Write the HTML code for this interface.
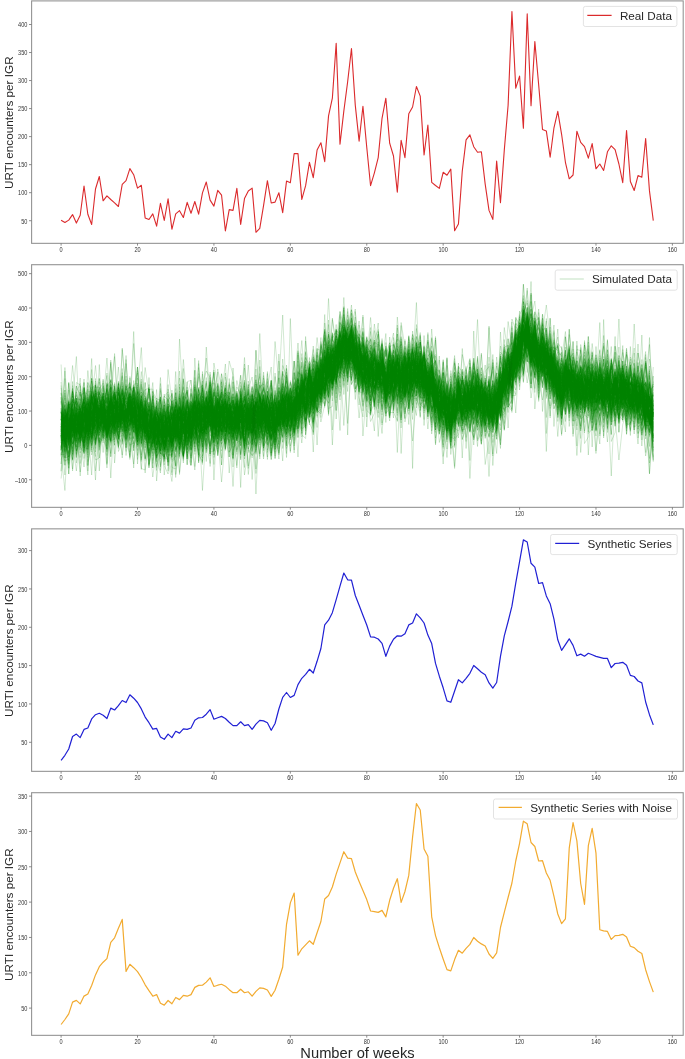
<!DOCTYPE html><html><head><meta charset="utf-8"><style>html,body{margin:0;padding:0;background:#fff;width:685px;height:1059px;overflow:hidden;}svg{display:block;will-change:transform;font-family:"Liberation Sans",sans-serif;}</style></head><body>
<svg width="685" height="1059" viewBox="0 0 685 1059">
<rect width="685" height="1059" fill="#fff"/>
<g transform="translate(61.1 0) scale(3.8206 0.5)" fill="none" stroke="#008000" stroke-opacity="0.2" stroke-width="0.9" stroke-linejoin="round">
<path vector-effect="non-scaling-stroke" d="M0 846l1 27 1-65 1 24 1 41 1 21 1 11 1-29 1-37 1 42 1-33 1-16 1 6 1 24 1 5 1-28 1 20 1-27 1-24 1 13 1 52 1-55 1 49 1-1 1-32 1 26 1 9 1 0 1-4 1-8 1-38 1 68 1 25 1-68 1 20 1-19 1-29 1 18 1 19 1-29 1 91 1-29 1-83 1 23 1-35 1 53 1 9 1 6 1-19 1 17 1-19 1 45 1-28 1-7 1-7 1-20 1 38 1-25 1-58 1 44 1-19 1 16 1-25 1-19 1 3 1-24 1 63 1-59 1 60 1-45 1 54 1-97 1 27 1-5 1-56 1 30 1-32 1 14 1-11 1 84 1-38 1-28 1 69 1-12 1-22 1-19 1 26 1-22 1-3 1 61 1-10 1-21 1 63 1-83 1 12 1 2 1 21 1-22 1 45 1-38 1 69 1-24 1 49 1-31 1-27 1 31 1-35 1-10 1 16 1-61 1 96 1-3 1-42 1 16 1 29 1-86 1 46 1-37 1-12 1-29 1-40 1-23 1 0 1 97 1-64 1 59 1-25 1 32 1-57 1 54 1 71 1-42 1 53 1-81 1 11 1-4 1-15 1 50 1-94 1 98 1-8 1-38 1 47 1 3 1 31 1-86 1 64 1-15 1-21 1 2 1 20 1 0 1 4 1 67 1-45 1 49"/>
<path vector-effect="non-scaling-stroke" d="M0 885l1-8 1 44 1-138 1 63 1-74 1 114 1-78 1 33 1-33 1 57 1-11 1-4 1-12 1-5 1-6 1 2 1 21 1 1 1-32 1 45 1-32 1 12 1 24 1-17 1 18 1 8 1-23 1 13 1-24 1-7 1-3 1 56 1-71 1-2 1 6 1 30 1-22 1 6 1 11 1-15 1 3 1-34 1 17 1-1 1 78 1-7 1-80 1 28 1 2 1-41 1 28 1 5 1 6 1-44 1 82 1-54 1 35 1 4 1-57 1 25 1 15 1-57 1 9 1-9 1 9 1-71 1 2 1 34 1 56 1-54 1-53 1 39 1-78 1 35 1 59 1-128 1 63 1 33 1-24 1-16 1 111 1-68 1 61 1-33 1 55 1-87 1 89 1-55 1-28 1 21 1 11 1-18 1-42 1-5 1 60 1 6 1-68 1 75 1 29 1 1 1 11 1 75 1-99 1 49 1-18 1 51 1-54 1-75 1 85 1-43 1 20 1 7 1-19 1 0 1 34 1-75 1-10 1-1 1-35 1 6 1-146 1 126 1 13 1 22 1 32 1-41 1-19 1 53 1 33 1-31 1-19 1-36 1 62 1 28 1-15 1-9 1-7 1 7 1 38 1-54 1 35 1 28 1-4 1 8 1-58 1 28 1-9 1-29 1 35 1-16 1 55 1-50 1 1 1 51 1-40"/>
<path vector-effect="non-scaling-stroke" d="M0 860l1-29 1 10 1-7 1 27 1 9 1-34 1-8 1-25 1-72 1 79 1 23 1 4 1-39 1 40 1 27 1-41 1 7 1-6 1 15 1-11 1 22 1-15 1-48 1 30 1 22 1 36 1 54 1-49 1 54 1 3 1-56 1-46 1-2 1 7 1 5 1-111 1 68 1 42 1-83 1 106 1-2 1-67 1 96 1-90 1-17 1 26 1 52 1-130 1 108 1-15 1 76 1-81 1 25 1 19 1-97 1 76 1-2 1-4 1 10 1-41 1 5 1-44 1 24 1 17 1-76 1 91 1-84 1 37 1-39 1-47 1 11 1 9 1-11 1 51 1-50 1 15 1 22 1 18 1-48 1 110 1 7 1-67 1-14 1 9 1-1 1 12 1-47 1 33 1-9 1 83 1-103 1 33 1-7 1 5 1 41 1-73 1 33 1 58 1-31 1-4 1 94 1-42 1 3 1-39 1-13 1 42 1-67 1-36 1 73 1-20 1 26 1 0 1 33 1-21 1-69 1 37 1-73 1-22 1 86 1-57 1-89 1 55 1 31 1 40 1-44 1-35 1 70 1 94 1-141 1 103 1-27 1-22 1-25 1-18 1 64 1-9 1 15 1 48 1 23 1-78 1 29 1-11 1 47 1-61 1-5 1-4 1 28 1 70 1-169 1 131 1-61 1 8 1-41 1 115 1-68"/>
<path vector-effect="non-scaling-stroke" d="M0 957l1-71 1-76 1-7 1 5 1 79 1-24 1 24 1-116 1 36 1 14 1 29 1 3 1 0 1 27 1-69 1 20 1-55 1-10 1 56 1 62 1-50 1-69 1 164 1-48 1 7 1-15 1 9 1-25 1-25 1 50 1-18 1-5 1-55 1 25 1-2 1-15 1 7 1-2 1 29 1-31 1-11 1 29 1 42 1 5 1-40 1-7 1 12 1-68 1 90 1 49 1-73 1 9 1-64 1 48 1 7 1 8 1-96 1 47 1 37 1 15 1-46 1-4 1 1 1 10 1 30 1-40 1-30 1-39 1-42 1 7 1 23 1 25 1-13 1-17 1 1 1-32 1 59 1-57 1 3 1 83 1-99 1 86 1-20 1-33 1 95 1-38 1-5 1-8 1 24 1-12 1-16 1-38 1-3 1 81 1-22 1-24 1 45 1 30 1-41 1 55 1-54 1 34 1-32 1-17 1 37 1 10 1-26 1 79 1-41 1-43 1 72 1-70 1-48 1 85 1-96 1 14 1-29 1 85 1-68 1-17 1-55 1-25 1 36 1 46 1 0 1 44 1-41 1 40 1 42 1-20 1 34 1 15 1-35 1 10 1-28 1 16 1-49 1-14 1-8 1 33 1-11 1 36 1-24 1 50 1 15 1-5 1-42 1-9 1 45 1-19 1-19 1 17 1 24 1-37 1 63"/>
<path vector-effect="non-scaling-stroke" d="M0 899l1-103 1 84 1-96 1 49 1 31 1-39 1-25 1-13 1 50 1-8 1 7 1 28 1-21 1-58 1 42 1-1 1-40 1 58 1-74 1 42 1 41 1-3 1 15 1-84 1 84 1 1 1-8 1 8 1-18 1-44 1 14 1 69 1 6 1-18 1-34 1 5 1-54 1 40 1-44 1 51 1-9 1 72 1-25 1-52 1-13 1 73 1-4 1-35 1-41 1 99 1-117 1 60 1-35 1-29 1 48 1-14 1-48 1 48 1-11 1-25 1 22 1 2 1 2 1-28 1 4 1 35 1-48 1 34 1-35 1-18 1-85 1 22 1 31 1-99 1 82 1 7 1-43 1 40 1 24 1 39 1-18 1-17 1-20 1 74 1-17 1 63 1-104 1 16 1-8 1-42 1 24 1 52 1-76 1 36 1-18 1 40 1-21 1 103 1-19 1-47 1 75 1-8 1 17 1-56 1 21 1 27 1-45 1-51 1 70 1 31 1-54 1-11 1 37 1-109 1 58 1-33 1-25 1-33 1 74 1-49 1-28 1-8 1-52 1 97 1-14 1-28 1 10 1 32 1-8 1 52 1 71 1-112 1 59 1 31 1-18 1-8 1 5 1 10 1-35 1 29 1 3 1-21 1-27 1 58 1 5 1-31 1 31 1-56 1 45 1 16 1-18 1-2 1-5 1 49 1-1"/>
<path vector-effect="non-scaling-stroke" d="M0 863l1-26 1 54 1-35 1 4 1-32 1 37 1-10 1-49 1 18 1 42 1-74 1 79 1-48 1 16 1-3 1-40 1 50 1 5 1 42 1-26 1-21 1-11 1-2 1 56 1-25 1-87 1 59 1 36 1 11 1-33 1 46 1-102 1 23 1-6 1 23 1 47 1 18 1-21 1-53 1 40 1-43 1 32 1-17 1-20 1 93 1-74 1-1 1-24 1 13 1 9 1-26 1-5 1 30 1 10 1-23 1 29 1 50 1-53 1-115 1 103 1-11 1-1 1 13 1-26 1 23 1-49 1-22 1-7 1-26 1 5 1 2 1-44 1 25 1 4 1-14 1 0 1-2 1-53 1 35 1 129 1-87 1 20 1 8 1 34 1-4 1 34 1-25 1-73 1 27 1 35 1-48 1 11 1-7 1 2 1-5 1 16 1 77 1-49 1 43 1 14 1-37 1 14 1 29 1-57 1 35 1-31 1-1 1-2 1 17 1-31 1 78 1-32 1 13 1 9 1-36 1-33 1 16 1-79 1-27 1-29 1-1 1-2 1 4 1 62 1 18 1-105 1 148 1-76 1 68 1-37 1 20 1 91 1-67 1-61 1 24 1 66 1-11 1-35 1 76 1-22 1 18 1-56 1 13 1-70 1 34 1-31 1 67 1 0 1 32 1-73 1 38 1 4 1 41 1 11 1-48"/>
<path vector-effect="non-scaling-stroke" d="M0 881l1-95 1 129 1-90 1 13 1 24 1 15 1 29 1-105 1 89 1-56 1-36 1 129 1-145 1 62 1-47 1 36 1 14 1-25 1 8 1 43 1 20 1-12 1-44 1-15 1 27 1 13 1 19 1 39 1 43 1-80 1-66 1 37 1-42 1-10 1 29 1-11 1 46 1-15 1-57 1 61 1-38 1-26 1 28 1-22 1-2 1-1 1 65 1 23 1-72 1 85 1-71 1-55 1 57 1-43 1 46 1 66 1-78 1 24 1 28 1-40 1 63 1-41 1-42 1-106 1 72 1 39 1 3 1-75 1-31 1 96 1-28 1-44 1 39 1-82 1-75 1 87 1-15 1 59 1-11 1 8 1 24 1-31 1 8 1 2 1 43 1-99 1 43 1-1 1-19 1 58 1-9 1-26 1-65 1 45 1 133 1-101 1 54 1-40 1 33 1-15 1 102 1-86 1 12 1 6 1 18 1-19 1-39 1 35 1-18 1 14 1 56 1-63 1-16 1 39 1-70 1 26 1-52 1 6 1-59 1 13 1-53 1 50 1 30 1-65 1 74 1 12 1-58 1 46 1-15 1-34 1 131 1-40 1-107 1 91 1 29 1-11 1-3 1-6 1 33 1-28 1 59 1-18 1 29 1-53 1-6 1 40 1-35 1-14 1 44 1-5 1-53 1 13 1 93 1-32 1 22"/>
<path vector-effect="non-scaling-stroke" d="M0 837l1-3 1 59 1-94 1 78 1-1 1-77 1 47 1-23 1 90 1-97 1 25 1 27 1-29 1 51 1-61 1-44 1 42 1-39 1 42 1 37 1 7 1 16 1-36 1 16 1-13 1 7 1 28 1-41 1 3 1-36 1 72 1-29 1-48 1 19 1-8 1 7 1 27 1-64 1 61 1-27 1 70 1-139 1 114 1-42 1 17 1-46 1 43 1-21 1 30 1 16 1-170 1 96 1 24 1 58 1-13 1-20 1-2 1-112 1 21 1 69 1 14 1-44 1 9 1 15 1-49 1 6 1 3 1-31 1 55 1-101 1 48 1 3 1 7 1-65 1 28 1-40 1 34 1-13 1 53 1 13 1-43 1 51 1-20 1-21 1 30 1-19 1 75 1-103 1 77 1-44 1-22 1 99 1-73 1-30 1 70 1 20 1-80 1 62 1 19 1-27 1 74 1-61 1 4 1 23 1-17 1 34 1-36 1-3 1 17 1-30 1 57 1-23 1 14 1-34 1 4 1 48 1-96 1-33 1-41 1 34 1-42 1-33 1 66 1-42 1 26 1-16 1 57 1-24 1 53 1-75 1 56 1-38 1 72 1-35 1 5 1 37 1 73 1-161 1 49 1 76 1-6 1-56 1 37 1 24 1-16 1-47 1-14 1 20 1-50 1 40 1 67 1-55 1 71 1-7 1-6"/>
<path vector-effect="non-scaling-stroke" d="M0 838l1 49 1-11 1 10 1 56 1-79 1-6 1-24 1-10 1-21 1 41 1 19 1-40 1-9 1 17 1 5 1 5 1-32 1-8 1 18 1 33 1-59 1 72 1-15 1-11 1-22 1 1 1 99 1-58 1 36 1-82 1 20 1-47 1 76 1-14 1-40 1 49 1 0 1 47 1-43 1-30 1 15 1-14 1 26 1-10 1-46 1 49 1-6 1 0 1-65 1 74 1-17 1-72 1 44 1 73 1-121 1 119 1-82 1 48 1 23 1-8 1-22 1-68 1 34 1-66 1 95 1-113 1 70 1-28 1-21 1-5 1-19 1-2 1-4 1 64 1-40 1-74 1 64 1 1 1-17 1 19 1 0 1-80 1 64 1 74 1-67 1 65 1-40 1 28 1 13 1-13 1-18 1-5 1 23 1-33 1 23 1-18 1 29 1 30 1-4 1 4 1 39 1-35 1-81 1 64 1-30 1 27 1 21 1-36 1 77 1-90 1 35 1 31 1 49 1-16 1-122 1-27 1 41 1-25 1-33 1 56 1-59 1-55 1 69 1 24 1-20 1 30 1-35 1 19 1 54 1-51 1-4 1 85 1-39 1-82 1 111 1-34 1-17 1 72 1-26 1 70 1-82 1-23 1 49 1-13 1 18 1-73 1 40 1 24 1-55 1-49 1 117 1-76 1 119 1-51 1-8"/>
<path vector-effect="non-scaling-stroke" d="M0 872l1-21 1 97 1-131 1 24 1-4 1 14 1-5 1-51 1 147 1-65 1 4 1-26 1 26 1-91 1 65 1-64 1 52 1-26 1 9 1 42 1-45 1-9 1 38 1 13 1 47 1-70 1 61 1-34 1-15 1 11 1-8 1-23 1 23 1-19 1 20 1-17 1 2 1-6 1-27 1 9 1 32 1-26 1 76 1-42 1-2 1 47 1-133 1 23 1 62 1-17 1-15 1-8 1 9 1 50 1 45 1-47 1-72 1 1 1 37 1-40 1-19 1 63 1-84 1 34 1-25 1 27 1-70 1 59 1-66 1 75 1-58 1-17 1-52 1 14 1 25 1 0 1 23 1 24 1-35 1 4 1 38 1 19 1 33 1-30 1 24 1-115 1 109 1-75 1 34 1-29 1 33 1-42 1 24 1-8 1 20 1-56 1 23 1 65 1-5 1 36 1 10 1-5 1 39 1-53 1-11 1 19 1-38 1 17 1 3 1 27 1 0 1 10 1-12 1 5 1-34 1 24 1-76 1-26 1 36 1-81 1-2 1 26 1-16 1 56 1 12 1-30 1-5 1 40 1-48 1 79 1-43 1 77 1-69 1 24 1 13 1-28 1-69 1 27 1 22 1 9 1 38 1 11 1-16 1 69 1-106 1 0 1 50 1 0 1 2 1 3 1-5 1 68 1-21 1 4 1 27"/>
<path vector-effect="non-scaling-stroke" d="M0 847l1 56 1-95 1 9 1 42 1 14 1-97 1 74 1 17 1-2 1-7 1-52 1-13 1 15 1 32 1-33 1 77 1-74 1 29 1-6 1 45 1-23 1-12 1 28 1 41 1-17 1-29 1-45 1 40 1 29 1-39 1 47 1-27 1-24 1-44 1 27 1-26 1 15 1 80 1-29 1-89 1 22 1 18 1 43 1-31 1 86 1-93 1-46 1 69 1 83 1-84 1-5 1-7 1-22 1 39 1 2 1-21 1-52 1 38 1-24 1 18 1 46 1-41 1-13 1-34 1 17 1 8 1-56 1 25 1-120 1 60 1 30 1-45 1-8 1 43 1-32 1 9 1 27 1-20 1-9 1 12 1 26 1 21 1 16 1-25 1 10 1-42 1 107 1-72 1 30 1-14 1-55 1 66 1-87 1 84 1-23 1 70 1-47 1-24 1 28 1-2 1 21 1 26 1-19 1 7 1 10 1-38 1-19 1 12 1 38 1-29 1 14 1 37 1-16 1-36 1-6 1-3 1-24 1-27 1 5 1-78 1 2 1-2 1 15 1-1 1 61 1-57 1 57 1 3 1-12 1 77 1-34 1-39 1 51 1 24 1-79 1 51 1 16 1-6 1-95 1 66 1-22 1 78 1-35 1-23 1 25 1-34 1 66 1-15 1-57 1 92 1-7 1-85 1 102 1-32 1 71"/>
<path vector-effect="non-scaling-stroke" d="M0 893l1-59 1 18 1-25 1 21 1 12 1 2 1-1 1-2 1-62 1 10 1-8 1 55 1-38 1-23 1 46 1-1 1 45 1-68 1-7 1 31 1-41 1 70 1-26 1-9 1 19 1-28 1 12 1 28 1-8 1 75 1-86 1-58 1 64 1-6 1-104 1 124 1-26 1 12 1-15 1 8 1-77 1 38 1 22 1-14 1 21 1-2 1-16 1-18 1 38 1 29 1-68 1-19 1-15 1 63 1 4 1-40 1 51 1-23 1 14 1 8 1 41 1-41 1-76 1 54 1 8 1-35 1-50 1 23 1-31 1-20 1 55 1-24 1-67 1 15 1 73 1-66 1-49 1 118 1-32 1-37 1 75 1-34 1 8 1-23 1 20 1-12 1 24 1-6 1 39 1 3 1-86 1 35 1-20 1 43 1-8 1 63 1-93 1 55 1 45 1-2 1-33 1-2 1 33 1 24 1-35 1 6 1-38 1 100 1-43 1-37 1 0 1-48 1 41 1-48 1 7 1 108 1-54 1-83 1-11 1-19 1-53 1 22 1-59 1 87 1 24 1 32 1-12 1 22 1-56 1 90 1-24 1-9 1-19 1 90 1-97 1 78 1 6 1-56 1 48 1-5 1-12 1-17 1-22 1 64 1-2 1-92 1 70 1-31 1 32 1 26 1-47 1 44 1 4 1 11 1-1"/>
<path vector-effect="non-scaling-stroke" d="M0 913l1-36 1-44 1 15 1 11 1-39 1 11 1-2 1-67 1 78 1 47 1-11 1-66 1 38 1-21 1 0 1-7 1 58 1-60 1-42 1 52 1 11 1 8 1 16 1 45 1-54 1-1 1 23 1-17 1 4 1-33 1 17 1 25 1 11 1-26 1-24 1-19 1 13 1 11 1-27 1 44 1-34 1-9 1-5 1 41 1-31 1-4 1 30 1-3 1 5 1-6 1-31 1 110 1-162 1 30 1 13 1 18 1 30 1-104 1 95 1-1 1 0 1-54 1 16 1 58 1-82 1 54 1-80 1 23 1 4 1-56 1 50 1-45 1 28 1-68 1 15 1-33 1 52 1 64 1-39 1 19 1 38 1-26 1-31 1-13 1 50 1-10 1-13 1-47 1 125 1-141 1 32 1 36 1-49 1 68 1-64 1 43 1 55 1-16 1-43 1 72 1-13 1-16 1-9 1-14 1 59 1-65 1 0 1 23 1-5 1 11 1 6 1 5 1-23 1 50 1-32 1 41 1-78 1-46 1 0 1-55 1 34 1 5 1 2 1 6 1 43 1-23 1-55 1 46 1 50 1 23 1-25 1-35 1-43 1 66 1-17 1 23 1-23 1 44 1 20 1-78 1 44 1 13 1-35 1 40 1-39 1-10 1 20 1 29 1 13 1-17 1 0 1 3 1 23 1 34 1-1"/>
<path vector-effect="non-scaling-stroke" d="M0 832l1 16 1 29 1-28 1-11 1-16 1 65 1-37 1-22 1-36 1 45 1-30 1 68 1-30 1-70 1 85 1-38 1 1 1-8 1 33 1-34 1 10 1-13 1 13 1-59 1 116 1-22 1 6 1-39 1 29 1 17 1-19 1 11 1-21 1 58 1-35 1-39 1 46 1-56 1 2 1 27 1 33 1-54 1 23 1-1 1 16 1-37 1 39 1-33 1 16 1 64 1-12 1-37 1-37 1 23 1 31 1-98 1 42 1-9 1 1 1 15 1 22 1-55 1 6 1-17 1-24 1 43 1-16 1-17 1-61 1 54 1-21 1-4 1-42 1 46 1-27 1-76 1 75 1-2 1 39 1-5 1-17 1 43 1-32 1 5 1-49 1 24 1-20 1 55 1-20 1 54 1-29 1-25 1 78 1-95 1 11 1 22 1-5 1 76 1-42 1 40 1 23 1 21 1-70 1 52 1-88 1 35 1 27 1 4 1-33 1 31 1 11 1-64 1 56 1-10 1-24 1-66 1 19 1-13 1 4 1-82 1-28 1 70 1 16 1-44 1 20 1 4 1 24 1 8 1 35 1-42 1 33 1 0 1-6 1-3 1 43 1-32 1 19 1 10 1 15 1-26 1 12 1-15 1 34 1-65 1 7 1 101 1-68 1-16 1 52 1-87 1 81 1-1 1-28 1 65 1-23"/>
<path vector-effect="non-scaling-stroke" d="M0 873l1 57 1-53 1-44 1 69 1-42 1-32 1 40 1-33 1 26 1-75 1 15 1 66 1-95 1-59 1 144 1-31 1-6 1 0 1-13 1-25 1 13 1 58 1-34 1 117 1-108 1 9 1 31 1 57 1-88 1-8 1-12 1 46 1 15 1-15 1-14 1-15 1-14 1 17 1-45 1 83 1-48 1 10 1-57 1 53 1 83 1-69 1 28 1-80 1 29 1 9 1 23 1 3 1-24 1-8 1 2 1 35 1-9 1-35 1 0 1 26 1 5 1-45 1-31 1-1 1 6 1 9 1 2 1-50 1 45 1-12 1-65 1-50 1 52 1-65 1 27 1 10 1 24 1 37 1 29 1-36 1-7 1 49 1-29 1-37 1 82 1-29 1 17 1-13 1 40 1-64 1 14 1 24 1-15 1 6 1-37 1 61 1-37 1 58 1-36 1 13 1 23 1-15 1 35 1-52 1 9 1 4 1 37 1-31 1-10 1 39 1-13 1-22 1 21 1-36 1 7 1-25 1 12 1-20 1-30 1-67 1 55 1-33 1-40 1 60 1-6 1 18 1 39 1-41 1-15 1 100 1 14 1-20 1-36 1 63 1-51 1 33 1-40 1-8 1 26 1 17 1 12 1-18 1-12 1 4 1-20 1-18 1 90 1-77 1-19 1 15 1 63 1 22 1-38 1 34 1-18"/>
<path vector-effect="non-scaling-stroke" d="M0 843l1 1 1-79 1 83 1-26 1 29 1-7 1-4 1-50 1 64 1-44 1 28 1 6 1-28 1 7 1-26 1 63 1 2 1-38 1 45 1-56 1 104 1-64 1-33 1 1 1 19 1 33 1-25 1-14 1-8 1 13 1 70 1-87 1 41 1 14 1-62 1-9 1 33 1-15 1 7 1-42 1 49 1-25 1 18 1 55 1-23 1-62 1 68 1 14 1-38 1-53 1 2 1 81 1-24 1-9 1 34 1-27 1-2 1-8 1-51 1 2 1 41 1-40 1 26 1-60 1 41 1-45 1-12 1 23 1 17 1-52 1 20 1 16 1-82 1-3 1-20 1-40 1 86 1 33 1-24 1 40 1-2 1 66 1-20 1-71 1 38 1 0 1-46 1 60 1 0 1-30 1-16 1 10 1 48 1-59 1 20 1 38 1-23 1 17 1 22 1-36 1 48 1-23 1 45 1-40 1-10 1 49 1 23 1-39 1-24 1 9 1 55 1-55 1 10 1-22 1 7 1-13 1-34 1-32 1 15 1-49 1-15 1-16 1 68 1-43 1 31 1-12 1 5 1 20 1 0 1 71 1-4 1-48 1 17 1-29 1 21 1 15 1 27 1-6 1-47 1 1 1 19 1 31 1-12 1-16 1 5 1-80 1 106 1-49 1 52 1 13 1 4 1-46 1 33 1 21 1 6"/>
<path vector-effect="non-scaling-stroke" d="M0 840l1-23 1 44 1-22 1-43 1 76 1-30 1-13 1 0 1 12 1-39 1 29 1-15 1 24 1 3 1 6 1-63 1 35 1-22 1 23 1 13 1-3 1 34 1-27 1 21 1-49 1 37 1 11 1-14 1 15 1-10 1-25 1 42 1-21 1-14 1 10 1-50 1 55 1-25 1-1 1 89 1-87 1 41 1-5 1-39 1-7 1 22 1-34 1-7 1 43 1-5 1-29 1 49 1-28 1-13 1 50 1-7 1 0 1-9 1-20 1-19 1-38 1 43 1-38 1-25 1 27 1-11 1 29 1-27 1-43 1-19 1 64 1-33 1-82 1 17 1 2 1 47 1-8 1-1 1 44 1-19 1 26 1 22 1-20 1-68 1 13 1 79 1-25 1 32 1-25 1-34 1-3 1 11 1 19 1 8 1 8 1 14 1-35 1 24 1 8 1 48 1 27 1-32 1-22 1 19 1-50 1 42 1 1 1-31 1-45 1 63 1-7 1 8 1-36 1-15 1 19 1-24 1 6 1 10 1-90 1-9 1-22 1 96 1-72 1 11 1 51 1-46 1-33 1 51 1 15 1 114 1-55 1-44 1 56 1-54 1 153 1-130 1 8 1 31 1-23 1-38 1 18 1 38 1-42 1 65 1-32 1 7 1 6 1-51 1 20 1 0 1-1 1 26 1-29 1 51 1-11"/>
<path vector-effect="non-scaling-stroke" d="M0 834l1-5 1-26 1 68 1-51 1 26 1-31 1-9 1 21 1-13 1-4 1 14 1 53 1-101 1 67 1 6 1-71 1 73 1 11 1-37 1 33 1-6 1-8 1 4 1 21 1 2 1 63 1-76 1 0 1 1 1 0 1-20 1-31 1 22 1-24 1 41 1 42 1-30 1-38 1 26 1-8 1 12 1-10 1 9 1-27 1 31 1-21 1-30 1 10 1 20 1-24 1-29 1 20 1 25 1-54 1 32 1 55 1-44 1 14 1-30 1 49 1-35 1 0 1-4 1-14 1-48 1-47 1 71 1-16 1-19 1 51 1-50 1-36 1 3 1-2 1-21 1 6 1 1 1 32 1 13 1-1 1-4 1 32 1-35 1 23 1 21 1-48 1 45 1 43 1-59 1 5 1-21 1 10 1-42 1 26 1 42 1-37 1 35 1 71 1-55 1 5 1 25 1 6 1 6 1-2 1-33 1 34 1-103 1 63 1 5 1 15 1-22 1 54 1-43 1 20 1-64 1 11 1-1 1 7 1-20 1-30 1-58 1 19 1 32 1 22 1-26 1 0 1 26 1 19 1-15 1 81 1-41 1-31 1 5 1-11 1 36 1-20 1 14 1 51 1-39 1 10 1-28 1 15 1 13 1-31 1 22 1 17 1-19 1 2 1-16 1 31 1 34 1-41 1-38 1 57 1-5"/>
<path vector-effect="non-scaling-stroke" d="M0 874l1-57 1 67 1-11 1-71 1 16 1 33 1 21 1-52 1 0 1 50 1-48 1-42 1 71 1-40 1 64 1-36 1-4 1-42 1 13 1 22 1 15 1-4 1 25 1-12 1-1 1 25 1-12 1 68 1-116 1 45 1-3 1-17 1-11 1 6 1 18 1-75 1 49 1 24 1 46 1-68 1 47 1-45 1 3 1 31 1-1 1 36 1-21 1-38 1 8 1-21 1-22 1-36 1 43 1-40 1-40 1 164 1-59 1-13 1 28 1-54 1-15 1-13 1 42 1-17 1-55 1 61 1-33 1 7 1-29 1-9 1-46 1 33 1-2 1-66 1 99 1-69 1-14 1 60 1 4 1-8 1-16 1 5 1 31 1-8 1 60 1-25 1-30 1 14 1 6 1-30 1-7 1-3 1 20 1 9 1 40 1-56 1 81 1-23 1-37 1 43 1-13 1 18 1 20 1-23 1-97 1 33 1-25 1 111 1 26 1-31 1 0 1-9 1-41 1 40 1-44 1 40 1-62 1-25 1 16 1-59 1-59 1 57 1 56 1-45 1 82 1-72 1 45 1 29 1-95 1 88 1 20 1-40 1 10 1 35 1-47 1 17 1 12 1 6 1 19 1-16 1-43 1 69 1-31 1-10 1 10 1 66 1-113 1 47 1 13 1 59 1-98 1 37 1 7 1 0 1 18"/>
<path vector-effect="non-scaling-stroke" d="M0 840l1 7 1-20 1 29 1-23 1 44 1 9 1-65 1 55 1-15 1-11 1 7 1-32 1-98 1 92 1 17 1-6 1-103 1 89 1 1 1-36 1 108 1-68 1 71 1-40 1 62 1-41 1 46 1-83 1 31 1-57 1 48 1 10 1-29 1 14 1-13 1-23 1 27 1-31 1 80 1-94 1 36 1 24 1-81 1 48 1 45 1-29 1-26 1 69 1-13 1-16 1-22 1-18 1 0 1 23 1 38 1-46 1 12 1 2 1 33 1-25 1-3 1-19 1-16 1-66 1 32 1 7 1-5 1-58 1 22 1 45 1-19 1-46 1 9 1-75 1 8 1 15 1-32 1 115 1-11 1-16 1-26 1 64 1-90 1 10 1 83 1-32 1-8 1 53 1-1 1-81 1 23 1-5 1 47 1-32 1 17 1 35 1-16 1 13 1 1 1 6 1-34 1 79 1-69 1-26 1 17 1 24 1-12 1-18 1 66 1 9 1-15 1 11 1-21 1 21 1-36 1-40 1 1 1-43 1-20 1-11 1-6 1-46 1 44 1 56 1 2 1-73 1 46 1 8 1-35 1 65 1 45 1-9 1-19 1 43 1-45 1 75 1-39 1-10 1-3 1 16 1-2 1-68 1 39 1 40 1-48 1 32 1-46 1 60 1 23 1-24 1-20 1-38 1 30 1-35 1 80"/>
<path vector-effect="non-scaling-stroke" d="M0 884l1-45 1 28 1-2 1-100 1 5 1 55 1 73 1-124 1 36 1-36 1 24 1 13 1-35 1 71 1 48 1-75 1 8 1-23 1 12 1 26 1-16 1 13 1 46 1-44 1 75 1-26 1-8 1 20 1-123 1 86 1-42 1 26 1-45 1 60 1-56 1 21 1-5 1 21 1-27 1 15 1 40 1 90 1-87 1-64 1-3 1-20 1 68 1-27 1 1 1-23 1 12 1-23 1 38 1 6 1 56 1-84 1 39 1-85 1 34 1 38 1-38 1-13 1 13 1 21 1-57 1-9 1 34 1-36 1-18 1-5 1-63 1-2 1 6 1-26 1 38 1 12 1 1 1 29 1 44 1-12 1-63 1 93 1 26 1-95 1 19 1-48 1 75 1-69 1-8 1 90 1 8 1-51 1-42 1 66 1-54 1 67 1 1 1 38 1-3 1-25 1 12 1-1 1 42 1-37 1-47 1 49 1 48 1-22 1 65 1-128 1 24 1-8 1 22 1 21 1-29 1-34 1-56 1 11 1 18 1-29 1 19 1-48 1 22 1 7 1 31 1-10 1-7 1 5 1 12 1 6 1 72 1-57 1 16 1-10 1-15 1 32 1-62 1 31 1 57 1-52 1-30 1 93 1-37 1-5 1-71 1 70 1 32 1-42 1 18 1-18 1-5 1 67 1-9 1-14 1 49"/>
<path vector-effect="non-scaling-stroke" d="M0 870l1 80 1-141 1 55 1-92 1 20 1-7 1 65 1 27 1-80 1 48 1-3 1-20 1 46 1-30 1 41 1-42 1-27 1-18 1 41 1 50 1-29 1-46 1 92 1-96 1 36 1 22 1-6 1 23 1-68 1 35 1-10 1-75 1 100 1 5 1-61 1 32 1-16 1 36 1-8 1 34 1-34 1-34 1-17 1 61 1-29 1-43 1 104 1-76 1 3 1 141 1-126 1-13 1 93 1-123 1 42 1 2 1 18 1-89 1 81 1-5 1-21 1-30 1 19 1 5 1-52 1 14 1 19 1-40 1-15 1 6 1-13 1-33 1 13 1 4 1 2 1-43 1 1 1-7 1 79 1 43 1-52 1-20 1 44 1 36 1-6 1-80 1 77 1-73 1 46 1 14 1-25 1-22 1-2 1-25 1 25 1 30 1-7 1-3 1 31 1 42 1-43 1-25 1 94 1-73 1 105 1-20 1-76 1 16 1 1 1 3 1 49 1 21 1-92 1 65 1-181 1 117 1-47 1 1 1 31 1-36 1-110 1 50 1-13 1 48 1 10 1 8 1-34 1 10 1 86 1 46 1-73 1-58 1 102 1-28 1-1 1-11 1 49 1-56 1 47 1-42 1 19 1-15 1-26 1 33 1 28 1 39 1-88 1 83 1-65 1 30 1 24 1 19 1-12 1-27 1 0"/>
<path vector-effect="non-scaling-stroke" d="M0 838l1 42 1-80 1 21 1 26 1 19 1-10 1-92 1 65 1 33 1-11 1-72 1 69 1 36 1-93 1 37 1 34 1-21 1-72 1 132 1-64 1 14 1-5 1 33 1-66 1 3 1 56 1 47 1-55 1-31 1 28 1-48 1 57 1-59 1 58 1-24 1-45 1 94 1-64 1 13 1-7 1 42 1 4 1-61 1 4 1-24 1 26 1 4 1-24 1 61 1-31 1 34 1-62 1 10 1 50 1-25 1 74 1-44 1-67 1 23 1 15 1-20 1-39 1-9 1-6 1-15 1 70 1-21 1-79 1 27 1-63 1 34 1-13 1 1 1-31 1 50 1-26 1 61 1-43 1-8 1-12 1 54 1 3 1-50 1 43 1 2 1-59 1 126 1-105 1 5 1 55 1 7 1-40 1 11 1-1 1 24 1-16 1 5 1-1 1 9 1 77 1-15 1-23 1 34 1-29 1-76 1 57 1 13 1 35 1-42 1 22 1-62 1 17 1-57 1 139 1-131 1 4 1 10 1 26 1-52 1-100 1 115 1-60 1 37 1-24 1 39 1 15 1 20 1-34 1 51 1-54 1 22 1-7 1-1 1 111 1-93 1-17 1 46 1-65 1 72 1-26 1 13 1-7 1 13 1-9 1 56 1-88 1 13 1-18 1 71 1-32 1 11 1-29 1 46 1 28 1-32"/>
<path vector-effect="non-scaling-stroke" d="M0 848l1 30 1-29 1 11 1 2 1-43 1-15 1 127 1-57 1-36 1-3 1 12 1-40 1 24 1 16 1-18 1-17 1-9 1 6 1-16 1 13 1 69 1-58 1 33 1-23 1 47 1 14 1-12 1 1 1-91 1 54 1-40 1 41 1-40 1 53 1-10 1-19 1-45 1 46 1-58 1 35 1-14 1 9 1 29 1 43 1 4 1-54 1-5 1 19 1-9 1-52 1 26 1-8 1 13 1 30 1 1 1 18 1-28 1 10 1-4 1 22 1-40 1-40 1-41 1 63 1 55 1-123 1 76 1-47 1-24 1-36 1 55 1-53 1 28 1-52 1 37 1 25 1-45 1 66 1-43 1 15 1 26 1 9 1 42 1-4 1-12 1-2 1 5 1-95 1 30 1 11 1-33 1 43 1-44 1 57 1-8 1 11 1-3 1 125 1-126 1 32 1 47 1-27 1 18 1-35 1-35 1 18 1 15 1-45 1-11 1 84 1-37 1-16 1 55 1 3 1-5 1-96 1 50 1-29 1-19 1-84 1 107 1-137 1 138 1-53 1-5 1 71 1-20 1-17 1-67 1 123 1 53 1-67 1-33 1 42 1-27 1 46 1-1 1-41 1 18 1-22 1 30 1-56 1 59 1 37 1 9 1-36 1 19 1-66 1 22 1-20 1 75 1-17 1 43 1-1 1-12"/>
<path vector-effect="non-scaling-stroke" d="M0 785l1 35 1 40 1-20 1-29 1 8 1 11 1-18 1-15 1-10 1 35 1 17 1-2 1-22 1 46 1-19 1 1 1-27 1 54 1-25 1-34 1 36 1-18 1 14 1 14 1 55 1-12 1-28 1-18 1 14 1 10 1-7 1-70 1-8 1-33 1 85 1-33 1 17 1 33 1-47 1 32 1 31 1-49 1 9 1-11 1-35 1 60 1 7 1 18 1-93 1 72 1-8 1 11 1-34 1 9 1-19 1 2 1-14 1 51 1-59 1 42 1-21 1-56 1 62 1 0 1 14 1-69 1 14 1-13 1-25 1 10 1-8 1-44 1 56 1-107 1 31 1 40 1 2 1-13 1-24 1 97 1-38 1 7 1-19 1 29 1-7 1 7 1 2 1-1 1-39 1 23 1 18 1-13 1-7 1 56 1 0 1-63 1 37 1-2 1 44 1-10 1-3 1-41 1 38 1-5 1-17 1 35 1-57 1 50 1-46 1 90 1-64 1 41 1 16 1 63 1-128 1-68 1 45 1-31 1-11 1-15 1-49 1 39 1-86 1 110 1 16 1 19 1 26 1-107 1 74 1 87 1-55 1-5 1-14 1 1 1 7 1 33 1 14 1-5 1-63 1 2 1 62 1-10 1-20 1-3 1 48 1-53 1-25 1 126 1-74 1 7 1 7 1-32 1 44 1-20 1 33"/>
<path vector-effect="non-scaling-stroke" d="M0 834l1 82 1-35 1-26 1 15 1-48 1 36 1-22 1-23 1-4 1-12 1 25 1-28 1 12 1 6 1 21 1-22 1-9 1 22 1-10 1 11 1-19 1 16 1 80 1-21 1 54 1-136 1 124 1-72 1 69 1-8 1-69 1-34 1 30 1-51 1 59 1-48 1 79 1-33 1-22 1 21 1 8 1-10 1-2 1 1 1 13 1-41 1-21 1 42 1-6 1-31 1 80 1-27 1-25 1-18 1 86 1-17 1-56 1-72 1 10 1 98 1-53 1-74 1 52 1 46 1-91 1 102 1-68 1-10 1 21 1-6 1-31 1-29 1-35 1 109 1-70 1 22 1-11 1-69 1 104 1-26 1 56 1-23 1-34 1-2 1-37 1 65 1-47 1-31 1 76 1-28 1-43 1 118 1-68 1 15 1-65 1 133 1-50 1-7 1 52 1-16 1 1 1 28 1-105 1 34 1 86 1-50 1-8 1 29 1-48 1 33 1-16 1 15 1-25 1 30 1-20 1-20 1-54 1-9 1 10 1-42 1-3 1 20 1-53 1-34 1 88 1 7 1 53 1-21 1-13 1 8 1 49 1-39 1 108 1-69 1 6 1-12 1 32 1-6 1-49 1 53 1 5 1-89 1 32 1 86 1-56 1-15 1 73 1-54 1 13 1-7 1-2 1 18 1 14 1-28 1 90"/>
<path vector-effect="non-scaling-stroke" d="M0 893l1 29 1-4 1-35 1-80 1 26 1 37 1-10 1-60 1-5 1 108 1-89 1 33 1-9 1 23 1-81 1 41 1-42 1 69 1 20 1-78 1 44 1 27 1-16 1 40 1 11 1-74 1 31 1 61 1-1 1-47 1 14 1-3 1-9 1 2 1-34 1-28 1 77 1-35 1-59 1 87 1-19 1-29 1 72 1-90 1 36 1-45 1 46 1-35 1 13 1 18 1-3 1 11 1 23 1-32 1-25 1 97 1-57 1-24 1 26 1-28 1-21 1-9 1 36 1 22 1-134 1 19 1 56 1-68 1 28 1-16 1-42 1 5 1-31 1-37 1 72 1-57 1 60 1-30 1 4 1 79 1 21 1-75 1 31 1-6 1 56 1-10 1 54 1-94 1-12 1-18 1 37 1-11 1 7 1 16 1-69 1 70 1-6 1 37 1 6 1 61 1-59 1 18 1-33 1 36 1-41 1-30 1 73 1-6 1-61 1 4 1 74 1-65 1 60 1-14 1 14 1-75 1-16 1 10 1-45 1 19 1-46 1-4 1-13 1 30 1 74 1 36 1-53 1-37 1 45 1-26 1 52 1-7 1-11 1 7 1 10 1-18 1 36 1-9 1-16 1 34 1-80 1 56 1 76 1-54 1-48 1 10 1 29 1 6 1-42 1 34 1 8 1-30 1 9 1 61 1-6"/>
<path vector-effect="non-scaling-stroke" d="M0 851l1 45 1-93 1 42 1 1 1 60 1-24 1-77 1 13 1-51 1 91 1-48 1 2 1 27 1-32 1-30 1 69 1-16 1-2 1-32 1 17 1-11 1 60 1-45 1 41 1 33 1-70 1-3 1 38 1-27 1 70 1-221 1 134 1 37 1-12 1 13 1 25 1-32 1-30 1 37 1-42 1-8 1 20 1 49 1-19 1-24 1-40 1 44 1 24 1-43 1 36 1-11 1-4 1-25 1 22 1-39 1 90 1-17 1-49 1-7 1 27 1-36 1 116 1-146 1-13 1-32 1 42 1 19 1-93 1 58 1 5 1-13 1-29 1-4 1-12 1 1 1 3 1-45 1 14 1 115 1-64 1-85 1 84 1 5 1-37 1 66 1 12 1-51 1 191 1-161 1 94 1-132 1 70 1-56 1 66 1-58 1 19 1 89 1-14 1-3 1-56 1 4 1 87 1-73 1-4 1-6 1 68 1-41 1-24 1 5 1 8 1 85 1-50 1 17 1-52 1-16 1-5 1 19 1-35 1-3 1-84 1 19 1 7 1 9 1-11 1 21 1-21 1 31 1 12 1 46 1-25 1 3 1 57 1-44 1 66 1-16 1-36 1-8 1 59 1-56 1-20 1 11 1 45 1-91 1 36 1 11 1 19 1-36 1 25 1 62 1-93 1 44 1 10 1 22 1 20 1-1"/>
<path vector-effect="non-scaling-stroke" d="M0 864l1-7 1 8 1-7 1-18 1 15 1-26 1 41 1-7 1-21 1-1 1-16 1 47 1-32 1-38 1 30 1-15 1 77 1-83 1-36 1 90 1-43 1-57 1 66 1 6 1 16 1-15 1 3 1 20 1 28 1-24 1-30 1 12 1 82 1-118 1 42 1-50 1 66 1-51 1 4 1 7 1 23 1-6 1-12 1 20 1-18 1-16 1 27 1-10 1 8 1 28 1-68 1-14 1-13 1 79 1-3 1-64 1 47 1-7 1-86 1 96 1-75 1 35 1 36 1-34 1 21 1-28 1-28 1 2 1-1 1-41 1 8 1-23 1-30 1 8 1 5 1 12 1 92 1-111 1 57 1 33 1 9 1-46 1 37 1-16 1 16 1-81 1 21 1 55 1-17 1 40 1-73 1 5 1 22 1 50 1-31 1 0 1 54 1-31 1 32 1 19 1 14 1 1 1-35 1-6 1-1 1-1 1 1 1 2 1-19 1-28 1 46 1-2 1-24 1 42 1 56 1-105 1-106 1 98 1-61 1-53 1-23 1 20 1 117 1-96 1 73 1-42 1-26 1 96 1 1 1-32 1 26 1 47 1-92 1 56 1-83 1 26 1 86 1-27 1 7 1-64 1 61 1 38 1-52 1-12 1 13 1 2 1 22 1-52 1 15 1 14 1 32 1 5 1 26 1-73 1 31"/>
<path vector-effect="non-scaling-stroke" d="M0 868l1-4 1 73 1-80 1 9 1-37 1-19 1 19 1 71 1-143 1 96 1-47 1-5 1-12 1 50 1-39 1-49 1 79 1-9 1-52 1-3 1 70 1 27 1-54 1 52 1-11 1 9 1 3 1 12 1-48 1 25 1 28 1-17 1 30 1-82 1 71 1-35 1-9 1-26 1-29 1 70 1-79 1 96 1-31 1 3 1-29 1 9 1-45 1 78 1-57 1 92 1-52 1 11 1-75 1 75 1 41 1-35 1-46 1 23 1-1 1-3 1-1 1-62 1 26 1 25 1 0 1-75 1 80 1-131 1 53 1 4 1-37 1 14 1 15 1-26 1-29 1 26 1-33 1 63 1 44 1-89 1 11 1 44 1 10 1-41 1 75 1 49 1-87 1-17 1 10 1 11 1-43 1 51 1-2 1 13 1-75 1 39 1 25 1 2 1 37 1 35 1 7 1-10 1-52 1-9 1 49 1 5 1-1 1-44 1-9 1-4 1 14 1-17 1 31 1-4 1-22 1-30 1 5 1 19 1-94 1 12 1-28 1 22 1 33 1-32 1 25 1-51 1 43 1-6 1 34 1 9 1 21 1 31 1-129 1 139 1-40 1 60 1-7 1-35 1 1 1 42 1-33 1-23 1 21 1 85 1-89 1-69 1 76 1-35 1 56 1 8 1-63 1 62 1-28 1 13 1 7"/>
<path vector-effect="non-scaling-stroke" d="M0 849l1-28 1 61 1-100 1 71 1-2 1-10 1-75 1 15 1 21 1 84 1-56 1 44 1-43 1-5 1-26 1-15 1 32 1 7 1 12 1-9 1 26 1-12 1 8 1-2 1-3 1-3 1 20 1-19 1 17 1 24 1-6 1-51 1-26 1 67 1-22 1 70 1-99 1-51 1 168 1-105 1 2 1-82 1 43 1 62 1 21 1-27 1-27 1 18 1-7 1-44 1 91 1-92 1 45 1-18 1 49 1-55 1 71 1-49 1-41 1 41 1 43 1-68 1-14 1-50 1 55 1-29 1 25 1-60 1 37 1 26 1-87 1 49 1-33 1-19 1-59 1 31 1-22 1 83 1-7 1 16 1-91 1 108 1-40 1 25 1-12 1-32 1 99 1-54 1 42 1-40 1 25 1 5 1-45 1 18 1-40 1 12 1 28 1 27 1 49 1-37 1-3 1 54 1-73 1 46 1-41 1 30 1-26 1 19 1 54 1-29 1-49 1 7 1 78 1-93 1 7 1 10 1-4 1-56 1-42 1 81 1-87 1-30 1 39 1 1 1 36 1-12 1 3 1 71 1-15 1-3 1-44 1 43 1 61 1-91 1 14 1 12 1 21 1-40 1 59 1-48 1-52 1 99 1-5 1-8 1-40 1 76 1-63 1 32 1 3 1 17 1 26 1-45 1 6 1 64 1-44"/>
<path vector-effect="non-scaling-stroke" d="M0 824l1 45 1-44 1 60 1-60 1-2 1 11 1 8 1 33 1-80 1 147 1-117 1 8 1-109 1 94 1 0 1 39 1-33 1-23 1 65 1-13 1-17 1-8 1 30 1 6 1 60 1-37 1 17 1-28 1-16 1-7 1-40 1 97 1-128 1 95 1-108 1 112 1-43 1-14 1-9 1 2 1-20 1 15 1 19 1 26 1-22 1 16 1 6 1-36 1-15 1 78 1-29 1-45 1 45 1-5 1-46 1 47 1 38 1-107 1 55 1-45 1-21 1-13 1 24 1-17 1 47 1-24 1-22 1-28 1 36 1-62 1 6 1-69 1 130 1-163 1 123 1-72 1 53 1 31 1-46 1 55 1-5 1-17 1 10 1-15 1 94 1-91 1 1 1 28 1 16 1-21 1 21 1-11 1-13 1-14 1-35 1 80 1 23 1 18 1-14 1 2 1 7 1-77 1 81 1-23 1 9 1 5 1-93 1 104 1-49 1-75 1 100 1 42 1-9 1-68 1 28 1-36 1 51 1-14 1-127 1-22 1 36 1 4 1 8 1-27 1 13 1 24 1 67 1-43 1-5 1 37 1 18 1-12 1-16 1 66 1-75 1 58 1-38 1-51 1 64 1-22 1 11 1-50 1 30 1 24 1-30 1 39 1-49 1-4 1 48 1 12 1 4 1 60 1-62 1-6 1 23"/>
<path vector-effect="non-scaling-stroke" d="M0 794l1 84 1-3 1-32 1 41 1-96 1 18 1 94 1-59 1-13 1-13 1 33 1 4 1-22 1 15 1-33 1 44 1-58 1-3 1 19 1 0 1-14 1 54 1-43 1 69 1-77 1 32 1 52 1-7 1-7 1-79 1 80 1-48 1 22 1-18 1 14 1-42 1 24 1 25 1 57 1-94 1 40 1-41 1-8 1 45 1-34 1 32 1-25 1 1 1-56 1 76 1 3 1-10 1-11 1 12 1 75 1-99 1 31 1 17 1-53 1-6 1 4 1-37 1 28 1 1 1 2 1 26 1-74 1 10 1-21 1-61 1 39 1-4 1-3 1 35 1-57 1 79 1-113 1 113 1-11 1-22 1 0 1-53 1 76 1-29 1-38 1 29 1 63 1-129 1 66 1 28 1 23 1-22 1-21 1 26 1-42 1 58 1-6 1 43 1-5 1 4 1 15 1 49 1-48 1-60 1 60 1 13 1-38 1-72 1 59 1 53 1-23 1-53 1 42 1 40 1-25 1-60 1-117 1 51 1 48 1-69 1 13 1-50 1 45 1 28 1-74 1 42 1 50 1 1 1 77 1-37 1 40 1-28 1-10 1-22 1 34 1 38 1-27 1 5 1 6 1 0 1-4 1-13 1-50 1 5 1 18 1 4 1 65 1-22 1 32 1 5 1-32 1-18 1 41 1-4 1-31"/>
<path vector-effect="non-scaling-stroke" d="M0 856l1-4 1 84 1-125 1-22 1 31 1-18 1 81 1-12 1 10 1-49 1-17 1 39 1-38 1 22 1-26 1 7 1-67 1 78 1-27 1 31 1-26 1 77 1-9 1 78 1-59 1-128 1 89 1 35 1-46 1-47 1 65 1-1 1 27 1-57 1 16 1-7 1-35 1-21 1-2 1 102 1-76 1-25 1 31 1 9 1 17 1-5 1 2 1 9 1 43 1-10 1 13 1-173 1 121 1-3 1-5 1 24 1-36 1 33 1-49 1-27 1 15 1 10 1 3 1-60 1 21 1-2 1 17 1 7 1-58 1 7 1-42 1 4 1 36 1-11 1-24 1 3 1 14 1-16 1 10 1-3 1 82 1-10 1 10 1-69 1 60 1-33 1-22 1 55 1-35 1 17 1-32 1-1 1 61 1-29 1 8 1-26 1-16 1 77 1 3 1 32 1-8 1 22 1-15 1-17 1-14 1 46 1-38 1 21 1-41 1 85 1-94 1 31 1-8 1 10 1-9 1-54 1 10 1-24 1 20 1-84 1 47 1-16 1-10 1-7 1-12 1 3 1 89 1-64 1 8 1 64 1-78 1 94 1 20 1-35 1 21 1-115 1 43 1 56 1 5 1-18 1 4 1 53 1-20 1 17 1-136 1 39 1 20 1 43 1-18 1-20 1 63 1-41 1 37 1-84 1 189"/>
<path vector-effect="non-scaling-stroke" d="M0 883l1 32 1-50 1-2 1-14 1 6 1 38 1-67 1-14 1 39 1-87 1 67 1-19 1 55 1-28 1-77 1 26 1 18 1 12 1-155 1 188 1-47 1 25 1 19 1-37 1 26 1 47 1-29 1-20 1 45 1-23 1 1 1 38 1-42 1-45 1 14 1 42 1-11 1-3 1-6 1 36 1-39 1 17 1-14 1 3 1 4 1-46 1 85 1-48 1-11 1 70 1-29 1 4 1-45 1 35 1-105 1 100 1-15 1-23 1-19 1 30 1 16 1 3 1-100 1 74 1-63 1 0 1 20 1-24 1-23 1-15 1 4 1-54 1 36 1-22 1 58 1-67 1-8 1 33 1-40 1 82 1-13 1-39 1-1 1 35 1 42 1-16 1 22 1-8 1-20 1 48 1-31 1-14 1 4 1-48 1 73 1 15 1-45 1 15 1 60 1 12 1-25 1-19 1 14 1-56 1 95 1 5 1-62 1 34 1-76 1 42 1 53 1-24 1-10 1 58 1-79 1-45 1 11 1-18 1 1 1-15 1-77 1 29 1 33 1-8 1 78 1-62 1-4 1 25 1 55 1-12 1-26 1-14 1-21 1 9 1 61 1-12 1-45 1 34 1 33 1-43 1 115 1-96 1-91 1 81 1 47 1-41 1-5 1 21 1-36 1 45 1 33 1-52 1 43 1 31 1-22"/>
<path vector-effect="non-scaling-stroke" d="M0 896l1-23 1-11 1-62 1 46 1-24 1 41 1-8 1-70 1 67 1-53 1 25 1 23 1 10 1-58 1 14 1-41 1 83 1-37 1 59 1-58 1 24 1-10 1 22 1-14 1 13 1 40 1-64 1 48 1-48 1-2 1 19 1 12 1-21 1 38 1-21 1-4 1-22 1-67 1 58 1-30 1 8 1 35 1 12 1-31 1-14 1 63 1-38 1 12 1 28 1-21 1-2 1 15 1-67 1 115 1-108 1 27 1 11 1-38 1 58 1-94 1 79 1-59 1 11 1-21 1-26 1-8 1 23 1-2 1-16 1-25 1-8 1 46 1-49 1 3 1-6 1 65 1-12 1-64 1 55 1-27 1 39 1-32 1 60 1-72 1-19 1 72 1-80 1 29 1 46 1-30 1 63 1-47 1-3 1-2 1 20 1 5 1-9 1 65 1 38 1-103 1 61 1 4 1-102 1 52 1-10 1 52 1-21 1-23 1 19 1 22 1-1 1-12 1-21 1 47 1-16 1 24 1-58 1 1 1-87 1-62 1-13 1 29 1-2 1 91 1-69 1 158 1-111 1 25 1 19 1 35 1-64 1 10 1 7 1-7 1 64 1-39 1 42 1 3 1-33 1 4 1 17 1-70 1 48 1-14 1-54 1 89 1-63 1 55 1-36 1 79 1-16 1-14 1 9 1-8 1 11"/>
<path vector-effect="non-scaling-stroke" d="M0 839l1 10 1 27 1-31 1 18 1-34 1 35 1 16 1-124 1 64 1 37 1-25 1 25 1-47 1 22 1 28 1-41 1-31 1 28 1-15 1 59 1 9 1-28 1-3 1 27 1-8 1 1 1 27 1-61 1 48 1-13 1-25 1 6 1-18 1 11 1 24 1 18 1-59 1 22 1-43 1-51 1 99 1 22 1-30 1-66 1 86 1 26 1-74 1-12 1-8 1 101 1-64 1-2 1 42 1 10 1-69 1 61 1-61 1-17 1 109 1-22 1-25 1-58 1-38 1 88 1-47 1-26 1-26 1 30 1-44 1 99 1-92 1 14 1-105 1 57 1-4 1 7 1 15 1-33 1 135 1-68 1-10 1 6 1 1 1 73 1-24 1-50 1-2 1-30 1 20 1 12 1-24 1 48 1-34 1-29 1 65 1 3 1-2 1 44 1-34 1-1 1 25 1 15 1-6 1-33 1 40 1-42 1 22 1-4 1-2 1-4 1 4 1 17 1 8 1-49 1 9 1-61 1 33 1-45 1 26 1-18 1-58 1 15 1 55 1-11 1-15 1 29 1-9 1 11 1 24 1 81 1-53 1 7 1-46 1 26 1-17 1 48 1-22 1-53 1 46 1-16 1-30 1 10 1-22 1 83 1 17 1-51 1 3 1-7 1 55 1-8 1 41 1-7 1-29 1-16 1 58"/>
<path vector-effect="non-scaling-stroke" d="M0 787l1 60 1-22 1 40 1 16 1-74 1 80 1-13 1-2 1-55 1 6 1 13 1 8 1-27 1 43 1-76 1 33 1-4 1 37 1-76 1 51 1-25 1 26 1 20 1-3 1-16 1-1 1 33 1-68 1 14 1 19 1 48 1-38 1 33 1-26 1-3 1-117 1 141 1-29 1-35 1 56 1 15 1-59 1 34 1 0 1 6 1-14 1 28 1-35 1-15 1 13 1 18 1 0 1 40 1-11 1-66 1 64 1 31 1-53 1 2 1 12 1-89 1 29 1 4 1-4 1 25 1-66 1-67 1 71 1-138 1 188 1-4 1-121 1-3 1 17 1 0 1-51 1 78 1 5 1-38 1 154 1-110 1 29 1-32 1-35 1 110 1-80 1 11 1 54 1-45 1-41 1 44 1-39 1 36 1 0 1 32 1-20 1 20 1 72 1-78 1-10 1 43 1 41 1-53 1-16 1 32 1 8 1 35 1-76 1 42 1 60 1-132 1 66 1-16 1 28 1-37 1-98 1 16 1 91 1-94 1-15 1 4 1-12 1 37 1-31 1-3 1 84 1-73 1 45 1-48 1 56 1 52 1-36 1-47 1 20 1 45 1-77 1 104 1 16 1-98 1 39 1 21 1-56 1 37 1-3 1-16 1 7 1-16 1 62 1 4 1 46 1-99 1 31 1 79 1-29 1-19"/>
<path vector-effect="non-scaling-stroke" d="M0 837l1 21 1 9 1 6 1 42 1-61 1-79 1 55 1 49 1-62 1 33 1-5 1-27 1 62 1-34 1-61 1 24 1 1 1 8 1-26 1-58 1 115 1 30 1-124 1 108 1-13 1-17 1 71 1-73 1 16 1 26 1-35 1-7 1 2 1 19 1-5 1 46 1-64 1-11 1-34 1 39 1-44 1 74 1 36 1-32 1-6 1-30 1 56 1-85 1 67 1 0 1-53 1 23 1-32 1 29 1 0 1 26 1-35 1-19 1 94 1-61 1-41 1-33 1 54 1 14 1-77 1 47 1 60 1-151 1 64 1-45 1 42 1-50 1-13 1 15 1-5 1-2 1-13 1 52 1 64 1-41 1 2 1-2 1-20 1-34 1 28 1-2 1 41 1-54 1-3 1 50 1-29 1-9 1-9 1-21 1 62 1 14 1-30 1 44 1 20 1 21 1 10 1-23 1 22 1-52 1 14 1 38 1-75 1 12 1 49 1-47 1 58 1 28 1-44 1-43 1 43 1-76 1-5 1 4 1-91 1-10 1 18 1 18 1-6 1 30 1-13 1 26 1-16 1 19 1 37 1 29 1-22 1-18 1 0 1 4 1-6 1-9 1 63 1-20 1-45 1 12 1 21 1 8 1-27 1 84 1-69 1 37 1 1 1 41 1-4 1-51 1-16 1-14 1 69 1-95 1 101"/>
<path vector-effect="non-scaling-stroke" d="M0 836l1-32 1 9 1 35 1-12 1 8 1 1 1-13 1-1 1 4 1-1 1-47 1 102 1-43 1-33 1 25 1-19 1 7 1 0 1 76 1-101 1 38 1 3 1 69 1-60 1 22 1-45 1 64 1 32 1-67 1-5 1-57 1 98 1-5 1-75 1-3 1 19 1 55 1-89 1 34 1 33 1-61 1-9 1 67 1-39 1-25 1 83 1-91 1 99 1 4 1-45 1 1 1-13 1 48 1-21 1-46 1 21 1 0 1-5 1-48 1 57 1-31 1-107 1 116 1 2 1-86 1 71 1-58 1-28 1 64 1-4 1-37 1-63 1 29 1-9 1 8 1 8 1-19 1 36 1 35 1-26 1-18 1-42 1 49 1-1 1 77 1-36 1-10 1 3 1-28 1 94 1-45 1 12 1-5 1-26 1 8 1-45 1 77 1-30 1 42 1 9 1-5 1-33 1 95 1-114 1 39 1-28 1 14 1 10 1-88 1 87 1 16 1 37 1-27 1-5 1 13 1-113 1 31 1-10 1 82 1-121 1-68 1 13 1 43 1-30 1 63 1-33 1 48 1 3 1-33 1 73 1-52 1 44 1 35 1-72 1 56 1-23 1 15 1-43 1-34 1 37 1 5 1 13 1 23 1-1 1-31 1 36 1-1 1-16 1 74 1-62 1-38 1 27 1-13 1 35 1 30"/>
<path vector-effect="non-scaling-stroke" d="M0 847l1 0 1-13 1 1 1 47 1-87 1-11 1 5 1 63 1-19 1 18 1-10 1 16 1-62 1 59 1-56 1 34 1 24 1-73 1 82 1-28 1 49 1-68 1 36 1-18 1 38 1-58 1 57 1-2 1-25 1-2 1 53 1-43 1 1 1-11 1 44 1-35 1-53 1 37 1-21 1 68 1-40 1 43 1-10 1-50 1 2 1 1 1-8 1 60 1-86 1 18 1 38 1 1 1 43 1-79 1 17 1 1 1-41 1-52 1 100 1-22 1-50 1 28 1-42 1 24 1-35 1 38 1-19 1 24 1-40 1 19 1-89 1-16 1 78 1-13 1-22 1 45 1-29 1 44 1-11 1 13 1 27 1-49 1 5 1 18 1-27 1 28 1 44 1-103 1 61 1-66 1 88 1-105 1 88 1-9 1 20 1 13 1 7 1 4 1-4 1-2 1 8 1 71 1-75 1 39 1-39 1-26 1 26 1-6 1-4 1 11 1 16 1 48 1-53 1-25 1-9 1-14 1-14 1 66 1-123 1-8 1-8 1 11 1-42 1 54 1 11 1-7 1-46 1 93 1-34 1 48 1-3 1-66 1 54 1 12 1 0 1-37 1 51 1-111 1 63 1 113 1-20 1-23 1-62 1 14 1 10 1 28 1-31 1-34 1 69 1-18 1-13 1 64 1-9 1-14 1 8"/>
<path vector-effect="non-scaling-stroke" d="M0 803l1 112 1-97 1-87 1 80 1 32 1-13 1 0 1 54 1-67 1-30 1 45 1 24 1-12 1-19 1 15 1-11 1 27 1-5 1-56 1 88 1-10 1-42 1 62 1-8 1-47 1 13 1-2 1 5 1 63 1-96 1 33 1-43 1-31 1 55 1 5 1 64 1 12 1-87 1 25 1-10 1-7 1-34 1 44 1-13 1-2 1 77 1-80 1-19 1 53 1 36 1-30 1-28 1-44 1 45 1-21 1 44 1-143 1 89 1 37 1 44 1-37 1-59 1-19 1-22 1 18 1-81 1 79 1-26 1 22 1 4 1-48 1 13 1-5 1-19 1-54 1 41 1-54 1 89 1-60 1 106 1-44 1-58 1-19 1 79 1 26 1 32 1-54 1-19 1 24 1-16 1 71 1-101 1 55 1-40 1 22 1 95 1-79 1 47 1 7 1 37 1-62 1 26 1 61 1-81 1 21 1-18 1-2 1-3 1 9 1 56 1-40 1-11 1 9 1-24 1-74 1 40 1-2 1 1 1-115 1 12 1 8 1 3 1-32 1 71 1 4 1 73 1-88 1 58 1-62 1 105 1 15 1-21 1-25 1 116 1-99 1 37 1-32 1-11 1 39 1-41 1 16 1-29 1 8 1-29 1 42 1 50 1-46 1 37 1-21 1 74 1-122 1 28 1 61 1 112 1-99"/>
<path vector-effect="non-scaling-stroke" d="M0 832l1 46 1-34 1 53 1-67 1 31 1 34 1-58 1 4 1-20 1 0 1 3 1 33 1 22 1-70 1 57 1-52 1 21 1 27 1-47 1 45 1-6 1 64 1-41 1-33 1 45 1 19 1-45 1 0 1-60 1-4 1 42 1-31 1 19 1-11 1 38 1-47 1 51 1-2 1-17 1 2 1 29 1-49 1 48 1 43 1-89 1 4 1-33 1 61 1 3 1-70 1 66 1-58 1-21 1 65 1-19 1-28 1 19 1 36 1-16 1-4 1 35 1-44 1-29 1 20 1-5 1-6 1-9 1-48 1 5 1-13 1 40 1-60 1 10 1 36 1-122 1 59 1 13 1 98 1-104 1 37 1-24 1 40 1 17 1-11 1 6 1-9 1-7 1 11 1-9 1-16 1 48 1-94 1 2 1 94 1-27 1-81 1 42 1 55 1 20 1 1 1 36 1-54 1 19 1 18 1 1 1-70 1 60 1-34 1 24 1-36 1 52 1 7 1 39 1-49 1-101 1 64 1-43 1 14 1-55 1 27 1-57 1-11 1 54 1 10 1-38 1 30 1 0 1 46 1 64 1-24 1-67 1 59 1-97 1 88 1 21 1-26 1 58 1 6 1-46 1-33 1 17 1-4 1-8 1 48 1-53 1 41 1 42 1-47 1 21 1-19 1-24 1 33 1 11 1 34 1 3"/>
<path vector-effect="non-scaling-stroke" d="M0 870l1 24 1-47 1-9 1-1 1-1 1-1 1-13 1 21 1-41 1-5 1 5 1-37 1 72 1 5 1-27 1-39 1 55 1-23 1 9 1 27 1-1 1 10 1 17 1 7 1-29 1 4 1-5 1-12 1 15 1-11 1 62 1-37 1-54 1 59 1-13 1-23 1 10 1-60 1 129 1-99 1 41 1-82 1 56 1 3 1 42 1-62 1 6 1 37 1 44 1-29 1-36 1-13 1 29 1-17 1 4 1 10 1-27 1 78 1-69 1-35 1 50 1-33 1-60 1 29 1 5 1-16 1 11 1 12 1-67 1-30 1 3 1-3 1-1 1 12 1 31 1-82 1 79 1 51 1-78 1 13 1-9 1 66 1-44 1-34 1 78 1-4 1-27 1 22 1 46 1-41 1-26 1-45 1 46 1-63 1 53 1 50 1-26 1 48 1 12 1 30 1 14 1-7 1-17 1-3 1-141 1 96 1 31 1-22 1 43 1-15 1-8 1-4 1 22 1-63 1 25 1-24 1-12 1-55 1-5 1-8 1-17 1-64 1 84 1 11 1 27 1 0 1-31 1 60 1-45 1 17 1 49 1-18 1-65 1 77 1 27 1-22 1-2 1-29 1 27 1-42 1 66 1-72 1 35 1-9 1 26 1 10 1-18 1 3 1 30 1-3 1-39 1 4 1 68 1-41 1 30"/>
<path vector-effect="non-scaling-stroke" d="M0 838l1 47 1-2 1-105 1 64 1-38 1 92 1-17 1-55 1 55 1-54 1-23 1 75 1-68 1 56 1-21 1-43 1 80 1 30 1-71 1-94 1 82 1 48 1-16 1 23 1-58 1 16 1 20 1-63 1 147 1-133 1 40 1-9 1-45 1 76 1-38 1-15 1 25 1-28 1-74 1 70 1 14 1-7 1-35 1 10 1 77 1-35 1 54 1-48 1 4 1 18 1-26 1-48 1 41 1-4 1-17 1 33 1 61 1-124 1 21 1-4 1-54 1 58 1 64 1-113 1 77 1-38 1-2 1-34 1 29 1-75 1-10 1 15 1-21 1 44 1-36 1-23 1-2 1 68 1-21 1 19 1 21 1 39 1-77 1-10 1 72 1-15 1-72 1 5 1 78 1 3 1-69 1 13 1-75 1 68 1 79 1-42 1 1 1 46 1 10 1 0 1-51 1 32 1 95 1-114 1-20 1 0 1 57 1-2 1-13 1 14 1-8 1-46 1 63 1-25 1 17 1-66 1 13 1-14 1-72 1-6 1 6 1 45 1-47 1-2 1-33 1 80 1-30 1-17 1 70 1 0 1 126 1-143 1 105 1-85 1 55 1 7 1-32 1 22 1-53 1 19 1 14 1 31 1-30 1-36 1 27 1-34 1 52 1-2 1 11 1-45 1 87 1-16 1 87 1-42 1-81"/>
<path vector-effect="non-scaling-stroke" d="M0 795l1 53 1-23 1-17 1 60 1-28 1-28 1 55 1 4 1-74 1-40 1 51 1 45 1-15 1-61 1 53 1 2 1-1 1-39 1 6 1 45 1 7 1-3 1-30 1 30 1 43 1-59 1 83 1 6 1-72 1 31 1-43 1 6 1-24 1 15 1 15 1 62 1-75 1 88 1-141 1 46 1-19 1 12 1 14 1-16 1 19 1-17 1 14 1-15 1 10 1 4 1 55 1-53 1 15 1-44 1 32 1-12 1 4 1-30 1 12 1-21 1-19 1 42 1-86 1 141 1-97 1 32 1-63 1 29 1-67 1 23 1-12 1 73 1-45 1-47 1-73 1 87 1-2 1-11 1 11 1 18 1 28 1-40 1 45 1 9 1 7 1 1 1-58 1 34 1 12 1 14 1-44 1 27 1-15 1 7 1 33 1 17 1-15 1-15 1 21 1 7 1 14 1 31 1-45 1-8 1-3 1 17 1 56 1-68 1-49 1 83 1 12 1-44 1-73 1 74 1-16 1-127 1 55 1 33 1-28 1-68 1-56 1 106 1 3 1-4 1-2 1 17 1 67 1 39 1-25 1 1 1-14 1-106 1 83 1 24 1-52 1 34 1 50 1-23 1-45 1 38 1 10 1-15 1 20 1 15 1-12 1 39 1-75 1 44 1-30 1 36 1-59 1 48 1-6 1 26 1-6"/>
<path vector-effect="non-scaling-stroke" d="M0 855l1-27 1 39 1-21 1 57 1-55 1 48 1 1 1-62 1 47 1-64 1 16 1-34 1-5 1 34 1-9 1-4 1 30 1 7 1-58 1 68 1-59 1 41 1 41 1-34 1-1 1 19 1-30 1 15 1 9 1-20 1-41 1 51 1 46 1-57 1 5 1 17 1 19 1-9 1-126 1 94 1-12 1-32 1 28 1 78 1-18 1-12 1-43 1-19 1-17 1 29 1-22 1 28 1-32 1 61 1-60 1 55 1-55 1 0 1 38 1 67 1-68 1 10 1-27 1-21 1-25 1 16 1-65 1 38 1 29 1-89 1 50 1-40 1-91 1 57 1-26 1 29 1 65 1 89 1-81 1-26 1 34 1 51 1-94 1 9 1 53 1 6 1-54 1 50 1 20 1-22 1-72 1 16 1-121 1 169 1-16 1 16 1-14 1 34 1 9 1 0 1 43 1-21 1 40 1-61 1-3 1 2 1 3 1-22 1 9 1 9 1-21 1 44 1 19 1 4 1-43 1-29 1-37 1-41 1-14 1-24 1-37 1 83 1-2 1-46 1 24 1-34 1 17 1 113 1-43 1 5 1 36 1-19 1 7 1 54 1-127 1 117 1-32 1 44 1-61 1 4 1 8 1 9 1 0 1 29 1 21 1-14 1-46 1 0 1 60 1-43 1 0 1 26 1-37 1 52 1 21"/>
<path vector-effect="non-scaling-stroke" d="M0 881l1-25 1-19 1 2 1-5 1 12 1-14 1 22 1-21 1 0 1-24 1 39 1 7 1 18 1-32 1-17 1 13 1-59 1 22 1 63 1 2 1-44 1 2 1 7 1 35 1-11 1 18 1 4 1-36 1 40 1-71 1 78 1-56 1-7 1 101 1-124 1 6 1 17 1-3 1-20 1 14 1-12 1 43 1-52 1 2 1 45 1-4 1-7 1 11 1 8 1-32 1 55 1-85 1 59 1-38 1-8 1 64 1-15 1-92 1 47 1 25 1 6 1-75 1 1 1 43 1-1 1-34 1-35 1 46 1-66 1 2 1 51 1-72 1 2 1 15 1-45 1 45 1 24 1 38 1-9 1-15 1-15 1 29 1-39 1 27 1-28 1-3 1 78 1-15 1-32 1-39 1 50 1-70 1 18 1 46 1-11 1-16 1 49 1-45 1 85 1 25 1-10 1-12 1-17 1 10 1 3 1-57 1 57 1-15 1 0 1 48 1-41 1-5 1 13 1-51 1 13 1 15 1-52 1 21 1-9 1-82 1-9 1 39 1-37 1 70 1 33 1-24 1-40 1 27 1 40 1 24 1 41 1-50 1-15 1-28 1 57 1-52 1 7 1 38 1-47 1-14 1 24 1 46 1-46 1 8 1 24 1-2 1 5 1-60 1 105 1-27 1-8 1-72 1 79 1-3 1 14"/>
<path vector-effect="non-scaling-stroke" d="M0 831l1 24 1 35 1-62 1-10 1-39 1 74 1-24 1 5 1 18 1-35 1 21 1 3 1-23 1 35 1-35 1-32 1 30 1 26 1-16 1-15 1-17 1 41 1-58 1 78 1 34 1-51 1-8 1 101 1-88 1 4 1 21 1-16 1 1 1-36 1 72 1-74 1 19 1-4 1-15 1 14 1 80 1-65 1 8 1-32 1 5 1-40 1 43 1 42 1-24 1 1 1 5 1-40 1 51 1-14 1 5 1-2 1-10 1-7 1-52 1 27 1-46 1-78 1 88 1 8 1-4 1-9 1 2 1 20 1-49 1 43 1-45 1 11 1-27 1-58 1 31 1 57 1 31 1-32 1-90 1 134 1 14 1-22 1-60 1 49 1 6 1-55 1 71 1-80 1 55 1-65 1 20 1 9 1 16 1-11 1 17 1 15 1-66 1 66 1 11 1-6 1 33 1 9 1-31 1 18 1 24 1-47 1 170 1-134 1-40 1 26 1 41 1-29 1 3 1 6 1-65 1 29 1-31 1-28 1-82 1 12 1 13 1 8 1-24 1 25 1 35 1 10 1-16 1 21 1-2 1 17 1 29 1-55 1 36 1-42 1 70 1 34 1-31 1 18 1-47 1 71 1-80 1 36 1-17 1 13 1-4 1 13 1 13 1-24 1 9 1-146 1 144 1 24 1 4 1-3 1 29"/>
<path vector-effect="non-scaling-stroke" d="M0 825l1 65 1-78 1 21 1 16 1-27 1-25 1 58 1-65 1 53 1-6 1-8 1 0 1-2 1-12 1 31 1-4 1-1 1-13 1-10 1-21 1 76 1 12 1-1 1-49 1 52 1-40 1-23 1 33 1 29 1-32 1-15 1-27 1 54 1 15 1 59 1-92 1 1 1 0 1-5 1 30 1-75 1 62 1-24 1-10 1 3 1-69 1 34 1 50 1 0 1-41 1 67 1-83 1 59 1 7 1-24 1 18 1-23 1-24 1-51 1 73 1-18 1 17 1-55 1 73 1-86 1 35 1-51 1 14 1 20 1-103 1 41 1 24 1-11 1-7 1-38 1-8 1 83 1-35 1-3 1 18 1 25 1 27 1-45 1-1 1 33 1 17 1-46 1 0 1-20 1 19 1 28 1-23 1 4 1-39 1 35 1-12 1 12 1 48 1 7 1 21 1 8 1-23 1-1 1-45 1-1 1 40 1-8 1-6 1-3 1 16 1 2 1-21 1 57 1 12 1-116 1-7 1 28 1-1 1-43 1-60 1 28 1 3 1 28 1 29 1-49 1 24 1-31 1 65 1 60 1-22 1 27 1-63 1 15 1 14 1 38 1-52 1 25 1-40 1 0 1 23 1 4 1 41 1-19 1-10 1-21 1-37 1 26 1 6 1 28 1-25 1 22 1 18 1 33 1-42 1 43"/>
<path vector-effect="non-scaling-stroke" d="M0 829l1-18 1 49 1-38 1 45 1-40 1-24 1 21 1 24 1-2 1-19 1 37 1-64 1 23 1-9 1 64 1-62 1 74 1-73 1-38 1 91 1-60 1 16 1 2 1 33 1 43 1-53 1 11 1-54 1 85 1-58 1 4 1 20 1-28 1 26 1 17 1 11 1-74 1 24 1-42 1 167 1-133 1-12 1-9 1 23 1-20 1-1 1 10 1 26 1 43 1-53 1-40 1 60 1-32 1-24 1 23 1 78 1-13 1-69 1 31 1 23 1-77 1 1 1 12 1 5 1-13 1-44 1 71 1-8 1-48 1-34 1-67 1 92 1-39 1-33 1 81 1-119 1-33 1 143 1-131 1 94 1 22 1-85 1 85 1 35 1 5 1 11 1-20 1-57 1-6 1 0 1 6 1-10 1 40 1-32 1 9 1 47 1-31 1 46 1 3 1 8 1-14 1 56 1-23 1-5 1-62 1 54 1-20 1-58 1 47 1-31 1 43 1 4 1 14 1 22 1 5 1-143 1 37 1 17 1-10 1 25 1-94 1 39 1-14 1-39 1 137 1-132 1 74 1 26 1-30 1-13 1 52 1 13 1 7 1-32 1 13 1-9 1 26 1-19 1 0 1 12 1 26 1-31 1 7 1 11 1-26 1 5 1 73 1-25 1-4 1-53 1 20 1-30 1-45 1 223 1-58"/>
<path vector-effect="non-scaling-stroke" d="M0 825l1 17 1-9 1 21 1 32 1-46 1-43 1 68 1-18 1-30 1-40 1 68 1 38 1-88 1-6 1 26 1-2 1-22 1 22 1 43 1-27 1-1 1 3 1-2 1-47 1 65 1 44 1-38 1-6 1 66 1-44 1 11 1-95 1 91 1-73 1 50 1 9 1-41 1-66 1 104 1-16 1 60 1-110 1-17 1 78 1-4 1 32 1-47 1-7 1 31 1-43 1 0 1-32 1 79 1-55 1 98 1-52 1-3 1-57 1 37 1-48 1 43 1-35 1 20 1-26 1 10 1-25 1 7 1-36 1-46 1 56 1-2 1 1 1-42 1-54 1 16 1 43 1 1 1 17 1-64 1 62 1 37 1 42 1-84 1 14 1 63 1-63 1-39 1 18 1 2 1 49 1-43 1 18 1 35 1-38 1 18 1 19 1-5 1 45 1-18 1 17 1-41 1 28 1 31 1-60 1 49 1-23 1-14 1 63 1-78 1 1 1 37 1 22 1-39 1 43 1-68 1-10 1 30 1-10 1-85 1-25 1-1 1 58 1-97 1 66 1-10 1 32 1 1 1 14 1-16 1 49 1-17 1 23 1-4 1 35 1 13 1-68 1 8 1 40 1 21 1-79 1 17 1 6 1 19 1 24 1-11 1-16 1 21 1-51 1 40 1 8 1-36 1 55 1 47 1-22 1-18"/>
<path vector-effect="non-scaling-stroke" d="M0 859l1-34 1 79 1-65 1 54 1-27 1-6 1-21 1-20 1-48 1 25 1 39 1 32 1-52 1-18 1 37 1 8 1-13 1-41 1 27 1 29 1-15 1 50 1-41 1 17 1 35 1-43 1 103 1-70 1 4 1-20 1-31 1-114 1 84 1 96 1-42 1 15 1-15 1-24 1-38 1 90 1-34 1-9 1 57 1-56 1-69 1 55 1-7 1-51 1 57 1 18 1 11 1-124 1 129 1 4 1 7 1-1 1-59 1-46 1 65 1-19 1 26 1-67 1 21 1 2 1-15 1-45 1 38 1-47 1-13 1 76 1-44 1-54 1 66 1-86 1 28 1-73 1 131 1 0 1-50 1 39 1-2 1-7 1-5 1-8 1 36 1-40 1 28 1-6 1 5 1 43 1-76 1 40 1-29 1 5 1 54 1-30 1 36 1-19 1 21 1-73 1 88 1 62 1-76 1 3 1 28 1 5 1-42 1-7 1 66 1-81 1 28 1 44 1-41 1-27 1-8 1 0 1-29 1-37 1 42 1-99 1 43 1 14 1 16 1 43 1-58 1 44 1-8 1-26 1 25 1-12 1 91 1-43 1-39 1 53 1 13 1 17 1-37 1 26 1-14 1 77 1-95 1 4 1-2 1-15 1-4 1 34 1-49 1 92 1-104 1 130 1-56 1-24 1 22 1-6 1-22"/>
<path vector-effect="non-scaling-stroke" d="M0 882l1-3 1-39 1 22 1-32 1 85 1-103 1 22 1 15 1-74 1-1 1 68 1 35 1-37 1-57 1 65 1-18 1 2 1-4 1 1 1-34 1 86 1-22 1 49 1-30 1-23 1 32 1-39 1 42 1-35 1 46 1-66 1 9 1-70 1 93 1-32 1 20 1-79 1 69 1 7 1-67 1 2 1 18 1 23 1 13 1-11 1 4 1-23 1 23 1 37 1-55 1 15 1 15 1 5 1 20 1-33 1 2 1-12 1 46 1-87 1 115 1-86 1 6 1-52 1 77 1-36 1-5 1-16 1 6 1-44 1 0 1-78 1 34 1 20 1-33 1 18 1-40 1-5 1 9 1 78 1 12 1-15 1-18 1 69 1 64 1-102 1-22 1-3 1 103 1-60 1 41 1-51 1-46 1 50 1-23 1-4 1 36 1 3 1 6 1-16 1 54 1-25 1 38 1-18 1-32 1 11 1-31 1 47 1-10 1-18 1 22 1-74 1-10 1 72 1 2 1-22 1-64 1 11 1 2 1 30 1-69 1 2 1-70 1 83 1-69 1 130 1-27 1-6 1 36 1-25 1 5 1 40 1-38 1 7 1 16 1 40 1-81 1 67 1-88 1 80 1 62 1-148 1 77 1-18 1 42 1-11 1-2 1 25 1-2 1-28 1-26 1 5 1 5 1 35 1-20 1 33"/>
<path vector-effect="non-scaling-stroke" d="M0 847l1-67 1 83 1-65 1 10 1 41 1 6 1 14 1-27 1-27 1-21 1 3 1 11 1-48 1 67 1 9 1 18 1-16 1-17 1 14 1-41 1-10 1 45 1 7 1 91 1-81 1-23 1 9 1 26 1 23 1 1 1-26 1-64 1 5 1 92 1-34 1 31 1-107 1 79 1-5 1-28 1 28 1-1 1-77 1 33 1 69 1-56 1 2 1 88 1-45 1-1 1 29 1-52 1-51 1 20 1 22 1 83 1-76 1-95 1 73 1-23 1 49 1-13 1-6 1-44 1 54 1-59 1 114 1-133 1-3 1 24 1-74 1-27 1 29 1 1 1 6 1 15 1 24 1-38 1 6 1 4 1 15 1 23 1-49 1 3 1 35 1 4 1 8 1-95 1 87 1 48 1-57 1 47 1-32 1 8 1-8 1 29 1-17 1 82 1-98 1 53 1 30 1-34 1 11 1-39 1 12 1 38 1 7 1-27 1 20 1-36 1-21 1 45 1-6 1-12 1-39 1 10 1-6 1 11 1-70 1-19 1-44 1 16 1 30 1 37 1-46 1 27 1-20 1 75 1 10 1-9 1-1 1 6 1-33 1 33 1-51 1 78 1 4 1-25 1-46 1 61 1-37 1 0 1-2 1-11 1-17 1 31 1 34 1-14 1 14 1-47 1 53 1 16 1-42 1 29 1 95"/>
<path vector-effect="non-scaling-stroke" d="M0 874l1 23 1-19 1-58 1-1 1-63 1 135 1-53 1-14 1-8 1 26 1 7 1-11 1-46 1 39 1 46 1-57 1 22 1-13 1 17 1-19 1-59 1 77 1 4 1 10 1 5 1-21 1-27 1 54 1 17 1-19 1-53 1 44 1-18 1-16 1-1 1-29 1 66 1-30 1-31 1 33 1 32 1-4 1 27 1-68 1-12 1 0 1 101 1-79 1-5 1-6 1 4 1 11 1-8 1-17 1-15 1 40 1-11 1 53 1-60 1 4 1-36 1 17 1 0 1-52 1 56 1-12 1-2 1 34 1-125 1 53 1-60 1 53 1-21 1-72 1 47 1 5 1 12 1-10 1 13 1-25 1 80 1-23 1-9 1-1 1 36 1-29 1 45 1-47 1 10 1 22 1-11 1-37 1 3 1 31 1-2 1-3 1 19 1 6 1-17 1 79 1-34 1 22 1 3 1-112 1 97 1-57 1 22 1 7 1-6 1-5 1 44 1-6 1 31 1-57 1-12 1-15 1-7 1-2 1-84 1-3 1 21 1-29 1 54 1-54 1 73 1-46 1 29 1 36 1-46 1 36 1 83 1-121 1 34 1 43 1 32 1-33 1 8 1-43 1 28 1 33 1-31 1-12 1-36 1 50 1-28 1 35 1-20 1-31 1 62 1-18 1-94 1 103 1-6 1 41 1-13"/>
<path vector-effect="non-scaling-stroke" d="M0 910l1-35 1-62 1 9 1 26 1-19 1 66 1-27 1-76 1 19 1 0 1 30 1 7 1-47 1 39 1-11 1 27 1-97 1 67 1 23 1 1 1 3 1 93 1-102 1 44 1-14 1-17 1-31 1 29 1 23 1-31 1 11 1-63 1 59 1 21 1-56 1-41 1 45 1-8 1 47 1-40 1-21 1 20 1 43 1-64 1 59 1-7 1-20 1-20 1 19 1-29 1 3 1 13 1 15 1-15 1 44 1-50 1-22 1-17 1 118 1-90 1 33 1-5 1 57 1-78 1 2 1-41 1 16 1 5 1-70 1 67 1-86 1-13 1 26 1-63 1 36 1 41 1-21 1-30 1 61 1 46 1 59 1-16 1-132 1 60 1-63 1 62 1-44 1 44 1-4 1 1 1-30 1 18 1 36 1-102 1 98 1 19 1-41 1 58 1-16 1 15 1 57 1-19 1-25 1-36 1-7 1 48 1-26 1-33 1 13 1 52 1-22 1-153 1 209 1-70 1-45 1 41 1 20 1-143 1 82 1-16 1-18 1 51 1-53 1-30 1-2 1 40 1 30 1-28 1 24 1 58 1-30 1 1 1-36 1 54 1 36 1 3 1-152 1 92 1 47 1-53 1-4 1-9 1 50 1-12 1-42 1 36 1-2 1-85 1 86 1 36 1-49 1 59 1-16 1 16 1 44"/>
<path vector-effect="non-scaling-stroke" d="M0 856l1-65 1 66 1-4 1 25 1 0 1-20 1 73 1-132 1 38 1-11 1-1 1 8 1-9 1 8 1 22 1-21 1 0 1-22 1-4 1 43 1-23 1-5 1 25 1 46 1-78 1-19 1 95 1-50 1 20 1-11 1 12 1 37 1-30 1-59 1-5 1 45 1-42 1 37 1-60 1 101 1-54 1 16 1-37 1 26 1 20 1-36 1-31 1 33 1 21 1-27 1 28 1-20 1-58 1 47 1 45 1-27 1 0 1-42 1 41 1 41 1-8 1-44 1 22 1-29 1-47 1-3 1 26 1 7 1-16 1-46 1-95 1 53 1 101 1-38 1-25 1-16 1 25 1-19 1 11 1 7 1-16 1 28 1 9 1 9 1 37 1-45 1-50 1 44 1-39 1 64 1-53 1-41 1 38 1-17 1 52 1 1 1 12 1 31 1-10 1 33 1 4 1-65 1 81 1-44 1-5 1-45 1 44 1 13 1 24 1-39 1-16 1 73 1-40 1 8 1-42 1-5 1 32 1-75 1-10 1 41 1-13 1-45 1 5 1 7 1-56 1 38 1-27 1 66 1 17 1 12 1 58 1-47 1-2 1-22 1-11 1 58 1-41 1 52 1-33 1 16 1-43 1 57 1 32 1-44 1 32 1-44 1-9 1 8 1-8 1 11 1-32 1-11 1 74 1-22 1 77"/>
<path vector-effect="non-scaling-stroke" d="M0 928l1-93 1-13 1 10 1-12 1 50 1-34 1 19 1 95 1-160 1-2 1-15 1 33 1-35 1 29 1-33 1 74 1 0 1-38 1-29 1 154 1-108 1 101 1-56 1 10 1-79 1 31 1 61 1-28 1 3 1-120 1 158 1-39 1-22 1 19 1-30 1-13 1 59 1-42 1 12 1-45 1 47 1-12 1-27 1 3 1 23 1 43 1-80 1 34 1 14 1 45 1-93 1 52 1 18 1-7 1-22 1 56 1-61 1-34 1-12 1 32 1 81 1-178 1 145 1-62 1-27 1 11 1 14 1-36 1-52 1 33 1-44 1-1 1-36 1 24 1-10 1 5 1 10 1-54 1 162 1-92 1-7 1 46 1 10 1-17 1 16 1 20 1-47 1 72 1-154 1 80 1 37 1 11 1 14 1-15 1 14 1 31 1-56 1-47 1 90 1-1 1-78 1 150 1-136 1 94 1 41 1-53 1-94 1 43 1-33 1 48 1 56 1-48 1 45 1-56 1 45 1-48 1-70 1-2 1 43 1-53 1 23 1-85 1 94 1-93 1-5 1 55 1-11 1 22 1 45 1 49 1 2 1-42 1 30 1-105 1 115 1 12 1 11 1-40 1-4 1 126 1-72 1 34 1-100 1-37 1 23 1 58 1-23 1 53 1-45 1 47 1-10 1-4 1 0 1-108 1 48"/>
<path vector-effect="non-scaling-stroke" d="M0 851l1 3 1-12 1 7 1-28 1 19 1-13 1 24 1-2 1-10 1-6 1-39 1 35 1-27 1 24 1 38 1-27 1 2 1-16 1-7 1-8 1 38 1-17 1-9 1 65 1-14 1 18 1-25 1-43 1 62 1 50 1-138 1 126 1-89 1 51 1-120 1 74 1-7 1 24 1-2 1-6 1-30 1-22 1 45 1-6 1-13 1 7 1 8 1-46 1 31 1 32 1 26 1-51 1 21 1 20 1-8 1-60 1 70 1-33 1-16 1-32 1 68 1 1 1-68 1-33 1 13 1 2 1-5 1 32 1-31 1 5 1-40 1-39 1 46 1-37 1-17 1 31 1 20 1 15 1 21 1-86 1 57 1-24 1-57 1 101 1 10 1-47 1 55 1-40 1 76 1-55 1-92 1 91 1-10 1-12 1-20 1-27 1 114 1-51 1 63 1 31 1-25 1 33 1 79 1-106 1-64 1 43 1-7 1-10 1-18 1-7 1 51 1 7 1-40 1 15 1-14 1-18 1-35 1 6 1 1 1-16 1-15 1-19 1-3 1-26 1 141 1-75 1 42 1-93 1 81 1-18 1 60 1-34 1 4 1 63 1-26 1-17 1 10 1 2 1 6 1 25 1-72 1 30 1 12 1-18 1-15 1-15 1 1 1 47 1 7 1 10 1-3 1-42 1-8 1 84 1-35"/>
<path vector-effect="non-scaling-stroke" d="M0 843l1 4 1-33 1 73 1-14 1 14 1-46 1 74 1-64 1-70 1 43 1 81 1-90 1-5 1-25 1 0 1 77 1-31 1 17 1-19 1 4 1-9 1 17 1-3 1-12 1 24 1-25 1 73 1 2 1-25 1 39 1-97 1 38 1-20 1 5 1 28 1 4 1-21 1-34 1 13 1-1 1-32 1 67 1 22 1-129 1 81 1-11 1-6 1 77 1-65 1-3 1 15 1-9 1 20 1-46 1 27 1-32 1 84 1-83 1 46 1-1 1-53 1 77 1-85 1 42 1-19 1-22 1 41 1-87 1 0 1 3 1-39 1-12 1 13 1-26 1 19 1 23 1-61 1 16 1 191 1-96 1-43 1 73 1-101 1 25 1 28 1 41 1-55 1 67 1-59 1 10 1-38 1-26 1 67 1 29 1-35 1 20 1-8 1 77 1-17 1 59 1-119 1 68 1-61 1-13 1 35 1-42 1 34 1-67 1 50 1 19 1-5 1 45 1-36 1-13 1 33 1 9 1-110 1 80 1-130 1 45 1 53 1-93 1 28 1 77 1-92 1 35 1 29 1-78 1 73 1 26 1 75 1-91 1-10 1 98 1-3 1-52 1-3 1 38 1-71 1 69 1-72 1 22 1 49 1-12 1 4 1-14 1 12 1-4 1 5 1 14 1-118 1 50 1 20 1 172 1-141"/>
<path vector-effect="non-scaling-stroke" d="M0 859l1 13 1 19 1-12 1-23 1-35 1 39 1-119 1 76 1 48 1-35 1-13 1 28 1-11 1-39 1-6 1 36 1 19 1-51 1 45 1 40 1-70 1 51 1 7 1 28 1-16 1 7 1 15 1-92 1 9 1 46 1 23 1 3 1-43 1-42 1 11 1 77 1-56 1 17 1 41 1-58 1-92 1 126 1-25 1 46 1-68 1 28 1-7 1 14 1-71 1 39 1 23 1 12 1-13 1-56 1 39 1-85 1 82 1-23 1 31 1-24 1 40 1-16 1-1 1-162 1 129 1-29 1 26 1-83 1 65 1-31 1-54 1 65 1-42 1 4 1 124 1-118 1-106 1 70 1-10 1 60 1 14 1-42 1 44 1-70 1 107 1-9 1-70 1 89 1-82 1 60 1 2 1-30 1-49 1 14 1 35 1-32 1 72 1-2 1 3 1 29 1-5 1 35 1-97 1 2 1 47 1-5 1-84 1 75 1 88 1-19 1-49 1-11 1-9 1 26 1-23 1-6 1-33 1 18 1-80 1 11 1 0 1-43 1 23 1 6 1-38 1 37 1 101 1-52 1-27 1 61 1-20 1 47 1-8 1-33 1 52 1 12 1-1 1-26 1 63 1-79 1-21 1 115 1-90 1-9 1 29 1-69 1 0 1 109 1 5 1-53 1 1 1 60 1-132 1 70 1 62"/>
<path vector-effect="non-scaling-stroke" d="M0 858l1 25 1-18 1-73 1 29 1 62 1-74 1 55 1-28 1-19 1-10 1 21 1 6 1-9 1-3 1 21 1-9 1 2 1 35 1-32 1-42 1 30 1-7 1 66 1-6 1-14 1 27 1-58 1 2 1 20 1-11 1 2 1-13 1-14 1 24 1 7 1-46 1 12 1 20 1-39 1 29 1 34 1-29 1 39 1-50 1 55 1-3 1-44 1 19 1-49 1 15 1 39 1-50 1 37 1 7 1-11 1 29 1-32 1-34 1 23 1-40 1 40 1-66 1-32 1 62 1-9 1 24 1 2 1-39 1-22 1-25 1 22 1-58 1 48 1-60 1 8 1 46 1 11 1-24 1 58 1-2 1-33 1 81 1-132 1 96 1-78 1 28 1 15 1-2 1-27 1 18 1 14 1-27 1 45 1-58 1 61 1-103 1 76 1 119 1-37 1-22 1 36 1-13 1-13 1-25 1 62 1-44 1-12 1 14 1 2 1-35 1-6 1-3 1 64 1-29 1-45 1 19 1-26 1-83 1 71 1-22 1-3 1-32 1 34 1 5 1 7 1-19 1 24 1 42 1 10 1 34 1-87 1 100 1-86 1 31 1 30 1-1 1-24 1 17 1 33 1-105 1 17 1 33 1-16 1-18 1-26 1 108 1-32 1-23 1 35 1-5 1-6 1-71 1 79 1 25 1 7"/>
<path vector-effect="non-scaling-stroke" d="M0 820l1 41 1 46 1-38 1-43 1 42 1-14 1-5 1-48 1-10 1-10 1 24 1 9 1 40 1-40 1 19 1 2 1 13 1-40 1 13 1 11 1-13 1 49 1 38 1-79 1 18 1 61 1 8 1-77 1-13 1 44 1-36 1 81 1-79 1 19 1-1 1-35 1 6 1-23 1 51 1 34 1-18 1-37 1-6 1-16 1 10 1-15 1 14 1-30 1 87 1-19 1-44 1-15 1 9 1 19 1-10 1 25 1-25 1 13 1-30 1 30 1 0 1 30 1-39 1-17 1-10 1-29 1 58 1 8 1-85 1 4 1-19 1 32 1-54 1-34 1 36 1 10 1 20 1-16 1 19 1-28 1-4 1 4 1 93 1-39 1-17 1 9 1-6 1-25 1 49 1-21 1 33 1-29 1-47 1 11 1-14 1 62 1-9 1 47 1 16 1-3 1-2 1-35 1 56 1-38 1-3 1-19 1 47 1-52 1 27 1-34 1 29 1 17 1-31 1 94 1-109 1 11 1-47 1 74 1-93 1-29 1-23 1 24 1 21 1-4 1 12 1-3 1-29 1 29 1 48 1 7 1 28 1-13 1-54 1 15 1 7 1 11 1-3 1-31 1 45 1 30 1-47 1 13 1 88 1-134 1 43 1 14 1-1 1-1 1-15 1 63 1-40 1 7 1 54 1-42 1 14"/>
<path vector-effect="non-scaling-stroke" d="M0 900l1-55 1 25 1-16 1 16 1-27 1-5 1 6 1-127 1 169 1-56 1-28 1-86 1 102 1-14 1 38 1-62 1 58 1-39 1 16 1-2 1 23 1-24 1 19 1 38 1 48 1-103 1 12 1-5 1 20 1 16 1-20 1 15 1-2 1 80 1-99 1-52 1 32 1 46 1-47 1 30 1-26 1 17 1 6 1 22 1 52 1-87 1 27 1-42 1 30 1-22 1-9 1 25 1 7 1-19 1 37 1 49 1-127 1 32 1-1 1-2 1 52 1-30 1-1 1-16 1-30 1 12 1-85 1 42 1-12 1-12 1 34 1-35 1 16 1 8 1-1 1 4 1-58 1-8 1 36 1-43 1 63 1 46 1-48 1 11 1 42 1 2 1-50 1-13 1 64 1-4 1-94 1 92 1-91 1 36 1 76 1-36 1 10 1-14 1 69 1-44 1 14 1 48 1-117 1 36 1 2 1 24 1-6 1 6 1 54 1-56 1-16 1-3 1 23 1 5 1-27 1-20 1-26 1 45 1-151 1 26 1 20 1-9 1 36 1-21 1 41 1-68 1-2 1 91 1-46 1 28 1 11 1 12 1-10 1 64 1-39 1-9 1-40 1 21 1 80 1-1 1-54 1-14 1 27 1 35 1-3 1-34 1-6 1 49 1 14 1-75 1 60 1-79 1 77 1 16 1-60"/>
<path vector-effect="non-scaling-stroke" d="M0 881l1-4 1-14 1-12 1-4 1-1 1 19 1 13 1-39 1 16 1-22 1-41 1-41 1 112 1-59 1 21 1-4 1 35 1-68 1 23 1 25 1-33 1 9 1-9 1 18 1 22 1 25 1 29 1-43 1-13 1 8 1-7 1-39 1 81 1-69 1 51 1-18 1-42 1 27 1-15 1 27 1 10 1 27 1-79 1 59 1-25 1-2 1-12 1-25 1 19 1 37 1-29 1 15 1-20 1 32 1-7 1 19 1-82 1 12 1-35 1 42 1 6 1-10 1-16 1-8 1-11 1-17 1 66 1-33 1-76 1-33 1 107 1-59 1-47 1 8 1 11 1 17 1-12 1 39 1-42 1 60 1-15 1-10 1 44 1-3 1 51 1-14 1-71 1 11 1 7 1-27 1 34 1-59 1 91 1-88 1 18 1 67 1 53 1-81 1 70 1 99 1-135 1 28 1-4 1 5 1-57 1 33 1-33 1 19 1 23 1-59 1 82 1-49 1 70 1 17 1-156 1 7 1 27 1 30 1-57 1-48 1-8 1 21 1 17 1-18 1 8 1-28 1-53 1 68 1 92 1-27 1 24 1-10 1 10 1 25 1 10 1 3 1-34 1-23 1 34 1 11 1-6 1 10 1-2 1-31 1 18 1 9 1 1 1-15 1 3 1-8 1-17 1 55 1-11 1 12 1 15"/>
<path vector-effect="non-scaling-stroke" d="M0 907l1 74 1-147 1 24 1 24 1-6 1-46 1 15 1 45 1-104 1 48 1-76 1 100 1 11 1-63 1-41 1 70 1-5 1 11 1 5 1-13 1 26 1-25 1 57 1-107 1 14 1 2 1 46 1-15 1 83 1-43 1-13 1 37 1-29 1-25 1-6 1 19 1-51 1 71 1-54 1-2 1-28 1 26 1 30 1-13 1 25 1-70 1 53 1 16 1-35 1-8 1 124 1-120 1 4 1 27 1-8 1 0 1-99 1 107 1-20 1-13 1 5 1-17 1-6 1-42 1 3 1 18 1 0 1-33 1-34 1 33 1 36 1-40 1-33 1-35 1 11 1-7 1 59 1-59 1 64 1 3 1 34 1-11 1 14 1 35 1-35 1-38 1-15 1 42 1 0 1-48 1 28 1 27 1-56 1-2 1 41 1 28 1 52 1-79 1 62 1-44 1 26 1 12 1 27 1-29 1-57 1 63 1-10 1 0 1-62 1 58 1-6 1-21 1 13 1-33 1 58 1 1 1-5 1 10 1-118 1-16 1-19 1 6 1-21 1 99 1 11 1-92 1 79 1-30 1-36 1 65 1-18 1 51 1 45 1-74 1 10 1 44 1 0 1-15 1 45 1-83 1-7 1 5 1 14 1 102 1-103 1-1 1-43 1 30 1 24 1 46 1-38 1 16 1 63 1-53 1 31"/>
<path vector-effect="non-scaling-stroke" d="M0 826l1 6 1 36 1-11 1 2 1 7 1 19 1-37 1 12 1-17 1-42 1 4 1 46 1-45 1-22 1 60 1-24 1 18 1-52 1 63 1-51 1 44 1 23 1 14 1-6 1 11 1 19 1 11 1-34 1 2 1-36 1 8 1-33 1 54 1-48 1-72 1 94 1-12 1 11 1-7 1 12 1-54 1 41 1-16 1 15 1 25 1 72 1-153 1 61 1-26 1 29 1-146 1 123 1-2 1-30 1 20 1 72 1-56 1-4 1 29 1-42 1 1 1 18 1-48 1-25 1 25 1 21 1-48 1 51 1-79 1-87 1 115 1-28 1-58 1 22 1-12 1-11 1 74 1 8 1-33 1 41 1 64 1-127 1-49 1 184 1-91 1 0 1 8 1 6 1 43 1-55 1 19 1-10 1-59 1-4 1 53 1 86 1-89 1 85 1-32 1 42 1 5 1-36 1 11 1 40 1-25 1-22 1 51 1-47 1-44 1 32 1 35 1-32 1 32 1 14 1-82 1-1 1-9 1-49 1 25 1-34 1-69 1-26 1 100 1 34 1-32 1 40 1-10 1-20 1 81 1-17 1 24 1-23 1 1 1 32 1-61 1 25 1 27 1-98 1 78 1 69 1-74 1-24 1 21 1-15 1 25 1-8 1 54 1-44 1-24 1 23 1 37 1-152 1 189 1-18 1-17"/>
<path vector-effect="non-scaling-stroke" d="M0 870l1 13 1-116 1 78 1-16 1 54 1-18 1-94 1 52 1 35 1-14 1-5 1-7 1-41 1 77 1-33 1-90 1 80 1-1 1 33 1-25 1 29 1-36 1 7 1 13 1 10 1 18 1-10 1-94 1 123 1-23 1 7 1 38 1-77 1-1 1-62 1 49 1-2 1 13 1 10 1-5 1 24 1-35 1 12 1 47 1-69 1-15 1 39 1 11 1-13 1-4 1 39 1-28 1 4 1-63 1 41 1-1 1-14 1 24 1-23 1-21 1 2 1 17 1-48 1 29 1 16 1-30 1-18 1-14 1-21 1-23 1 52 1-44 1 39 1 7 1-46 1-5 1 35 1-15 1 13 1-18 1 16 1-15 1 72 1-66 1 19 1 81 1-53 1-41 1 68 1-62 1 49 1-128 1 76 1-1 1-7 1 29 1-4 1 3 1 56 1 60 1-70 1 56 1-23 1 0 1-85 1 48 1 32 1-20 1-33 1 21 1-1 1 17 1 50 1-59 1-22 1-51 1-13 1 13 1-29 1-59 1 18 1 26 1 6 1-27 1-24 1 59 1 3 1 46 1 18 1 24 1 15 1-11 1-30 1-2 1 47 1-80 1 10 1-7 1 61 1-23 1-21 1 25 1 57 1-88 1 38 1-48 1 51 1 15 1 5 1-57 1 114 1-71 1-3 1 49 1-44"/>
<path vector-effect="non-scaling-stroke" d="M0 897l1-72 1 46 1-15 1-3 1 99 1-118 1-53 1 45 1-64 1 31 1 44 1-42 1 20 1-17 1-25 1 23 1 11 1-9 1 34 1 29 1-3 1-25 1 42 1-10 1 3 1-40 1 36 1 43 1-19 1-20 1-72 1 63 1 38 1-71 1-26 1 45 1 81 1-113 1-12 1 103 1-71 1 83 1-76 1-14 1 16 1-26 1 61 1-3 1-37 1-49 1 75 1-45 1-67 1 79 1 27 1 17 1-19 1-61 1 43 1-31 1-9 1 60 1-21 1-13 1-91 1-18 1 21 1 28 1-19 1-16 1-2 1 15 1-65 1-35 1 56 1-40 1 46 1 25 1-1 1 22 1 19 1 22 1-57 1 2 1 36 1 23 1-72 1 80 1-98 1 16 1-5 1 3 1 15 1 22 1-6 1 19 1 6 1 52 1-75 1 34 1 84 1-53 1-29 1 19 1-45 1 5 1-32 1 43 1 47 1-20 1 45 1-69 1-3 1 20 1-21 1-54 1-6 1 44 1-49 1-21 1-8 1-66 1 110 1-5 1-32 1 84 1-17 1 11 1-52 1-26 1 73 1-9 1 83 1-61 1-27 1 51 1-15 1-34 1 64 1 93 1-124 1 27 1-35 1 19 1 12 1 27 1-63 1 28 1-53 1 53 1-38 1 47 1 12 1 25 1-37"/>
<path vector-effect="non-scaling-stroke" d="M0 839l1 27 1-29 1 15 1 31 1-33 1-35 1 88 1-104 1 71 1-48 1-36 1 15 1 28 1 4 1 2 1-136 1 93 1-25 1 31 1 39 1 45 1-75 1 47 1 2 1 60 1 30 1-98 1 34 1-53 1 3 1 56 1-83 1-25 1 73 1-32 1 19 1-5 1 6 1 24 1-139 1 47 1 76 1 48 1-87 1 58 1-6 1-24 1 3 1-13 1 30 1-55 1-22 1 96 1-57 1 2 1 30 1 55 1-73 1-72 1 110 1-65 1-26 1 47 1-11 1-9 1 14 1-50 1 33 1-39 1-32 1 14 1-18 1 7 1-30 1 21 1-44 1 25 1 7 1-11 1 2 1 46 1-3 1 29 1-37 1 28 1-62 1 22 1 32 1 3 1-42 1-20 1 68 1 27 1 18 1-45 1 45 1-48 1 108 1-40 1-26 1 6 1 19 1 10 1 4 1-31 1-25 1 24 1 1 1-28 1-3 1-2 1 24 1 25 1-49 1 17 1-62 1-19 1 24 1-63 1-9 1 76 1-124 1 59 1 15 1 34 1-13 1-16 1 11 1 46 1-31 1 13 1 50 1-27 1 102 1-68 1 1 1-48 1 13 1 56 1-2 1-24 1-24 1 13 1-59 1 65 1-33 1 57 1-20 1-8 1 40 1-44 1 16 1 11 1 14 1-37"/>
<path vector-effect="non-scaling-stroke" d="M0 883l1-44 1 12 1 37 1-14 1-23 1 56 1-120 1 52 1 7 1 1 1-61 1 69 1-43 1 28 1-20 1-23 1 35 1 18 1-67 1-42 1 78 1 16 1 3 1-10 1 15 1 37 1-32 1-70 1 33 1 30 1-1 1-11 1 51 1 4 1-62 1 21 1-7 1 45 1-52 1 18 1 30 1-30 1 32 1-71 1 9 1 41 1-58 1-37 1 83 1 43 1-85 1-57 1 94 1 11 1 26 1-51 1 9 1-39 1 26 1 38 1-4 1-62 1-20 1-2 1 28 1-25 1-21 1-9 1-11 1-37 1 28 1-2 1-54 1 58 1-41 1-2 1 72 1-29 1-3 1 44 1-38 1 26 1 22 1-12 1-24 1-6 1 31 1-26 1 6 1 44 1-36 1-31 1-40 1 112 1-93 1 70 1-3 1 39 1 2 1 6 1-22 1 1 1-16 1-36 1 8 1 40 1 14 1-2 1-33 1-12 1 91 1-40 1 11 1-29 1 0 1-13 1-26 1-32 1-15 1-26 1 19 1-45 1 68 1-42 1 96 1-85 1 29 1 37 1-50 1 70 1-34 1-18 1 75 1-103 1 69 1 18 1 0 1 18 1 2 1-29 1 11 1 10 1 10 1-28 1-17 1 58 1-55 1 46 1 7 1 11 1-26 1 23 1-36 1 71 1 14"/>
<path vector-effect="non-scaling-stroke" d="M0 859l1 27 1 11 1-61 1 23 1-41 1 20 1-18 1 32 1-12 1 16 1-33 1 8 1-14 1 36 1 19 1-37 1-66 1 84 1-32 1 30 1-2 1 10 1-26 1-35 1 63 1-2 1 40 1-32 1 31 1-45 1-27 1 30 1-6 1 0 1-9 1 17 1-40 1 33 1-18 1-5 1 27 1-4 1-7 1 31 1-3 1-32 1-13 1-20 1 26 1-15 1-7 1 16 1 1 1-25 1 38 1-37 1 20 1-14 1-7 1 12 1 20 1 2 1-60 1 3 1 35 1-50 1 5 1-7 1-2 1-54 1 26 1-24 1-11 1 15 1 37 1-51 1 13 1 21 1 31 1-34 1 6 1 9 1-19 1 3 1 56 1-25 1 43 1-66 1-43 1 96 1-116 1 76 1 4 1 0 1-7 1 3 1 74 1-4 1 49 1-52 1 41 1-33 1 0 1-40 1 45 1-89 1 26 1 52 1-33 1 22 1-7 1 31 1-28 1 38 1-48 1-28 1-28 1 22 1-42 1 3 1-65 1 15 1 24 1-26 1 53 1-52 1 33 1 33 1 40 1-17 1 34 1-34 1 43 1-74 1 29 1 3 1 13 1 52 1-120 1 101 1-52 1 58 1 72 1-89 1-26 1 64 1-50 1 8 1 6 1 8 1-43 1 67 1 8 1-71 1 77"/>
<path vector-effect="non-scaling-stroke" d="M0 874l1-5 1-53 1-18 1 11 1 68 1-39 1-3 1-78 1 68 1-10 1-22 1 111 1-146 1 97 1 3 1-29 1 51 1-38 1-38 1-37 1 86 1 42 1-50 1-4 1 74 1-24 1-15 1-6 1-25 1 20 1-11 1 4 1 4 1-38 1 40 1-39 1 36 1-55 1-42 1 31 1 18 1 18 1 12 1-8 1-13 1 50 1-44 1-16 1 47 1-63 1 43 1-15 1 75 1-109 1 38 1 8 1-21 1 9 1-17 1-15 1 50 1-21 1-23 1-1 1-49 1 36 1-11 1-45 1 6 1-9 1-9 1 1 1-15 1-3 1 64 1-26 1-41 1 80 1-18 1-9 1-43 1 15 1 44 1 3 1-32 1 11 1-28 1 49 1 36 1-27 1-47 1 25 1-27 1 66 1 4 1-40 1 36 1-13 1 66 1-38 1 22 1-22 1 33 1-71 1 21 1 16 1-38 1 36 1-52 1 9 1 12 1 37 1-8 1-16 1-44 1 32 1 35 1-155 1 90 1-8 1-141 1 77 1 50 1-33 1 29 1 3 1 22 1-5 1 45 1-44 1 22 1 13 1-18 1 10 1-38 1 23 1 37 1-23 1-18 1 37 1-2 1 8 1-92 1 138 1-60 1 7 1-94 1 142 1-42 1 17 1 16 1-51 1 87 1-67 1-26"/>
<path vector-effect="non-scaling-stroke" d="M0 817l1 31 1-18 1 67 1-39 1 86 1-66 1-27 1 19 1-35 1-29 1 44 1-28 1 34 1-58 1 71 1-37 1-3 1-49 1-5 1 42 1 12 1 7 1 51 1-5 1-24 1-5 1-38 1 58 1-18 1-69 1 113 1-44 1 56 1-105 1 53 1-6 1-54 1 99 1-50 1 1 1-32 1-33 1 55 1 1 1 9 1-5 1 11 1-4 1 36 1-96 1 88 1-33 1-38 1 39 1-42 1 37 1 6 1-34 1 21 1-18 1 35 1-80 1 4 1 1 1 30 1-15 1-34 1 42 1-99 1 94 1-48 1-89 1 75 1 3 1-21 1-28 1 24 1-3 1 6 1 36 1 80 1-129 1 65 1-10 1 12 1 68 1-96 1 12 1-10 1-27 1-14 1-3 1 70 1-47 1 82 1-55 1-10 1-65 1 111 1 40 1 22 1 23 1-61 1-19 1 12 1-16 1-43 1 35 1 46 1-50 1 65 1-31 1 24 1-36 1-5 1 34 1-26 1-91 1 14 1-56 1 27 1-66 1 76 1-78 1 136 1-58 1 32 1 11 1-6 1 49 1-47 1 88 1-25 1-93 1 31 1 9 1 37 1-54 1 4 1 12 1 10 1 51 1-27 1-8 1 11 1 3 1 13 1-13 1 56 1-26 1-96 1 137 1-16 1 17 1 59"/>
<path vector-effect="non-scaling-stroke" d="M0 867l1-16 1 70 1-53 1-27 1-11 1-25 1 18 1-45 1-5 1 71 1 22 1-33 1-37 1 35 1 19 1-30 1-29 1 25 1 14 1-29 1 56 1 24 1-104 1 88 1 76 1-66 1 56 1 17 1-122 1 57 1-42 1-68 1 69 1-15 1-13 1-15 1-12 1 100 1-82 1 40 1-16 1 22 1-29 1 69 1-55 1-9 1-23 1 114 1-81 1-34 1-44 1 112 1-28 1-52 1-30 1 143 1-103 1 36 1-57 1 52 1-35 1 40 1-72 1-9 1 42 1-60 1 57 1 13 1-104 1 33 1 18 1 65 1-133 1 31 1-30 1-35 1 76 1 0 1 12 1 46 1-71 1-9 1 48 1 3 1 53 1-137 1 78 1-1 1-40 1 54 1 0 1 0 1-32 1 89 1-92 1 13 1 23 1 16 1 35 1-53 1 35 1 98 1-124 1 34 1-40 1-4 1 32 1-5 1-19 1 87 1-52 1 0 1 53 1-17 1 9 1-103 1 56 1-98 1-16 1 71 1-98 1-1 1 71 1-100 1 37 1-21 1 72 1 18 1 30 1 104 1-93 1 42 1-56 1 30 1 19 1-57 1 44 1-38 1 16 1 59 1 49 1-249 1 172 1-11 1-46 1 40 1 4 1-35 1 46 1-11 1 23 1 25 1-82 1 74 1-19"/>
<path vector-effect="non-scaling-stroke" d="M0 899l1-79 1 56 1-3 1-56 1 68 1-59 1 56 1-60 1 42 1-23 1-6 1 16 1 31 1-34 1-38 1 8 1 45 1-41 1-135 1 118 1 61 1 51 1-90 1 8 1 20 1-26 1 24 1 18 1-32 1 12 1 30 1-54 1 51 1-62 1-10 1-26 1 31 1 17 1-63 1 73 1-61 1 92 1-39 1-17 1 25 1-26 1 43 1 9 1 7 1-16 1 45 1-75 1-19 1 53 1-28 1 36 1-56 1-33 1-40 1 68 1 23 1-27 1 17 1 34 1-74 1 8 1-57 1 39 1 28 1-84 1 42 1-46 1-18 1 27 1 65 1-96 1 7 1 10 1-24 1 46 1 1 1 10 1-13 1 20 1 38 1-14 1-23 1 41 1-17 1 7 1 42 1-47 1 21 1-67 1 39 1-5 1-20 1 56 1-22 1 43 1 12 1-8 1-23 1-2 1 9 1-23 1 40 1-10 1-50 1 30 1 19 1-17 1 47 1-56 1-2 1-38 1 6 1-23 1-18 1-44 1 14 1-19 1-10 1 31 1 41 1 7 1-28 1 16 1 136 1-101 1 25 1-7 1-53 1 50 1 33 1-21 1-21 1 8 1 37 1-110 1 87 1-22 1 38 1-16 1-14 1 73 1-117 1 67 1-5 1 36 1-40 1 9 1-1 1 20 1-3"/>
<path vector-effect="non-scaling-stroke" d="M0 816l1 63 1-82 1 40 1 37 1-42 1 20 1-11 1 5 1-11 1-18 1 23 1 28 1-26 1-11 1-55 1 51 1-8 1 18 1 6 1 14 1-12 1 23 1-28 1 11 1-23 1 23 1 4 1 11 1 3 1-17 1 35 1-9 1-31 1-22 1-21 1 54 1-43 1 91 1-90 1 61 1-76 1 13 1 6 1-14 1 37 1 10 1-47 1-78 1 96 1-2 1-6 1-7 1 31 1-46 1-28 1 39 1 19 1 20 1-29 1-15 1-8 1 30 1-26 1 31 1-48 1-17 1-55 1 55 1-74 1 55 1 1 1-65 1 1 1 35 1-6 1 15 1-1 1-13 1 11 1 29 1-25 1-6 1-11 1 111 1-53 1-8 1-36 1 24 1 12 1-25 1 16 1-29 1-16 1-39 1 107 1 52 1-19 1-125 1 138 1 25 1 3 1-20 1 50 1-120 1 43 1 11 1-47 1 16 1 25 1 23 1-29 1 45 1-55 1 37 1 1 1-83 1 30 1 2 1-78 1-17 1 73 1-79 1-45 1 20 1 84 1-62 1 50 1-16 1-55 1 158 1-55 1 4 1 14 1-7 1 29 1-59 1 60 1 1 1-90 1 86 1-46 1 51 1 4 1 49 1-60 1-13 1 36 1-44 1 29 1 25 1 66 1-114 1 51 1 13 1-27"/>
<path vector-effect="non-scaling-stroke" d="M0 827l1 19 1-40 1 50 1 5 1-14 1-6 1-10 1 25 1 1 1-10 1 3 1 26 1-65 1 33 1-12 1 1 1-15 1-9 1 43 1 37 1-98 1 89 1-12 1-6 1 9 1-60 1 63 1-39 1 41 1 17 1 21 1-98 1 114 1-108 1 47 1-6 1-13 1-5 1-5 1-44 1 27 1-59 1 76 1-75 1 47 1 13 1 16 1-12 1-51 1 101 1-75 1 24 1 10 1-8 1 35 1-61 1 42 1-2 1-25 1-43 1 34 1-12 1 15 1-5 1 21 1-40 1-10 1 4 1-84 1 18 1 0 1 34 1-28 1-53 1 200 1-185 1 17 1 1 1 16 1 18 1-8 1-13 1 44 1-40 1 47 1 28 1-29 1 2 1-29 1 26 1-11 1 27 1-25 1-12 1 7 1 5 1 31 1-14 1 43 1-20 1 17 1 37 1-31 1-22 1-1 1-11 1 4 1 38 1-37 1 30 1-41 1 3 1 31 1 3 1-53 1 4 1-8 1-55 1 9 1 42 1-107 1 13 1 15 1 1 1 71 1-27 1 29 1-16 1 17 1 16 1 35 1-42 1-18 1 52 1 20 1-42 1 31 1-18 1-22 1 5 1 4 1 10 1 9 1-10 1 15 1-20 1-45 1 50 1 1 1 78 1-76 1 25 1 17 1 7 1 50"/>
<path vector-effect="non-scaling-stroke" d="M0 867l1 6 1-15 1-75 1 19 1 16 1-14 1 63 1 0 1-62 1-17 1 10 1 61 1-38 1 0 1 2 1 8 1-38 1-20 1 37 1 17 1 25 1 31 1-34 1 19 1 11 1-74 1 68 1-72 1-12 1 43 1-18 1-22 1 7 1 52 1-60 1 131 1-55 1-25 1-4 1 18 1-60 1 26 1 14 1-40 1 34 1 21 1-64 1 20 1 11 1-36 1 73 1-11 1 3 1-21 1 4 1 15 1-20 1 50 1-42 1-5 1 39 1-70 1-10 1 7 1 23 1-7 1-53 1 25 1-13 1-83 1-8 1 19 1-31 1-5 1 8 1 19 1-26 1 55 1 64 1 14 1-93 1 30 1 1 1 1 1 14 1-1 1 38 1-71 1 9 1 76 1-111 1 61 1-4 1 25 1-63 1 68 1 6 1 34 1-7 1-63 1 55 1-59 1 36 1-14 1 88 1-74 1 30 1-91 1 73 1-33 1 66 1 4 1-24 1 56 1-62 1-55 1-13 1 6 1-41 1 9 1 26 1-65 1 42 1-29 1 21 1-4 1 15 1-29 1 83 1-15 1 47 1-12 1-24 1 9 1 7 1 7 1-3 1-1 1-7 1 59 1-70 1 23 1 73 1-70 1-34 1-21 1 60 1 43 1-50 1 53 1-54 1 34 1-35 1 61 1-79"/>
<path vector-effect="non-scaling-stroke" d="M0 873l1-60 1 66 1-27 1 11 1-26 1-22 1 37 1-30 1 14 1 35 1-41 1-53 1 58 1 22 1-71 1 23 1 0 1-8 1 22 1-1 1 11 1 32 1-16 1-26 1 80 1-58 1-57 1 87 1-19 1-51 1 30 1 11 1 21 1-24 1-2 1-53 1 74 1-56 1-36 1 49 1 36 1-4 1-54 1 100 1-25 1-35 1-22 1 80 1-29 1-24 1-19 1-24 1 38 1-3 1 12 1-57 1-4 1 14 1-7 1 19 1-89 1 100 1-77 1 111 1-111 1 58 1-43 1-39 1 18 1-30 1 31 1-5 1-42 1-13 1 20 1 18 1-15 1-11 1 84 1-65 1 53 1-46 1 31 1 26 1-3 1-78 1-5 1 37 1 130 1-82 1-13 1-3 1 4 1 2 1-44 1 87 1-54 1 38 1-9 1 14 1 44 1-18 1-21 1 21 1-26 1 16 1-10 1-20 1-2 1 31 1-15 1 25 1 22 1-13 1-39 1-36 1-35 1 9 1-60 1 23 1 8 1-18 1 42 1-62 1 30 1-4 1 27 1 41 1-12 1 19 1-28 1 83 1-40 1 2 1-58 1 84 1-31 1-22 1 27 1 9 1-23 1 35 1-12 1-5 1 48 1 5 1-57 1 28 1-20 1 50 1-21 1-74 1 77 1 14 1 81"/>
<path vector-effect="non-scaling-stroke" d="M0 861l1 5 1 21 1-77 1 6 1 16 1 20 1 33 1-52 1-51 1 52 1 6 1 57 1-123 1 152 1-83 1-38 1-9 1 33 1 10 1 0 1 81 1-114 1 115 1-83 1 6 1-2 1-14 1 21 1-28 1 43 1-29 1 13 1-5 1-2 1 53 1-71 1 17 1-25 1 16 1 10 1 23 1-51 1 60 1-51 1-36 1 31 1 15 1-3 1 24 1-15 1-34 1 6 1-35 1 37 1 34 1 22 1 3 1-23 1-74 1 44 1-9 1-12 1-2 1 8 1-63 1 64 1-105 1 88 1 11 1-13 1-87 1-25 1-22 1 8 1 5 1 21 1 19 1 19 1 39 1 13 1-51 1 9 1-14 1 25 1 18 1 39 1-65 1-6 1 2 1 34 1-2 1 57 1-39 1-64 1 41 1-18 1 60 1-29 1-12 1 41 1 12 1 50 1-14 1-71 1 27 1-15 1 9 1-8 1-24 1 32 1-35 1 40 1 48 1-99 1 17 1-34 1 67 1 16 1-80 1-50 1-77 1 65 1 39 1-72 1 56 1 46 1 2 1-37 1 52 1-5 1 37 1-41 1 12 1-38 1 66 1-37 1 21 1 21 1-20 1 25 1-52 1 12 1 32 1-19 1 33 1-61 1 25 1 6 1 20 1-21 1-24 1 80 1 5 1-14 1 19"/>
<path vector-effect="non-scaling-stroke" d="M0 843l1-26 1 26 1 68 1-84 1 40 1-92 1 49 1 30 1-1 1-30 1-25 1 52 1-34 1-5 1-11 1 8 1 28 1-19 1-27 1 34 1 42 1 12 1-20 1 41 1 0 1-21 1-33 1-33 1 3 1 20 1-10 1-16 1 81 1-24 1 21 1-54 1 16 1-1 1-73 1 66 1 50 1-66 1-8 1 21 1-10 1-8 1-8 1-52 1 116 1-72 1 40 1 16 1-53 1-7 1 13 1 69 1-8 1-21 1-45 1 54 1-29 1-33 1-49 1 89 1-8 1-23 1-31 1-1 1-37 1-16 1 31 1-29 1-22 1 31 1-36 1 14 1-43 1 76 1-24 1 13 1 11 1 31 1-30 1 14 1 18 1 9 1-24 1-114 1 127 1-28 1 15 1-36 1-24 1 23 1 12 1 35 1-53 1-12 1 153 1-141 1 77 1 12 1 48 1-88 1 21 1 7 1 18 1-46 1 44 1-20 1 83 1-39 1-129 1 136 1-69 1-24 1-3 1-53 1-20 1 9 1-19 1 8 1 30 1-67 1 68 1-28 1 28 1 15 1 10 1 63 1-38 1-33 1-9 1 41 1 4 1 15 1-24 1 18 1 30 1-27 1 12 1 46 1-44 1-6 1 43 1-44 1 38 1-29 1-2 1-4 1 38 1-37 1-59 1 81 1-18"/>
<path vector-effect="non-scaling-stroke" d="M0 875l1 0 1 4 1-34 1-25 1-2 1 58 1-45 1 23 1 34 1-75 1 60 1-37 1 18 1-23 1-4 1 55 1-30 1 25 1-47 1-17 1 40 1-9 1 65 1-60 1 24 1-5 1-46 1 33 1-24 1-13 1 44 1 49 1-37 1 12 1-11 1-44 1 19 1-64 1 20 1 5 1 25 1-13 1 13 1 18 1-60 1 56 1-47 1 106 1-37 1-83 1 43 1-42 1 43 1-19 1 8 1 0 1-46 1 70 1 1 1-26 1-38 1 34 1-34 1 6 1 29 1-31 1-77 1 68 1-9 1-26 1 18 1-6 1-83 1 80 1-22 1-31 1-36 1 73 1 29 1-23 1 7 1 14 1-29 1-5 1 61 1-71 1 59 1-13 1-3 1-19 1-45 1 80 1-91 1 67 1-12 1 33 1-13 1 21 1-12 1 59 1-17 1-4 1-48 1 37 1-12 1 24 1 7 1-4 1 11 1 8 1-21 1-24 1 37 1-32 1 13 1-18 1-71 1-12 1 4 1 10 1 30 1-96 1 47 1 9 1-10 1 36 1 0 1 64 1-86 1 88 1-20 1-10 1 25 1-10 1 20 1-104 1 43 1-72 1 189 1-50 1-51 1 37 1-57 1 53 1 60 1-71 1-22 1-2 1 28 1-50 1 70 1 8 1-25 1 6 1 35"/>
<path vector-effect="non-scaling-stroke" d="M0 863l1-8 1-27 1-52 1 102 1-20 1-44 1 15 1 52 1-62 1 18 1-12 1-10 1 0 1-4 1-6 1 33 1-27 1-24 1 39 1-32 1 19 1 39 1 54 1-32 1 33 1-46 1 38 1-52 1-13 1 56 1-12 1-7 1-30 1 14 1 78 1-102 1 25 1-2 1-49 1 27 1 37 1-57 1-6 1 5 1-12 1 58 1-74 1 111 1-88 1 8 1 18 1-38 1 31 1 9 1 14 1-47 1 48 1-36 1 24 1-12 1 17 1-54 1-13 1 55 1-82 1 10 1 22 1-63 1 46 1-1 1-32 1-71 1 48 1-21 1 4 1-37 1 22 1 42 1 94 1-58 1-18 1 42 1-49 1 70 1-81 1 29 1-42 1 38 1 13 1 15 1-20 1-9 1-2 1 35 1-41 1-18 1 35 1 63 1 7 1-19 1 61 1-93 1 44 1 12 1 16 1-81 1 104 1-114 1 45 1 60 1-51 1 43 1-27 1 3 1-42 1-6 1-61 1 22 1-17 1-56 1-4 1 32 1 27 1-49 1 65 1-40 1 8 1-7 1 59 1-18 1 59 1-12 1-12 1 5 1 5 1-37 1 25 1 8 1 7 1-12 1-37 1 36 1-14 1 93 1-44 1-16 1-28 1 31 1 5 1 4 1 66 1-22 1-22 1 15 1-3"/>
<path vector-effect="non-scaling-stroke" d="M0 863l1 2 1-5 1 49 1-137 1 80 1-10 1-21 1 9 1-2 1 33 1-32 1 35 1 43 1-112 1 36 1 8 1 13 1 38 1-4 1-85 1 65 1-33 1 21 1-14 1 4 1 22 1-67 1 85 1-32 1-13 1-24 1 15 1 16 1 13 1 27 1-53 1 21 1 4 1-10 1 30 1-47 1-8 1-20 1 43 1 41 1-89 1 36 1-10 1-6 1 22 1-29 1 14 1-7 1-4 1-9 1 50 1-54 1 12 1 13 1 17 1-48 1 32 1-60 1 73 1-100 1 38 1 43 1-38 1-27 1-6 1-21 1-8 1-17 1 6 1 17 1 1 1-10 1 0 1-43 1 70 1-30 1 20 1-14 1 42 1 1 1-54 1 2 1 88 1-33 1-63 1 54 1-21 1-11 1 26 1-9 1 17 1 68 1-46 1 73 1-73 1 59 1 3 1-55 1 0 1 12 1-21 1-12 1 70 1-17 1-22 1 0 1 6 1-33 1 56 1-46 1-15 1-7 1-28 1 7 1-35 1-136 1 89 1 47 1-36 1 76 1-48 1 32 1 26 1 11 1-40 1 28 1 8 1-16 1 58 1-41 1 28 1-86 1 76 1-27 1-10 1-7 1 49 1 9 1-7 1-15 1 37 1 9 1-87 1 51 1 19 1 14 1-16 1 23 1-3 1 45"/>
<path vector-effect="non-scaling-stroke" d="M0 943l1-85 1 29 1-13 1-10 1 28 1-43 1-35 1 31 1-28 1-35 1 42 1-10 1-3 1 6 1 23 1-11 1 18 1-52 1 50 1-5 1-27 1 29 1 23 1 16 1-25 1-8 1 17 1 0 1-30 1 11 1-28 1 14 1-33 1 48 1-15 1-14 1 94 1-36 1 32 1-93 1 30 1-31 1 37 1-26 1 28 1 7 1-52 1-41 1 93 1-38 1-8 1 45 1 59 1-75 1-17 1 23 1-35 1-12 1 3 1 62 1-60 1 40 1-123 1 35 1-12 1 49 1-6 1-12 1-40 1 7 1-35 1-4 1 16 1-7 1-33 1 35 1 22 1-12 1 25 1-13 1 11 1 10 1 3 1 16 1 0 1-12 1 32 1-165 1 86 1 44 1 33 1-43 1-68 1 99 1-45 1 74 1-113 1 26 1 41 1 50 1-8 1 9 1-4 1-3 1-8 1 24 1-68 1 42 1 12 1-60 1 58 1-1 1 10 1 38 1-97 1-13 1 9 1 4 1-67 1 47 1-63 1-2 1 29 1-13 1 44 1-41 1 29 1 19 1 49 1-42 1 87 1-61 1-68 1 32 1 96 1-31 1-116 1 110 1 56 1-22 1-37 1-78 1 82 1 42 1-2 1-58 1 39 1-9 1-17 1 6 1-11 1 11 1-11 1 48 1 3"/>
<path vector-effect="non-scaling-stroke" d="M0 878l1 6 1-31 1 2 1-30 1 9 1 0 1-2 1-21 1 44 1-34 1 0 1 55 1-50 1 1 1-10 1 49 1 12 1-32 1-41 1 25 1 9 1 34 1-67 1 31 1 51 1-30 1-3 1 15 1-17 1-35 1 131 1-119 1 17 1-8 1-53 1 95 1-80 1-34 1 64 1 71 1-38 1-33 1-35 1 28 1 26 1-68 1 93 1-21 1-32 1-47 1 88 1-35 1-28 1 27 1 45 1-38 1-9 1-28 1 11 1 67 1-84 1-25 1 73 1-49 1-5 1-49 1 47 1-7 1-57 1-25 1 14 1 88 1-134 1 81 1-42 1-20 1 25 1-8 1-64 1 126 1-15 1-10 1-5 1-30 1 59 1-50 1 55 1-1 1-24 1-60 1 49 1 15 1 6 1-29 1 26 1 35 1-26 1-18 1 31 1 24 1-8 1 29 1-17 1 8 1-32 1 80 1-48 1-87 1 57 1 0 1 10 1 24 1 31 1 23 1-121 1-47 1 76 1-29 1-41 1 15 1-89 1 58 1 30 1 15 1-8 1-47 1 105 1-3 1-40 1 8 1 64 1-27 1-70 1 57 1 25 1 27 1-57 1 49 1-28 1-28 1 49 1-19 1 59 1-61 1 61 1-56 1-11 1-10 1 59 1-37 1 5 1-2 1 39 1-13 1 81"/>
<path vector-effect="non-scaling-stroke" d="M0 879l1-46 1-12 1 54 1-34 1-13 1 32 1 5 1-35 1 3 1-15 1-5 1 37 1-40 1 36 1-79 1 65 1-7 1-12 1-26 1 71 1-66 1 13 1 84 1-25 1 15 1-5 1-53 1 12 1 26 1-5 1 91 1-65 1 4 1-29 1 26 1-106 1 41 1-17 1-3 1 45 1-17 1 37 1-16 1-14 1 23 1-47 1 64 1-106 1 84 1-56 1 50 1-17 1-7 1 1 1-6 1 6 1 1 1-8 1-22 1 71 1-56 1-46 1 40 1-70 1 46 1 128 1-151 1-2 1-9 1 13 1-21 1-12 1-23 1 20 1-21 1-48 1 52 1 14 1-28 1 40 1-65 1 80 1 5 1 2 1-28 1 30 1 63 1-65 1 27 1-61 1 36 1 1 1-8 1 33 1-26 1 29 1-40 1-20 1 66 1-19 1 43 1 68 1-81 1 38 1 0 1-49 1-11 1 45 1-20 1-92 1 109 1-43 1 66 1-7 1-13 1-83 1 10 1 3 1-4 1-70 1 0 1-4 1 52 1-83 1 102 1-23 1-49 1 72 1-35 1 24 1 19 1 39 1-58 1 26 1 38 1-26 1 25 1-33 1 9 1 20 1 45 1-56 1-36 1 61 1-28 1-62 1 51 1 29 1-8 1 21 1-77 1 51 1 95 1-83 1 9"/>
<path vector-effect="non-scaling-stroke" d="M0 928l1-73 1 6 1-20 1 20 1-32 1 74 1-91 1-8 1 6 1 52 1-54 1 60 1-9 1-46 1 19 1-14 1 9 1 89 1-76 1 22 1 48 1-58 1 61 1-82 1 28 1 59 1-36 1-23 1-44 1 0 1 38 1-1 1 10 1-58 1 9 1 113 1-106 1-23 1 55 1-26 1-41 1 23 1 31 1 0 1-27 1 27 1 3 1 108 1-49 1 9 1-133 1 68 1 20 1-83 1 26 1 32 1-57 1 7 1 44 1-30 1 83 1-78 1-12 1 10 1-9 1-15 1 5 1-17 1-13 1-50 1 37 1-47 1 38 1-75 1 36 1 41 1-24 1-30 1 90 1-62 1 8 1 37 1 28 1-2 1-22 1-8 1 5 1 17 1-29 1-10 1 53 1 50 1-144 1 0 1 82 1 1 1-18 1 11 1 75 1-99 1 88 1-67 1 28 1 32 1-6 1-15 1 13 1-56 1-125 1 163 1-28 1-60 1 57 1 5 1 6 1-61 1-24 1 81 1-59 1-25 1-30 1-3 1-12 1 41 1 16 1 6 1-18 1 36 1-32 1-4 1 22 1 24 1 71 1-39 1 20 1-54 1 20 1 38 1-68 1 115 1-123 1 44 1 39 1 27 1-100 1 114 1-37 1 20 1-14 1-19 1-4 1 76 1-115 1-62 1 127"/>
<path vector-effect="non-scaling-stroke" d="M0 886l1-31 1-9 1 4 1-22 1-2 1-29 1-1 1 82 1-57 1-9 1 4 1 6 1-23 1 18 1-25 1-28 1 64 1 23 1-27 1-8 1-58 1 76 1 35 1-16 1-10 1 33 1-8 1-47 1 26 1-27 1 22 1 8 1-8 1-33 1 36 1-25 1-27 1 6 1 17 1-72 1 104 1-16 1 24 1-29 1-27 1 24 1-60 1 106 1-40 1 51 1-104 1 19 1 39 1-42 1-24 1 75 1-12 1-9 1-39 1 11 1-2 1 36 1-8 1 23 1-20 1-60 1-5 1-45 1 29 1-146 1 141 1-16 1-49 1-6 1 28 1-76 1 38 1 88 1-1 1-31 1 38 1 8 1 12 1 46 1-48 1 56 1 0 1 16 1-98 1 18 1-55 1 3 1-8 1 73 1-6 1 14 1 61 1-69 1-62 1 124 1-50 1 99 1-29 1-51 1 26 1 11 1-80 1 86 1-51 1 27 1-41 1 37 1-53 1 62 1-39 1-75 1 36 1-19 1 4 1-50 1-1 1-1 1 17 1 38 1 10 1-44 1 20 1-27 1 63 1-18 1 52 1-74 1 100 1-40 1 4 1-22 1 37 1-26 1 13 1 6 1-43 1 59 1-56 1 32 1-112 1 159 1-37 1-28 1 13 1 10 1 26 1-40 1 51 1 38 1-58"/>
<path vector-effect="non-scaling-stroke" d="M0 764l1 130 1-59 1 83 1-59 1-11 1 4 1 20 1-37 1-38 1 54 1-14 1-19 1 24 1 29 1-70 1 19 1 1 1 23 1-3 1 1 1 2 1 16 1-4 1 45 1-20 1 4 1-19 1-48 1 56 1-39 1-3 1-6 1 29 1-36 1-6 1 37 1 46 1-39 1-46 1 25 1-26 1 81 1-94 1 85 1-60 1 57 1-45 1-14 1 18 1 18 1 14 1-74 1 7 1-46 1 122 1-16 1-58 1 31 1-9 1-47 1 52 1-36 1 18 1-2 1-7 1-49 1 70 1-48 1-7 1-86 1 32 1-6 1-29 1 8 1 33 1-41 1-3 1 45 1 3 1 5 1-14 1-24 1 33 1 61 1-2 1-61 1 38 1-71 1 92 1 0 1-55 1 30 1-20 1-55 1 71 1 37 1-117 1 73 1 114 1-33 1-41 1 53 1-17 1-43 1 53 1-25 1-11 1 19 1-22 1-1 1-9 1-19 1 165 1-94 1-39 1-48 1-11 1 11 1 9 1-47 1-8 1-47 1-67 1 140 1-8 1-37 1 52 1 60 1-52 1 24 1 62 1-67 1-17 1 26 1-26 1 25 1 53 1-83 1 152 1-145 1 54 1 14 1-70 1 33 1-4 1 14 1 16 1 11 1 16 1-36 1 29 1-59 1 61 1-9 1 38"/>
<path vector-effect="non-scaling-stroke" d="M0 786l1 76 1-58 1 50 1-19 1 9 1 17 1-53 1 19 1-22 1 27 1 25 1-16 1 5 1 21 1-94 1 75 1 48 1-57 1 17 1-52 1 133 1 3 1-62 1-25 1 23 1-82 1 70 1 32 1-25 1-16 1 3 1-21 1 3 1 72 1-51 1 25 1-23 1 9 1-26 1-46 1-62 1 40 1 30 1 60 1-13 1 1 1-17 1 13 1-32 1 16 1-7 1-24 1 44 1-14 1 25 1 5 1-32 1 1 1-83 1 107 1-59 1 29 1-66 1 22 1-56 1 139 1-116 1-1 1-87 1 103 1-4 1-42 1-64 1 22 1-1 1 29 1 53 1-43 1 16 1 0 1 2 1-7 1 6 1 70 1-59 1 4 1 49 1-33 1-14 1 4 1 7 1 2 1-33 1 54 1-17 1 40 1-78 1 57 1 62 1-56 1 17 1 28 1-20 1-26 1 50 1 3 1-54 1 22 1-41 1-13 1 82 1-33 1-28 1 82 1-108 1 31 1 21 1-63 1-24 1-26 1-55 1 46 1 26 1 30 1-38 1 53 1-28 1 18 1 35 1-19 1 76 1-80 1 16 1 41 1-43 1-21 1 50 1 26 1-7 1-9 1-48 1 32 1 72 1-139 1 23 1 115 1-72 1-28 1 42 1-4 1-24 1 14 1-27 1 30 1 13"/>
<path vector-effect="non-scaling-stroke" d="M0 824l1 25 1-41 1 48 1-24 1 53 1-95 1 40 1 12 1-44 1 0 1 41 1 10 1-33 1 21 1-11 1 14 1-27 1-20 1 30 1 4 1-12 1 11 1 45 1-79 1 82 1-26 1 4 1 30 1 0 1-47 1-26 1-34 1 124 1-10 1-54 1 7 1-73 1 75 1-12 1-48 1-13 1 63 1-48 1-1 1 30 1 17 1 49 1-62 1-36 1 49 1 13 1 8 1 0 1 7 1 19 1-44 1 19 1-35 1 22 1 17 1-40 1-27 1 40 1-22 1-36 1-29 1 32 1-39 1-67 1 87 1-38 1-2 1-29 1-5 1-4 1 9 1 44 1-13 1 20 1-18 1 53 1-48 1 0 1 10 1 45 1-11 1-21 1-48 1 46 1-34 1 100 1-90 1 46 1-24 1 40 1-34 1 27 1 20 1 87 1-35 1-40 1-8 1-2 1-8 1 8 1-38 1 35 1-72 1 72 1 49 1-48 1 35 1 79 1-156 1 68 1-88 1 0 1-36 1 52 1-16 1-115 1 75 1-30 1 22 1 77 1-44 1 43 1 48 1-74 1 5 1 88 1-36 1-90 1 83 1-27 1 11 1 43 1-30 1-38 1-31 1 53 1 42 1-3 1-75 1 34 1-38 1 51 1 9 1 16 1-4 1 75 1-59 1 2 1-19 1-11"/>
<path vector-effect="non-scaling-stroke" d="M0 896l1-54 1 21 1 18 1 14 1-46 1-15 1 108 1-122 1-8 1-20 1 55 1-78 1 99 1-103 1 32 1 14 1 39 1-94 1 81 1 20 1 5 1 3 1-41 1-7 1 56 1 29 1-33 1-5 1-39 1 40 1 47 1-99 1 16 1 28 1 16 1-72 1 30 1 45 1 16 1-41 1-17 1 36 1-80 1 39 1 0 1-21 1-30 1 110 1-74 1-41 1 119 1-26 1-50 1-24 1 30 1 40 1-55 1 19 1-27 1 23 1 43 1-162 1 81 1 25 1-50 1-3 1 14 1-72 1-19 1 49 1 2 1-14 1-44 1 24 1 22 1 39 1-30 1-28 1 14 1 2 1 90 1 57 1-143 1 18 1 28 1-12 1-22 1-4 1 0 1 16 1 3 1 16 1-12 1 31 1 10 1 26 1-112 1 104 1 1 1 6 1-39 1 94 1-121 1 53 1 13 1-71 1 70 1-14 1 60 1-17 1-38 1 14 1-12 1 3 1-77 1 71 1-63 1 16 1-74 1 33 1-65 1 9 1 35 1-25 1-53 1 116 1-38 1 136 1-89 1 63 1 62 1-43 1-67 1-10 1 45 1-35 1-48 1 57 1 49 1 46 1-37 1-30 1-29 1 40 1-35 1 11 1 49 1-55 1 42 1-25 1-23 1 37 1 15 1-24 1 32"/>
<path vector-effect="non-scaling-stroke" d="M0 856l1 14 1 4 1-3 1-47 1 58 1 23 1-79 1 22 1-22 1-10 1-8 1 53 1-52 1 5 1-10 1 19 1 48 1-47 1 22 1-8 1-7 1 65 1-42 1 24 1-39 1-39 1 62 1-3 1-1 1-5 1-2 1 9 1 41 1-36 1-35 1 17 1 57 1-88 1 85 1-74 1 61 1-43 1 7 1-33 1-8 1 3 1-18 1 96 1-45 1 23 1 37 1-112 1 41 1 8 1 37 1-76 1 21 1-9 1-63 1 74 1-17 1-31 1-9 1 52 1-31 1 7 1 36 1-33 1-91 1 28 1-38 1 3 1-7 1-18 1 16 1-32 1 33 1 12 1 75 1-80 1 33 1 11 1 22 1 12 1-25 1-28 1 41 1-101 1 94 1-19 1-11 1 31 1-51 1 32 1 95 1-77 1 53 1-74 1 94 1 59 1-40 1-95 1-15 1 28 1 14 1 27 1-32 1 20 1-13 1 41 1-46 1 7 1 3 1 38 1 66 1-157 1-42 1-25 1 77 1-98 1-13 1 5 1 32 1 6 1 10 1-26 1 58 1-57 1 124 1-54 1 52 1-47 1 47 1-49 1 44 1 24 1-67 1 27 1-14 1 20 1 0 1 11 1-106 1 153 1-56 1 21 1 2 1-14 1-56 1 105 1-24 1-44 1 34 1-37 1 44"/>
<path vector-effect="non-scaling-stroke" d="M0 867l1-16 1 6 1-39 1 56 1-22 1-15 1-18 1 45 1-34 1-1 1 29 1-39 1 51 1-46 1-50 1 70 1 23 1-13 1-24 1-41 1 67 1 11 1-60 1 42 1-11 1-1 1 34 1 18 1-66 1 13 1 34 1-2 1-62 1 59 1 44 1-52 1 11 1-42 1 16 1 34 1-56 1-40 1 63 1 32 1-74 1 28 1-9 1 2 1 22 1 15 1 30 1-44 1-52 1 54 1 11 1-25 1 14 1-32 1 31 1-42 1 65 1-45 1-41 1 31 1-44 1 6 1 45 1-36 1-77 1-15 1 96 1-93 1-31 1 98 1-78 1-9 1 50 1-25 1 19 1 44 1-8 1-1 1-6 1-42 1 31 1-28 1 50 1 33 1-39 1-7 1 7 1 4 1-5 1-6 1-29 1 37 1 22 1 113 1-76 1-33 1 68 1-91 1 107 1-47 1 12 1-7 1 3 1-74 1 86 1-46 1-7 1 38 1-3 1 0 1-38 1-20 1 13 1-56 1-71 1 43 1 7 1-44 1 50 1 13 1 15 1-39 1 69 1-40 1 3 1 16 1 20 1-8 1 1 1 7 1 62 1-38 1-43 1 3 1 96 1 31 1-118 1-8 1 5 1 13 1-20 1 62 1-42 1 16 1 26 1-17 1-23 1 5 1 79 1-104 1 150"/>
<path vector-effect="non-scaling-stroke" d="M0 857l1-48 1 77 1-57 1 23 1-6 1-20 1-24 1 90 1-28 1-59 1 66 1-60 1 22 1-12 1 34 1-9 1-74 1 44 1-6 1-17 1 71 1 1 1-24 1 23 1 36 1-45 1 13 1-39 1 43 1-30 1 26 1-110 1 74 1 30 1-28 1-32 1 12 1 77 1-43 1 30 1-66 1-34 1 109 1-104 1 81 1-34 1 27 1-6 1 51 1-81 1-1 1 70 1-45 1-21 1-37 1 72 1-18 1-63 1 53 1-13 1-21 1 37 1-30 1-43 1-26 1 85 1-37 1 0 1-110 1 70 1 2 1-48 1 20 1 25 1-17 1-36 1 7 1 28 1 7 1-4 1-18 1-1 1 25 1 14 1 86 1-56 1-87 1 65 1-27 1 14 1-4 1-18 1 57 1-29 1-38 1 77 1-19 1 44 1 6 1-26 1 48 1-13 1-27 1 2 1 25 1 9 1-35 1-12 1-1 1 12 1-18 1 18 1 22 1-58 1 72 1-15 1-70 1-28 1-10 1-26 1-10 1 34 1 85 1-55 1-28 1-35 1 14 1 54 1 10 1 21 1-4 1 38 1-77 1 49 1-13 1 88 1-72 1 15 1-20 1 1 1 17 1-80 1 51 1 4 1 7 1-31 1 8 1 40 1-22 1 13 1 9 1-27 1-45 1 85 1 65"/>
<path vector-effect="non-scaling-stroke" d="M0 910l1-63 1 22 1-8 1-14 1 80 1-65 1-10 1-10 1-35 1 52 1-18 1 29 1-36 1-46 1 31 1 6 1-6 1-10 1 23 1 43 1-57 1 2 1 56 1-29 1-7 1-9 1 67 1-15 1 4 1-23 1-9 1-1 1-26 1 64 1-67 1 7 1-40 1 33 1 29 1-13 1-46 1 47 1-29 1 7 1 18 1 17 1-37 1 23 1-11 1 0 1-7 1-35 1 50 1 5 1-38 1 31 1 7 1-2 1-20 1 0 1 85 1-116 1 37 1-53 1-16 1 37 1 25 1-106 1 69 1-14 1-33 1 28 1-73 1 3 1-17 1 34 1-26 1 62 1-36 1 78 1-38 1 14 1-38 1 13 1 7 1 8 1-43 1 48 1-8 1 21 1-20 1-24 1 9 1-8 1 28 1 40 1 25 1-65 1 28 1 17 1 42 1-64 1 29 1-28 1 19 1 11 1-11 1 9 1 16 1-17 1-35 1 52 1-8 1-11 1-52 1-13 1 15 1-32 1 30 1-75 1 0 1 35 1-24 1 1 1 62 1-26 1 27 1-24 1-66 1 125 1-56 1 16 1-4 1-6 1 66 1-44 1 13 1-24 1 25 1 35 1-70 1 35 1 9 1 35 1-46 1 64 1-70 1-9 1 37 1-23 1 42 1-40 1 6 1 39 1 34"/>
<path vector-effect="non-scaling-stroke" d="M0 857l1 9 1 9 1-37 1 31 1-26 1 22 1-54 1 30 1-62 1 19 1 12 1-8 1 89 1-34 1 32 1-74 1 51 1-48 1 24 1-35 1 21 1 30 1-13 1 4 1 14 1 39 1-51 1 1 1-22 1 43 1-31 1-105 1 99 1-58 1 71 1 59 1 15 1-110 1-53 1 93 1-66 1 31 1-42 1 56 1 47 1-21 1-5 1-13 1-13 1-11 1 52 1-42 1 23 1-36 1 66 1-81 1 64 1-86 1-4 1 59 1-12 1 10 1-44 1 19 1-27 1-68 1 52 1 28 1 7 1-79 1-4 1-52 1 63 1-33 1-22 1 60 1-43 1 25 1-1 1 28 1-20 1 16 1 19 1-38 1 32 1 7 1-4 1-11 1 69 1-71 1 19 1-9 1-10 1-31 1 87 1-39 1 20 1 14 1 21 1 28 1-6 1-49 1 31 1-2 1 16 1-41 1 50 1-56 1-40 1 53 1 17 1 24 1-21 1-33 1 2 1-15 1-6 1-29 1-65 1 22 1 13 1-43 1 27 1-35 1 50 1-4 1-55 1 120 1-50 1-21 1 61 1-28 1 25 1 15 1 54 1-20 1 3 1-42 1 52 1-35 1 3 1-16 1 26 1 2 1 9 1-29 1-37 1 41 1 38 1-26 1 21 1-14 1-2 1 59 1 10"/>
<path vector-effect="non-scaling-stroke" d="M0 881l1-4 1-39 1-36 1 18 1-1 1-5 1 49 1 28 1-43 1-39 1 17 1-6 1 23 1 22 1 22 1-66 1-23 1 26 1 31 1-50 1 31 1 29 1-45 1 6 1 47 1-29 1 2 1-22 1 62 1-20 1-8 1-55 1 61 1-64 1 61 1-30 1 2 1 27 1-56 1 61 1 7 1-58 1-12 1 44 1-44 1 45 1-52 1 140 1-97 1 4 1-64 1 46 1-8 1 26 1 4 1-9 1 1 1-45 1 61 1-7 1-18 1-17 1-38 1 88 1-126 1 53 1-50 1 53 1-35 1-12 1 26 1-46 1-19 1-41 1 7 1 89 1-66 1 38 1-7 1 0 1 6 1 28 1-32 1-41 1 104 1-41 1-15 1 55 1-39 1 20 1-38 1-38 1 56 1-13 1 38 1-42 1 43 1 64 1-31 1-66 1 79 1-10 1-1 1 4 1 26 1-12 1-85 1 68 1-9 1 4 1 18 1-2 1-52 1 20 1-31 1 13 1-19 1-19 1-21 1 29 1-72 1 42 1-128 1 106 1 51 1 24 1-86 1 14 1 0 1 6 1 111 1-93 1 48 1 13 1 3 1-72 1 71 1-5 1-15 1 34 1 8 1-133 1 103 1 43 1-71 1 102 1-78 1-10 1 47 1-56 1 16 1 51 1 6 1 4 1 55"/>
<path vector-effect="non-scaling-stroke" d="M0 902l1-56 1-43 1 118 1-90 1 60 1-61 1 17 1 24 1 18 1-75 1 32 1-70 1 66 1 21 1-76 1 21 1 28 1 24 1-99 1 131 1-58 1-17 1 42 1-14 1-5 1 30 1 12 1-15 1 19 1-41 1-19 1 25 1-22 1 52 1-21 1-61 1 28 1 0 1 26 1-23 1-10 1-36 1 52 1-12 1 56 1-57 1-3 1-28 1 17 1 9 1-2 1-22 1 37 1 12 1-28 1 19 1-35 1 51 1 11 1-46 1-14 1 40 1-63 1 32 1-46 1-36 1 76 1-86 1 16 1 60 1-84 1 30 1-33 1 16 1-14 1-35 1 45 1-38 1 23 1-28 1 23 1 31 1-19 1 93 1-2 1-79 1 35 1 2 1 16 1-29 1 4 1 26 1 32 1-34 1-27 1 30 1-33 1 76 1 18 1-43 1 11 1 21 1 24 1-44 1 32 1-40 1-24 1 20 1 17 1 18 1-39 1 59 1-42 1-44 1 6 1-32 1-1 1-32 1-7 1 10 1-47 1-27 1 35 1 25 1 10 1 30 1 17 1-5 1 8 1 17 1-17 1 42 1-16 1-22 1-8 1 48 1-30 1-6 1 6 1-20 1 24 1 6 1 0 1-48 1 59 1 1 1-86 1 39 1 16 1 23 1-8 1-24 1 63 1-47 1 37"/>
<path vector-effect="non-scaling-stroke" d="M0 821l1 95 1-3 1-66 1 7 1-44 1-44 1 122 1-31 1 63 1-4 1-67 1 14 1-56 1 61 1-39 1-14 1-33 1 39 1 15 1-44 1 48 1-23 1 34 1-8 1 53 1-62 1 27 1 39 1-37 1 69 1-158 1 100 1 23 1-35 1-91 1 87 1-3 1-14 1-30 1 58 1-41 1-40 1 5 1 49 1 53 1-86 1 166 1-171 1-17 1 29 1 0 1 36 1-45 1 112 1-81 1 15 1 9 1-23 1-54 1 39 1-11 1-32 1-38 1 67 1-11 1-86 1 58 1-12 1-3 1 25 1-42 1 31 1-42 1-37 1 17 1-81 1 71 1 8 1 41 1-7 1 85 1-19 1-82 1-29 1 75 1-23 1 12 1-32 1 11 1-28 1 98 1-75 1-10 1 33 1 2 1-15 1 84 1 27 1-74 1 14 1-4 1 19 1-15 1-62 1 103 1-14 1-1 1 55 1-75 1 55 1-91 1 37 1-82 1 49 1-13 1 1 1-35 1-2 1-73 1 10 1 39 1 18 1 10 1-40 1 76 1-11 1-52 1 88 1-78 1-20 1 11 1 57 1-37 1 40 1 24 1 96 1-153 1 24 1-7 1 12 1 100 1-74 1 10 1-8 1 10 1 39 1-13 1-11 1 13 1-22 1 8 1-28 1 59 1-62 1 111"/>
<path vector-effect="non-scaling-stroke" d="M0 862l1 2 1-20 1 1 1-2 1 16 1-61 1 74 1-96 1-6 1 63 1 2 1 9 1-41 1-11 1 24 1 0 1 47 1-36 1 28 1-24 1 7 1-17 1 22 1-3 1-25 1 38 1 44 1-29 1 3 1-50 1 17 1 12 1 13 1-6 1-10 1-9 1 35 1-56 1-17 1 41 1-22 1 1 1 23 1-3 1 20 1-15 1-19 1-1 1 4 1 41 1-75 1 30 1-32 1 64 1 15 1-31 1 8 1-58 1 51 1-1 1-26 1-71 1 9 1 34 1 47 1-5 1-48 1-15 1-66 1 41 1-32 1-20 1 13 1-72 1 60 1 41 1 12 1 6 1-19 1-11 1 45 1 3 1-34 1 3 1 33 1-40 1 30 1 26 1-18 1-20 1 30 1 3 1 3 1-35 1-19 1 58 1-32 1 35 1 4 1 29 1-58 1 39 1 52 1 6 1-52 1-23 1 39 1 15 1-17 1-45 1 7 1 31 1-8 1-63 1 33 1 5 1-65 1 55 1-68 1 9 1-14 1-56 1 60 1 8 1-13 1 37 1-17 1 23 1 58 1 2 1 36 1-107 1 70 1-12 1 121 1-103 1-52 1 26 1 32 1-37 1-19 1-40 1 119 1-44 1-3 1-10 1 12 1-53 1 57 1-6 1 14 1 18 1-12 1-30 1-6"/>
<path vector-effect="non-scaling-stroke" d="M0 862l1-26 1 52 1-96 1 15 1 10 1 48 1-50 1 53 1-24 1-13 1 18 1-77 1-10 1 13 1 81 1-160 1 84 1-6 1 13 1 75 1-11 1-35 1-4 1 49 1-43 1 113 1-121 1 84 1-82 1 40 1 38 1-43 1 70 1-36 1-62 1 29 1 2 1-10 1 7 1 1 1-30 1-9 1 35 1 0 1 25 1-64 1 15 1-6 1-37 1-23 1 85 1-30 1 82 1-98 1 44 1 43 1-61 1-29 1 75 1-75 1 39 1-66 1-82 1 109 1-57 1 46 1-48 1 23 1-55 1 132 1-80 1-57 1 11 1-34 1 13 1 23 1-31 1-1 1 45 1 52 1-43 1 21 1 4 1 43 1-19 1-21 1-57 1 56 1 42 1-32 1-68 1 55 1 49 1-53 1 7 1 45 1-33 1 41 1-7 1 48 1-79 1 93 1-39 1 24 1-24 1-3 1-10 1-16 1 2 1-1 1-1 1 1 1 9 1-22 1 21 1-126 1 75 1-5 1-73 1 24 1-13 1 8 1 1 1-44 1 59 1 5 1-15 1-2 1 61 1-50 1-3 1 84 1 9 1-27 1 32 1-14 1-75 1 74 1-14 1 3 1 42 1-31 1-3 1 10 1-1 1 9 1-32 1 31 1 59 1-95 1 26 1 20 1-80 1 70 1 12"/>
<path vector-effect="non-scaling-stroke" d="M0 875l1-47 1 99 1-99 1-32 1 62 1 20 1-74 1 71 1-46 1 13 1 20 1-29 1 49 1-4 1-30 1-32 1-10 1 9 1 15 1 3 1-5 1 51 1-17 1-14 1 41 1-28 1-33 1 53 1 29 1-90 1 56 1-36 1-14 1-2 1 30 1-66 1 105 1-93 1-30 1-5 1 70 1-19 1 56 1-41 1 50 1-45 1 4 1-22 1 34 1-21 1 16 1-45 1 46 1-40 1 29 1-17 1 2 1-13 1 106 1-104 1 1 1-37 1-15 1 57 1-72 1 51 1-29 1-65 1 20 1 33 1-49 1-35 1 44 1-5 1 43 1-94 1 37 1 53 1-47 1 21 1 36 1-60 1 39 1 33 1-48 1-7 1 31 1-7 1 18 1-24 1 27 1 8 1-39 1 2 1 52 1-31 1-44 1 139 1-21 1-81 1 115 1 0 1-78 1 46 1 30 1-1 1-31 1-44 1 49 1-27 1-44 1 63 1 15 1-46 1-24 1-32 1 19 1 5 1-66 1-36 1 23 1-18 1 65 1 3 1-29 1 6 1-14 1 103 1-41 1 44 1-6 1-62 1 23 1 12 1 50 1 44 1-43 1-60 1 86 1-108 1 40 1-35 1 106 1-128 1 52 1-35 1 42 1 31 1 29 1-52 1-5 1 50 1-45 1 6 1 41"/>
<path vector-effect="non-scaling-stroke" d="M0 839l1 41 1 27 1-39 1 17 1-69 1 65 1-43 1 25 1-54 1 19 1 2 1 13 1-48 1 1 1 32 1 32 1-51 1 24 1-22 1 45 1-22 1 6 1-21 1 22 1-3 1 3 1 32 1-32 1-27 1 42 1-35 1 60 1-53 1 21 1-43 1-53 1 104 1 11 1-50 1 33 1-17 1 41 1 5 1-20 1-34 1-13 1 20 1-7 1-1 1 56 1-82 1 81 1-136 1 93 1-15 1 36 1-18 1-122 1 76 1 4 1 3 1-14 1 7 1-18 1-9 1 23 1-54 1 17 1 35 1-41 1 55 1-96 1-45 1 34 1 8 1-19 1 29 1-6 1 18 1-8 1-14 1 40 1 7 1 23 1 59 1-65 1-14 1-15 1 17 1 64 1-14 1-18 1-23 1-11 1 38 1-66 1 9 1 57 1 8 1-75 1 87 1 86 1-7 1-40 1-22 1-9 1 23 1-28 1-31 1-2 1 29 1-158 1 119 1 16 1-49 1 0 1 6 1-49 1-26 1 97 1-53 1-63 1 104 1-103 1 73 1-96 1 44 1 18 1 16 1 41 1-2 1 6 1 73 1-33 1 7 1-30 1 98 1-54 1-71 1 9 1 21 1 3 1-12 1 121 1-18 1-67 1-76 1 103 1-59 1 9 1-10 1 29 1 78 1-17 1 1"/>
<path vector-effect="non-scaling-stroke" d="M0 879l1 3 1 7 1-24 1 35 1-57 1 16 1 4 1-49 1-24 1 51 1-27 1-16 1 115 1-65 1-13 1-56 1 43 1 58 1-78 1 5 1 33 1 15 1 6 1 26 1-35 1 48 1 0 1-63 1-24 1 12 1-83 1 95 1 10 1-29 1 15 1 17 1-52 1 27 1-43 1 52 1-12 1-59 1 51 1-16 1-35 1 43 1 47 1-13 1-13 1 45 1-12 1-22 1 1 1 5 1-3 1-44 1 98 1-103 1 56 1-40 1 58 1-61 1-46 1 19 1 51 1-11 1-46 1-19 1-77 1 26 1 22 1 10 1-67 1 57 1-67 1-8 1 2 1 46 1 2 1 44 1 35 1-24 1-14 1-36 1 54 1-45 1 46 1 22 1 1 1 12 1-34 1 20 1-64 1 54 1-23 1-4 1-1 1 56 1 9 1-5 1-10 1 12 1 6 1-7 1 21 1-83 1 104 1-23 1-84 1 116 1-32 1-28 1 32 1-7 1-78 1 23 1-67 1 1 1 20 1-35 1 32 1-60 1 14 1 36 1 27 1-1 1-23 1 70 1-51 1 41 1-15 1 31 1-43 1 42 1-32 1-20 1 25 1 15 1-6 1 3 1 26 1 33 1-61 1 37 1-9 1 5 1-25 1 0 1 26 1-8 1-60 1 57 1 76 1-115 1 169"/>
<path vector-effect="non-scaling-stroke" d="M0 856l1 17 1-67 1 51 1 6 1-13 1-76 1 46 1 35 1-59 1 26 1 55 1 22 1-70 1 38 1-18 1-2 1-27 1 22 1-8 1 49 1-99 1 62 1 86 1-47 1 15 1-13 1-37 1-6 1 1 1 36 1-21 1 22 1-22 1-32 1-24 1-9 1 82 1-50 1 18 1-59 1 25 1-20 1 52 1-9 1-7 1 35 1-60 1 2 1 61 1 0 1-20 1 7 1-32 1 25 1 33 1-35 1-6 1 21 1-59 1 19 1 4 1 8 1-80 1 77 1-47 1-12 1-28 1 23 1-24 1-25 1 41 1-13 1 24 1-85 1 17 1 26 1-32 1 51 1 23 1-18 1-1 1 13 1-76 1 45 1 31 1 71 1-38 1-63 1-57 1 72 1-10 1-1 1 29 1-23 1 32 1 13 1-19 1 70 1-96 1 61 1-8 1 23 1-7 1-25 1 21 1 5 1-61 1 97 1-23 1 64 1-60 1-69 1 32 1-41 1 45 1 18 1-36 1-29 1-55 1-2 1-11 1-3 1 43 1-54 1 29 1-3 1 45 1 31 1 9 1-30 1-9 1 56 1-17 1-53 1 75 1 40 1-6 1-86 1 23 1-26 1 46 1-30 1 28 1 11 1 34 1-15 1-118 1 70 1-3 1 25 1 1 1 59 1-12 1-4 1-2"/>
<path vector-effect="non-scaling-stroke" d="M0 895l1-53 1 39 1-18 1-19 1 35 1-34 1 9 1-71 1 114 1-97 1 12 1 32 1-35 1 18 1 70 1-61 1-117 1 105 1-9 1 50 1-4 1-26 1 5 1 36 1-6 1-31 1 51 1-59 1 70 1-1 1-38 1 38 1-137 1-2 1 82 1-5 1 31 1 17 1 41 1-109 1 9 1 35 1-34 1 35 1 24 1-29 1-48 1-95 1 107 1 19 1-20 1 26 1-58 1 44 1-23 1 52 1-3 1-7 1-27 1-13 1 51 1-25 1-49 1 29 1-76 1-3 1 84 1-25 1 11 1-54 1-7 1-41 1-20 1 84 1-89 1-20 1 44 1-37 1 14 1 39 1 25 1 1 1 33 1-48 1 41 1-53 1-1 1-13 1 10 1 37 1 18 1-83 1 62 1 14 1-18 1-28 1-27 1 141 1 4 1-34 1 51 1 36 1-140 1 21 1 25 1 20 1 39 1 20 1-89 1 27 1-18 1 18 1 18 1-24 1 74 1-139 1-29 1 25 1-80 1 15 1 58 1-76 1 113 1-119 1 86 1-41 1 40 1-5 1 78 1-60 1 62 1-21 1-3 1 38 1-1 1-63 1 34 1-31 1 16 1 28 1-12 1 13 1 43 1-129 1 67 1-29 1 58 1-54 1 17 1 0 1 53 1-6 1-34 1 70 1-7"/>
<path vector-effect="non-scaling-stroke" d="M0 838l1 16 1-14 1-5 1 67 1-31 1-10 1-18 1 24 1-80 1 103 1-33 1-31 1 21 1 10 1-12 1-52 1 60 1-51 1 34 1-10 1 23 1-2 1-22 1 58 1-25 1-37 1 40 1 23 1-97 1 98 1-47 1 47 1-25 1 8 1-65 1 9 1 93 1-88 1 27 1-18 1 24 1-45 1-2 1 36 1-15 1 21 1-6 1 61 1-82 1 27 1 25 1-45 1 2 1 17 1-3 1 3 1 3 1 8 1-37 1 5 1-22 1-2 1-1 1-19 1 9 1-4 1-4 1-10 1-34 1 18 1-15 1 26 1-78 1 14 1-9 1-6 1 19 1 50 1 25 1-17 1-73 1 18 1 36 1-25 1 35 1 25 1-29 1 22 1-30 1-8 1 16 1 70 1-99 1 28 1 8 1 18 1 34 1-4 1 47 1 3 1-9 1 31 1-131 1 61 1-16 1 3 1-27 1 31 1-6 1-12 1 27 1-14 1 6 1-6 1 45 1-75 1-30 1 2 1 12 1-26 1-75 1-32 1 43 1 65 1 8 1-26 1 16 1 10 1 23 1 21 1 21 1-24 1-62 1 56 1 19 1-33 1-14 1 23 1 3 1 9 1 30 1-41 1 12 1 27 1-18 1 6 1-24 1 36 1-21 1-60 1 140 1-83 1-61 1 70 1 78"/>
<path vector-effect="non-scaling-stroke" d="M0 905l1-82 1 43 1-66 1 20 1 46 1-42 1-5 1 91 1-27 1-104 1-13 1 80 1-43 1 39 1-24 1 30 1-16 1-47 1 19 1 63 1-28 1 27 1-43 1 9 1 50 1-48 1-8 1 34 1 55 1-96 1 5 1 31 1 9 1-11 1-14 1 0 1 142 1-122 1 11 1 7 1-79 1-51 1 59 1 49 1-51 1 55 1-42 1 30 1 13 1-55 1 23 1-27 1 24 1-3 1 39 1-1 1-70 1 58 1-112 1 108 1-25 1-33 1 19 1-53 1 30 1 3 1-48 1 2 1-36 1 54 1 11 1-42 1-50 1 27 1 30 1-22 1 67 1-19 1-17 1-15 1-37 1 31 1 20 1 20 1-3 1 29 1-69 1 44 1 1 1-48 1 74 1-17 1-40 1 15 1 14 1 16 1-27 1 91 1-12 1-47 1 11 1 13 1-11 1 5 1-10 1 93 1-87 1-6 1 4 1 27 1 13 1-12 1 12 1-63 1 14 1-18 1-53 1 7 1 37 1-89 1-5 1 50 1 16 1-70 1 47 1 17 1 13 1-28 1 57 1-1 1 43 1-54 1-5 1 9 1-1 1 59 1-93 1 96 1-11 1 12 1-26 1 6 1-38 1 35 1-14 1 26 1-50 1 1 1 15 1 22 1-45 1 55 1 38 1-90 1 58"/>
<path vector-effect="non-scaling-stroke" d="M0 868l1-33 1-4 1 111 1-72 1-22 1 57 1-57 1 6 1-61 1 85 1-38 1 58 1-102 1 42 1-7 1 17 1-18 1-8 1 16 1-21 1 28 1-50 1 20 1 24 1 67 1-38 1-58 1 17 1 29 1 48 1-80 1 25 1-9 1 58 1-110 1 12 1 39 1 19 1-9 1-10 1 11 1-13 1 42 1-48 1 16 1-51 1 80 1-53 1-12 1 21 1 0 1 34 1-16 1 40 1-28 1-5 1-11 1-25 1 39 1-64 1 38 1 24 1-48 1-43 1 7 1 40 1-92 1 83 1-45 1-42 1-18 1 5 1-9 1 21 1-13 1-34 1 61 1 10 1-21 1 18 1 73 1-67 1 37 1-23 1 17 1-28 1 14 1-15 1-1 1 99 1-35 1-46 1-30 1 5 1 54 1-50 1-12 1 57 1-25 1 55 1 4 1 12 1-13 1-26 1-10 1 10 1 11 1 13 1-36 1 44 1-29 1-70 1 110 1-36 1-24 1-75 1 68 1-55 1 54 1-59 1-71 1 29 1 27 1-14 1 39 1 17 1-17 1 16 1 5 1 49 1 7 1-40 1-20 1 35 1-3 1 8 1 14 1 4 1-23 1-20 1 30 1 31 1-37 1 23 1-25 1 23 1-21 1 25 1 3 1 20 1-38 1 64 1-50 1 37 1-1"/>
<path vector-effect="non-scaling-stroke" d="M0 854l1-19 1-9 1-11 1 2 1 3 1 25 1-10 1-42 1 48 1 15 1-29 1 4 1-5 1 6 1-30 1 48 1-31 1-9 1 4 1 41 1-5 1-5 1 21 1 70 1-108 1 11 1 30 1 49 1-113 1 25 1 59 1-29 1-7 1 77 1-65 1-8 1-42 1 44 1-81 1 50 1 12 1-21 1 64 1-9 1-17 1-16 1 38 1-17 1-68 1-2 1-32 1 53 1 6 1-26 1 15 1 3 1-36 1 36 1-18 1-29 1 21 1 41 1-66 1 20 1-37 1 27 1-23 1-2 1-21 1 0 1-11 1-23 1-7 1-14 1 44 1-29 1 34 1-1 1 72 1-51 1-19 1-24 1 41 1 50 1-43 1 11 1-1 1-7 1-1 1-38 1 40 1-42 1 8 1 0 1 17 1 22 1 32 1 46 1-10 1-9 1 7 1 34 1-31 1-60 1 104 1-20 1-51 1-19 1 58 1-69 1 46 1-6 1-13 1 46 1-60 1-3 1 51 1-115 1 22 1-47 1-16 1-24 1 18 1 49 1 5 1-1 1 22 1 0 1 38 1-54 1 48 1-39 1 40 1 25 1-9 1-8 1 4 1-4 1-33 1 39 1-47 1 41 1 29 1-34 1 1 1 57 1-36 1-36 1-10 1 37 1 11 1-10 1-3 1 21 1 19"/>
<path vector-effect="non-scaling-stroke" d="M0 900l1-55 1 8 1 7 1-33 1 20 1-29 1 9 1-44 1 43 1-2 1 2 1 46 1-82 1-9 1 98 1-102 1 105 1-31 1-23 1-4 1-81 1 66 1 48 1-64 1 169 1-81 1-10 1-132 1 65 1 35 1 55 1-72 1 46 1-18 1 53 1-36 1-36 1 29 1-85 1 56 1 30 1 19 1-40 1-31 1 18 1-11 1-8 1 74 1-36 1 14 1-8 1-29 1 26 1-37 1 25 1-25 1 7 1-23 1 66 1-50 1 34 1-57 1 12 1 27 1-76 1 7 1-41 1 21 1 55 1 12 1-58 1-13 1-42 1-28 1 13 1 1 1 5 1 45 1 10 1 21 1-36 1 25 1 16 1-2 1-38 1 10 1 19 1 5 1 40 1-56 1 44 1-7 1-33 1 49 1-59 1 8 1 75 1-23 1 23 1-15 1 5 1 11 1 7 1-66 1 90 1-31 1-79 1 63 1 40 1-97 1 44 1 25 1-8 1-16 1 42 1-77 1 9 1-27 1-29 1 18 1-64 1 72 1 40 1-50 1-34 1-1 1-4 1-5 1 49 1-74 1 114 1-10 1-62 1 83 1-61 1 139 1-84 1-8 1 16 1-65 1 38 1 31 1 25 1-14 1 26 1-13 1 22 1-12 1-1 1-17 1 8 1-23 1 74 1 53 1-87"/>
<path vector-effect="non-scaling-stroke" d="M0 851l1 5 1-18 1 35 1-47 1 56 1-37 1-39 1 28 1 27 1-18 1-72 1 31 1 3 1-12 1 23 1 7 1 11 1 4 1 13 1 32 1-64 1 10 1-1 1 37 1-5 1-16 1 46 1-78 1 27 1 7 1-1 1-32 1 21 1 52 1-75 1 41 1-9 1-23 1-1 1 51 1-62 1 30 1-27 1 29 1 41 1-82 1 59 1-37 1 27 1-5 1-75 1 112 1-90 1 46 1 8 1 10 1 30 1-81 1-18 1 25 1-88 1 79 1 6 1-14 1-23 1 75 1-68 1-84 1 37 1 34 1-8 1-51 1 42 1-18 1-23 1-35 1 72 1-22 1 18 1-60 1 9 1 67 1-24 1 41 1-19 1 34 1-5 1-24 1 8 1-13 1-26 1 15 1-69 1 93 1-56 1 68 1-48 1 93 1-8 1-2 1 32 1-5 1-20 1-38 1 13 1-12 1 13 1 25 1-70 1 63 1-4 1-42 1 52 1 52 1-95 1-5 1-28 1-42 1-41 1 29 1 22 1-58 1-26 1 51 1 56 1 9 1-33 1 22 1 3 1 65 1 5 1-11 1-23 1-28 1-2 1 68 1-39 1 17 1-59 1 53 1 26 1-68 1 4 1 14 1 91 1-48 1-30 1-19 1 54 1 6 1-77 1 83 1 87 1-56 1-115"/>
<path vector-effect="non-scaling-stroke" d="M0 823l1 36 1-25 1 11 1 64 1-76 1 69 1-60 1-34 1 8 1 3 1-7 1 57 1-63 1-12 1 49 1-106 1 104 1-40 1-13 1 29 1 62 1-50 1 3 1 68 1-45 1-100 1 107 1-27 1 19 1 2 1-40 1 39 1-48 1 31 1-29 1 32 1 21 1-11 1-30 1-12 1 13 1 21 1 14 1-32 1 16 1 9 1-39 1 56 1-22 1 2 1-20 1-16 1 10 1 42 1-78 1 69 1-50 1 12 1 0 1 1 1 8 1-34 1 2 1 26 1-10 1 0 1-38 1-1 1-9 1-27 1-2 1 1 1-22 1-52 1 78 1-66 1 79 1-7 1-54 1 71 1 23 1-29 1-20 1 14 1 24 1 18 1-49 1 10 1 6 1-24 1 34 1-23 1 23 1-9 1-16 1 39 1-14 1-6 1 35 1 13 1 39 1-69 1 64 1-39 1-19 1-17 1 52 1-18 1 23 1-27 1-29 1 21 1 35 1 32 1-45 1-105 1-4 1 76 1-109 1-9 1-20 1 16 1 66 1-57 1 56 1 6 1-6 1 38 1-5 1 31 1 13 1-12 1 25 1-26 1 1 1-14 1 37 1-30 1 43 1-3 1-54 1 74 1-42 1-40 1 28 1 13 1-13 1-17 1 20 1-25 1 56 1 9 1 21 1-39 1 1"/>
<path vector-effect="non-scaling-stroke" d="M0 824l1 58 1-24 1-22 1-9 1 49 1-84 1 49 1 15 1-77 1 56 1 12 1-6 1-6 1 27 1-74 1 26 1 48 1-51 1 29 1-11 1 27 1-6 1 3 1 19 1 49 1-57 1 15 1 27 1 44 1-120 1-48 1 60 1-32 1 14 1-22 1 67 1-101 1-26 1 13 1 102 1-11 1 17 1-78 1 28 1 27 1-35 1-55 1 87 1 0 1-42 1 13 1-9 1 65 1-39 1-62 1 102 1-56 1-21 1 13 1 32 1-30 1 16 1-2 1-27 1-53 1 66 1-15 1 24 1-30 1-30 1 16 1-107 1 6 1 51 1-11 1-1 1-6 1-4 1 59 1-18 1 12 1-15 1-25 1-12 1 31 1 36 1-4 1-16 1-12 1 40 1 5 1-18 1-3 1 40 1-1 1-51 1 44 1-8 1 35 1-19 1 65 1-65 1-6 1 31 1-28 1 17 1-16 1-58 1 50 1 8 1 6 1 25 1-31 1 22 1-22 1-35 1-50 1 35 1-58 1 54 1-92 1 38 1-40 1 69 1 22 1-43 1 33 1-15 1 27 1 18 1 11 1-26 1 6 1 23 1 7 1 41 1-42 1 27 1 11 1-52 1-1 1 22 1-44 1 44 1-17 1-21 1 17 1 48 1 11 1-96 1 67 1 99 1-88 1 37 1 12"/>
<path vector-effect="non-scaling-stroke" d="M0 849l1 29 1-13 1-55 1-19 1 47 1-34 1 60 1-23 1-71 1 131 1-50 1-19 1-15 1 60 1-36 1-20 1 14 1-32 1 27 1 24 1-10 1 21 1-33 1 6 1 95 1-28 1 5 1-7 1-82 1-37 1 110 1-52 1 8 1 42 1-176 1 111 1 67 1-58 1-37 1 18 1 61 1-58 1-3 1-19 1 29 1-4 1 4 1 1 1 12 1-5 1 24 1-57 1 16 1 51 1-39 1 50 1-22 1-39 1 68 1-110 1 90 1-126 1 128 1 8 1-162 1 79 1-21 1-29 1 26 1-49 1-31 1 91 1-52 1-47 1 0 1 58 1-19 1-5 1 19 1 66 1-63 1 50 1-24 1-41 1 76 1-25 1-14 1 38 1-44 1-3 1 50 1 81 1-86 1-7 1-49 1 57 1 58 1-117 1 5 1 37 1 19 1 77 1-75 1 39 1-36 1-38 1 45 1 9 1 0 1-48 1-42 1 79 1 9 1-30 1-72 1 6 1 27 1 0 1-12 1-40 1 19 1-63 1 42 1-42 1 86 1-103 1 103 1 35 1-45 1 20 1 80 1-76 1-59 1 103 1 14 1-36 1 6 1-27 1 14 1 5 1 5 1-10 1 25 1 15 1-2 1-23 1-14 1 18 1-45 1 23 1-25 1 46 1 57 1-2 1-24"/>
<path vector-effect="non-scaling-stroke" d="M0 878l1-38 1-23 1 56 1-27 1 30 1-8 1-50 1-1 1 51 1 15 1-19 1-63 1 65 1-64 1 36 1-29 1-15 1 1 1 93 1-37 1 40 1-76 1 67 1-11 1-71 1 76 1-32 1 15 1 9 1 8 1-55 1 40 1 25 1-37 1-70 1 45 1-10 1-18 1 95 1-10 1-20 1 27 1-50 1-24 1 23 1-27 1 9 1 61 1-36 1-39 1 24 1-6 1-8 1 29 1-56 1 79 1-53 1-11 1 4 1 21 1-27 1-8 1-6 1-46 1 33 1 40 1-37 1 5 1-7 1-95 1 47 1 95 1-86 1-63 1 4 1-41 1 52 1 65 1-34 1 38 1 65 1-76 1 5 1-24 1 14 1 44 1-39 1-33 1 35 1 4 1-3 1-20 1 30 1 51 1-10 1 6 1-32 1-15 1 26 1 50 1 2 1-61 1 10 1 30 1-13 1-7 1 19 1-12 1 18 1-58 1 47 1 23 1-26 1 42 1-85 1 49 1-68 1-3 1-41 1-51 1 113 1-78 1-20 1 9 1 12 1 21 1-22 1 54 1 23 1 34 1-2 1 2 1-75 1 40 1 25 1-1 1 22 1-48 1 10 1 92 1-67 1-37 1 14 1 8 1-4 1-19 1 40 1-21 1 49 1-46 1 8 1 36 1-2 1-2 1-4"/>
<path vector-effect="non-scaling-stroke" d="M0 902l1-46 1 9 1 12 1-5 1-24 1-29 1 37 1-42 1 22 1 35 1-95 1 79 1-39 1-43 1 35 1 18 1 9 1-25 1 17 1 84 1-121 1 93 1 18 1-19 1-40 1 14 1-26 1 19 1 45 1-60 1 28 1 2 1-2 1 16 1-54 1 60 1-47 1-40 1 21 1 43 1-60 1 47 1-37 1 35 1 16 1-55 1 21 1 11 1 37 1-51 1 78 1-63 1-17 1-12 1 50 1-46 1 8 1 9 1 37 1-72 1 9 1 17 1-37 1 30 1 18 1-71 1 26 1 10 1-71 1-41 1-15 1 70 1-32 1-17 1 13 1 9 1-17 1 35 1-6 1-5 1 50 1-21 1-53 1 31 1 47 1-44 1-14 1 14 1-49 1 70 1 4 1-50 1 30 1 83 1-36 1-104 1 88 1 9 1 31 1 61 1-25 1 2 1-38 1-6 1 29 1-25 1 3 1-27 1 31 1-22 1 12 1-10 1 35 1-70 1 16 1-36 1 118 1-138 1-25 1 7 1 12 1-39 1 30 1-1 1 53 1-26 1 7 1-7 1 16 1 3 1-3 1 11 1 19 1-1 1 41 1 37 1-82 1-24 1 3 1 7 1 30 1-12 1 0 1 24 1-18 1 20 1-52 1 44 1 35 1-29 1 7 1 2 1 1 1 0 1 11"/>
<path vector-effect="non-scaling-stroke" d="M0 832l1 10 1 8 1-29 1 20 1 17 1-26 1 18 1 0 1-39 1-18 1 61 1 47 1-38 1-19 1-58 1 62 1-20 1-9 1 25 1-31 1 26 1-36 1 34 1 23 1-27 1 76 1-45 1-35 1 17 1 5 1 10 1-9 1-5 1 4 1 8 1-36 1 17 1-34 1 33 1-27 1 42 1-14 1-37 1 58 1-51 1 14 1-10 1-4 1 30 1-20 1 21 1-26 1 23 1 7 1 11 1-31 1 8 1 4 1 23 1-61 1-8 1 32 1-7 1 1 1-65 1 67 1-71 1 40 1-23 1-17 1-2 1-2 1-22 1 11 1-24 1-25 1 100 1-33 1-24 1-7 1 44 1 47 1-53 1 1 1 5 1-16 1-8 1-21 1 52 1 36 1-62 1-11 1 22 1-50 1 62 1-42 1 37 1-12 1 91 1-52 1 14 1-29 1 62 1-8 1 32 1-47 1-38 1 27 1 14 1-34 1 23 1 54 1-8 1-9 1-90 1-14 1 3 1-34 1-45 1 41 1-15 1-6 1-36 1 85 1-20 1 31 1-27 1 28 1-8 1-20 1 32 1 5 1-14 1 34 1-74 1 2 1 96 1-67 1 32 1 65 1-48 1 42 1-39 1 0 1-10 1-61 1 17 1 79 1 19 1-64 1 41 1-3 1 27 1-32 1 17"/>
<path vector-effect="non-scaling-stroke" d="M0 907l1-12 1-47 1 27 1-20 1-7 1-22 1 12 1-22 1-5 1 7 1-25 1 47 1-39 1 43 1-1 1-3 1 0 1-24 1 48 1 5 1-61 1 29 1-32 1 52 1-46 1 53 1-72 1 8 1 28 1 50 1-11 1 30 1-41 1 45 1-22 1-62 1 42 1-16 1 2 1 42 1-85 1 75 1-8 1-59 1 6 1 3 1 59 1-12 1-54 1 16 1-25 1 53 1-39 1 17 1 7 1-49 1 28 1 25 1 25 1-58 1 42 1-9 1-34 1 8 1-42 1 11 1-8 1 8 1-2 1-46 1-17 1-7 1-16 1-46 1 19 1 44 1-25 1-10 1 17 1 83 1-14 1-72 1 67 1 14 1-34 1 66 1-76 1 18 1 18 1-36 1-49 1 79 1-73 1 30 1 46 1 67 1-50 1-15 1 16 1-30 1 144 1-78 1 23 1-71 1 46 1 4 1-52 1 49 1 32 1 38 1-84 1-7 1 13 1 67 1-77 1-20 1 21 1-110 1 55 1 12 1-85 1-43 1 35 1 58 1 71 1-90 1 32 1-22 1 29 1 51 1-10 1-19 1 19 1-37 1 83 1-60 1-21 1 26 1 52 1-21 1-43 1 39 1-13 1-21 1 30 1-18 1 17 1-21 1 94 1-130 1 58 1-22 1-11 1 30 1 22"/>
<path vector-effect="non-scaling-stroke" d="M0 849l1-30 1 20 1 49 1-38 1-15 1-21 1 49 1 25 1-65 1 72 1-25 1-103 1 17 1 77 1-28 1-23 1 12 1 8 1-22 1 82 1-62 1-7 1 115 1-125 1 42 1-31 1 54 1-33 1-13 1 45 1-69 1 56 1-13 1-40 1 33 1-4 1 17 1-63 1 69 1-27 1-3 1 51 1-67 1 3 1 35 1-11 1-52 1 56 1-52 1 59 1-115 1 126 1-26 1 7 1 13 1-31 1 25 1-52 1-10 1 45 1 29 1-63 1 73 1-53 1-84 1 11 1 21 1-13 1 33 1-74 1 54 1-35 1-43 1-36 1 41 1 5 1 64 1-79 1 52 1 4 1 19 1-54 1 41 1 18 1 20 1-85 1 49 1-34 1 56 1 19 1-28 1 24 1-138 1 92 1-2 1 21 1 32 1 11 1 31 1-18 1 16 1 35 1-34 1-61 1 25 1 13 1 13 1-38 1-17 1 38 1 41 1-87 1 85 1-61 1 47 1-2 1-60 1-6 1 17 1-90 1-78 1 31 1 48 1-47 1 11 1 17 1 125 1-41 1 10 1-23 1 26 1-32 1-40 1 107 1-9 1-17 1-49 1-9 1 69 1-42 1-13 1 16 1 42 1 0 1-15 1-10 1-7 1 0 1 53 1 7 1 1 1-24 1-3 1 13 1-23"/>
<path vector-effect="non-scaling-stroke" d="M0 864l1-31 1 37 1-10 1-76 1-17 1 101 1-31 1 1 1-38 1 6 1 12 1 59 1 4 1-70 1-16 1 5 1 9 1 44 1-14 1 2 1-14 1-27 1 78 1-31 1-4 1 53 1 5 1-85 1 63 1 20 1-19 1-123 1 89 1 13 1-43 1 24 1-92 1 123 1-106 1 93 1-21 1-3 1-10 1-39 1 26 1 57 1-41 1 8 1-10 1-37 1 30 1 25 1 10 1-2 1-11 1 25 1-20 1 28 1-102 1 40 1 24 1-34 1 56 1-134 1 77 1 57 1-122 1 10 1-4 1 55 1-68 1 30 1 28 1-99 1 69 1-43 1-16 1 59 1 31 1-47 1-18 1 51 1-12 1-34 1-60 1 165 1-56 1-25 1 0 1-7 1 21 1-96 1 18 1 24 1 67 1-23 1 18 1 35 1-58 1 163 1-48 1-93 1-61 1 135 1-40 1 4 1 2 1-35 1 43 1-17 1 24 1-32 1 5 1 4 1-54 1 4 1-35 1-75 1 64 1-44 1 27 1-32 1 109 1-64 1 40 1-11 1 27 1-17 1 7 1 3 1 14 1-93 1 73 1 75 1-51 1 21 1 5 1-29 1 49 1-24 1 2 1 11 1-48 1 68 1-68 1 107 1-124 1 76 1-79 1 98 1-110 1 50 1 43 1 54 1-52"/>
<path vector-effect="non-scaling-stroke" d="M0 771l1 132 1-33 1 0 1 0 1-32 1-5 1-22 1-32 1 24 1 42 1 29 1 7 1-113 1 36 1 42 1-57 1-5 1 32 1 3 1 75 1-24 1-33 1-24 1 28 1-21 1 50 1-28 1 8 1 13 1-3 1 18 1-56 1 60 1-26 1-45 1 42 1-9 1-11 1 71 1-2 1-74 1-19 1 8 1-13 1 53 1-19 1-4 1-35 1 12 1 52 1-52 1 18 1 3 1-9 1 6 1-25 1 20 1-53 1 15 1 35 1-43 1 24 1-20 1 18 1-30 1-39 1 26 1 12 1-22 1-12 1-55 1 9 1-10 1-51 1 90 1-6 1 15 1 55 1-40 1-14 1 74 1-32 1 7 1-36 1 35 1 10 1-38 1-27 1 112 1-71 1-50 1 12 1 32 1 7 1 4 1-3 1-20 1 48 1-20 1-10 1 47 1 9 1-4 1 3 1-9 1-15 1 25 1-46 1 16 1-16 1 37 1-43 1 24 1-28 1 54 1-82 1 5 1-101 1 22 1 25 1-25 1-2 1-31 1 86 1-4 1-21 1 32 1 46 1-49 1 106 1-82 1 22 1 10 1 1 1-5 1-2 1 29 1-9 1-45 1 57 1 3 1-60 1 73 1-22 1-9 1 48 1 8 1-59 1-50 1 69 1 10 1 38 1-51 1 46 1-30"/>
<path vector-effect="non-scaling-stroke" d="M0 893l1-63 1 34 1-29 1-38 1 63 1 31 1-78 1-24 1 53 1 51 1-28 1-45 1 3 1 61 1-59 1 30 1-47 1-1 1 48 1-85 1 50 1 32 1 28 1 8 1-55 1 108 1-69 1-33 1 40 1-93 1 96 1-17 1-43 1 0 1 34 1-6 1 4 1 5 1-26 1-5 1 14 1 14 1-55 1 37 1-13 1 37 1 58 1-92 1 15 1 20 1-41 1-9 1 28 1-23 1 93 1-67 1-44 1-27 1 65 1 0 1-20 1-34 1 73 1-60 1 19 1 33 1-42 1-72 1 11 1-46 1-2 1 23 1-76 1 15 1 51 1 25 1-39 1 64 1-75 1 103 1-27 1-4 1 1 1-27 1 1 1 9 1 14 1-4 1 64 1-46 1 33 1-92 1 48 1 50 1 7 1-45 1-8 1 97 1-22 1-62 1 79 1 4 1-49 1-12 1-35 1 54 1 13 1-23 1-95 1 92 1 17 1-43 1-7 1 3 1 20 1-23 1-42 1 13 1 18 1-24 1-26 1-16 1-16 1 21 1 28 1-69 1 73 1-31 1 73 1-24 1 3 1 20 1-14 1 20 1-47 1 32 1-10 1 30 1 16 1-33 1 23 1-30 1 60 1-21 1-59 1 34 1 20 1 62 1-64 1 5 1 19 1-43 1 41 1 1 1-5"/>
<path vector-effect="non-scaling-stroke" d="M0 874l1-139 1 121 1-33 1-25 1 1 1 31 1 32 1 34 1-56 1 9 1 28 1-66 1 8 1-112 1 116 1-11 1 99 1-74 1-10 1-8 1 31 1-16 1 19 1 2 1 2 1 39 1-43 1-39 1 78 1-32 1-26 1-21 1 78 1-26 1-59 1 21 1-12 1 0 1 16 1 60 1-66 1-10 1 26 1-56 1 105 1-79 1 106 1-145 1 63 1 9 1-28 1-26 1 25 1-8 1 52 1-41 1-62 1 73 1 45 1-86 1-8 1 0 1-5 1-60 1 16 1 112 1-101 1-1 1 17 1-32 1 38 1 14 1-149 1 52 1 29 1 50 1-32 1-2 1 65 1-33 1-15 1 15 1 45 1-22 1-36 1 24 1-24 1 47 1-18 1-47 1 53 1-55 1 15 1-1 1 24 1 23 1-13 1 27 1-9 1 73 1-69 1 79 1 4 1-9 1-41 1 10 1 27 1-69 1 0 1 39 1 8 1 16 1-76 1 54 1-78 1 32 1-65 1 27 1-32 1 52 1-97 1 6 1 55 1-59 1 43 1-15 1 66 1-59 1 43 1-29 1 59 1-45 1-1 1 11 1 23 1-9 1-35 1 78 1-64 1 58 1-8 1-9 1 6 1-60 1 81 1-17 1-43 1 88 1-36 1-8 1 18 1-44 1 43 1-6 1 26"/>
<path vector-effect="non-scaling-stroke" d="M0 862l1-53 1 61 1-21 1-3 1-24 1-24 1 92 1-65 1-26 1 88 1-52 1-23 1 144 1-131 1 7 1-79 1 103 1-8 1-53 1 39 1-20 1 34 1-29 1 9 1 35 1-13 1-11 1-6 1 2 1 42 1-34 1-18 1-24 1 71 1-17 1-128 1 102 1-4 1-13 1 8 1-8 1-18 1-8 1 62 1-11 1 31 1-55 1 37 1 87 1-58 1-2 1-14 1-8 1-12 1-54 1 18 1 20 1-20 1 25 1 2 1-89 1 62 1-45 1-40 1 84 1-40 1-22 1 54 1-45 1-16 1-23 1-23 1 7 1 7 1-27 1 3 1 72 1 25 1-26 1-3 1 34 1-39 1-9 1 41 1-71 1 55 1 15 1 56 1-99 1 12 1-8 1 40 1-33 1 40 1 35 1-29 1-3 1-38 1 27 1 54 1-19 1-6 1 22 1-21 1-13 1 32 1-25 1-2 1-39 1 115 1-37 1-22 1 2 1-39 1 6 1-60 1-3 1 34 1-52 1-15 1 20 1-15 1-53 1-3 1 59 1 41 1 14 1 11 1 36 1-75 1 74 1-55 1 57 1-14 1 29 1-57 1 6 1-25 1 21 1-14 1 67 1-24 1-21 1-28 1 77 1-88 1 43 1 31 1-20 1 30 1-11 1 11 1-12 1-17 1 45"/>
<path vector-effect="non-scaling-stroke" d="M0 869l1 54 1-76 1-6 1 11 1-12 1-19 1 38 1-26 1-7 1 33 1 7 1-21 1 18 1-78 1 94 1-56 1-54 1 40 1-3 1 32 1 48 1-83 1 84 1-38 1-21 1 14 1 35 1-70 1 97 1-83 1 2 1 33 1-18 1 6 1-20 1 53 1-19 1 33 1-68 1 38 1-6 1-30 1 30 1 59 1-81 1 8 1-21 1 12 1 31 1-16 1-97 1 87 1-62 1 59 1-10 1 36 1-44 1 7 1 43 1-14 1-10 1-42 1-25 1 10 1 8 1 24 1-62 1 38 1-57 1 4 1-29 1 9 1 10 1-13 1-70 1 42 1 15 1-13 1 33 1 11 1-19 1 17 1-1 1 52 1-22 1-68 1 45 1 28 1 20 1-27 1-19 1 52 1-59 1 23 1-25 1 28 1-25 1 64 1-17 1 19 1 74 1-56 1 19 1-94 1 90 1-68 1 28 1 33 1-22 1 18 1 34 1-8 1-9 1-53 1 3 1-34 1-38 1 2 1 8 1-9 1-51 1-17 1 39 1-4 1-2 1 85 1-33 1-9 1 7 1-10 1 52 1-53 1 38 1 25 1-2 1-34 1 74 1-35 1-5 1-13 1 37 1-11 1-61 1 61 1 7 1-50 1 48 1-58 1 33 1 59 1-17 1-28 1-21 1 78 1-21"/>
<path vector-effect="non-scaling-stroke" d="M0 869l1 9 1-2 1-26 1 37 1-66 1 36 1 1 1-24 1 9 1-46 1 56 1 0 1 0 1-38 1 19 1-10 1 11 1-14 1-3 1 56 1-15 1-2 1-32 1 26 1 12 1-17 1 0 1-1 1 32 1-22 1-11 1-13 1 58 1-60 1 50 1-73 1 10 1-5 1 15 1-49 1 43 1 8 1 16 1 7 1-20 1-3 1 17 1-14 1-10 1-31 1 35 1 6 1-42 1 54 1 75 1-89 1-43 1 38 1-11 1 12 1-2 1-40 1 20 1-35 1-2 1 29 1-33 1 13 1 24 1-72 1-30 1 58 1 45 1-130 1 57 1-20 1-1 1 5 1 7 1 0 1 35 1-11 1 2 1-9 1-10 1 19 1-69 1 64 1 43 1-100 1 39 1 42 1-6 1-12 1-28 1 47 1 8 1-15 1 26 1-39 1 31 1 66 1-4 1-50 1-13 1 36 1-17 1 19 1-28 1 54 1-9 1-31 1 7 1-14 1-29 1 15 1-8 1-34 1-60 1-7 1-14 1-78 1 145 1-18 1 27 1-27 1 28 1 60 1-62 1 27 1-7 1 30 1-31 1 29 1-20 1 58 1-51 1-21 1-14 1 14 1 25 1 86 1-65 1-5 1-2 1 2 1-52 1 45 1-8 1 8 1 51 1-26 1 34 1-26 1 62"/>
<path vector-effect="non-scaling-stroke" d="M0 872l1-30 1 27 1-44 1 15 1-32 1 45 1 20 1-26 1-21 1 2 1 2 1 24 1-37 1-5 1 44 1-34 1 38 1 33 1-73 1 13 1-25 1 45 1 11 1-59 1 44 1 48 1-15 1-25 1 1 1-46 1-20 1 122 1-62 1-12 1-14 1 29 1 38 1-57 1-5 1 59 1 3 1-57 1-12 1 39 1-37 1-3 1 57 1-46 1-18 1 27 1-1 1-45 1 25 1 65 1-93 1 36 1-18 1 17 1-1 1-36 1 37 1-39 1-42 1 65 1-74 1-17 1 2 1 34 1 15 1-26 1-10 1-24 1-2 1-27 1-26 1 60 1-14 1-30 1 93 1-69 1 43 1-42 1 77 1-52 1 54 1-75 1 78 1-71 1 71 1-65 1 28 1 29 1-26 1 7 1-4 1 31 1 12 1-25 1-10 1 46 1-27 1 48 1-6 1 2 1 6 1-1 1-61 1 2 1 52 1-28 1 84 1-85 1 63 1-66 1 44 1-36 1-49 1 6 1-91 1 23 1 6 1-43 1 46 1 10 1 35 1-72 1 68 1 5 1-16 1 48 1-12 1-19 1 0 1 79 1-61 1 47 1-18 1-4 1-16 1 55 1-21 1-17 1-10 1-18 1-2 1 62 1-45 1 4 1 14 1-9 1 4 1 27 1-3 1-13 1-5"/>
<path vector-effect="non-scaling-stroke" d="M0 850l1-9 1-5 1 25 1-17 1 18 1 22 1-50 1-3 1-1 1 30 1-41 1 21 1-24 1-5 1-6 1 28 1 29 1-29 1 30 1-47 1 19 1-25 1 29 1 14 1-33 1 47 1-4 1-51 1 24 1 16 1 7 1 3 1-1 1-28 1 16 1-33 1 46 1-26 1-5 1 2 1-29 1 31 1-15 1 10 1-4 1-9 1 16 1 6 1 9 1-23 1 17 1-48 1 37 1-22 1 26 1-10 1-11 1-1 1-19 1 28 1 14 1 5 1-49 1-15 1 30 1-29 1-48 1 38 1-40 1-2 1 33 1-26 1-12 1-39 1-8 1 27 1-4 1 36 1-18 1 47 1 0 1-6 1-28 1 17 1 27 1-39 1 6 1-1 1 6 1 50 1-32 1-6 1 9 1-9 1 48 1-5 1-26 1 18 1 23 1-22 1 69 1-34 1-31 1 32 1-35 1 5 1-38 1 24 1 24 1-8 1 0 1 33 1-13 1-5 1-48 1 11 1-17 1-47 1-12 1 29 1-72 1 12 1 17 1 4 1 31 1-2 1 15 1 13 1 2 1 11 1-27 1 37 1 0 1-23 1 46 1-16 1 37 1-7 1-47 1 33 1-25 1 24 1 3 1-19 1 19 1 20 1-41 1 5 1 18 1 14 1 2 1-32 1 60 1-16 1 7"/>
<path vector-effect="non-scaling-stroke" d="M0 866l1-13 1 7 1-18 1 9 1 22 1 61 1-102 1 7 1-11 1-35 1 63 1-25 1 26 1 14 1-21 1-21 1-6 1 2 1-1 1 32 1-47 1 55 1 14 1-26 1-12 1 42 1-50 1-13 1 68 1-59 1 10 1 78 1-55 1 56 1-84 1 11 1-74 1 63 1-21 1 17 1 14 1-38 1 50 1-23 1-43 1 66 1 20 1-73 1-32 1 46 1 57 1-54 1 41 1-33 1 65 1-78 1-14 1 46 1-46 1 9 1 24 1-38 1 50 1-99 1 83 1-53 1 2 1-57 1-3 1 48 1-11 1-83 1 19 1 1 1 18 1-53 1 66 1 66 1-101 1 59 1 21 1 2 1 13 1-27 1 52 1-68 1-8 1 18 1-8 1 37 1-31 1-47 1 17 1 53 1 10 1-72 1 11 1 130 1-130 1 97 1 1 1-24 1 29 1-90 1 11 1 67 1-17 1-42 1 65 1-40 1 28 1-16 1-6 1 42 1-23 1-57 1 68 1-44 1-60 1 27 1-82 1 17 1 80 1-46 1-21 1 56 1-59 1 67 1-1 1 20 1 50 1-57 1-12 1 28 1 50 1-43 1-51 1 81 1 48 1-85 1 21 1-22 1-19 1 71 1-11 1-3 1-26 1-13 1 28 1-67 1 123 1-83 1 34 1 1 1 94"/>
<path vector-effect="non-scaling-stroke" d="M0 911l1-27 1 30 1-59 1 1 1-12 1-9 1-41 1 57 1 27 1-149 1 135 1-44 1 37 1-5 1 40 1-69 1 21 1-56 1 17 1 81 1-68 1-39 1-2 1 53 1-18 1 90 1-46 1 28 1-67 1 28 1-31 1 19 1 58 1-66 1-23 1 20 1 20 1-2 1-27 1-66 1 55 1 43 1-28 1 41 1-20 1 44 1-38 1-18 1-52 1 67 1 15 1-10 1-7 1 15 1 26 1 10 1-23 1 4 1-82 1 29 1-15 1-27 1 11 1 13 1 20 1 7 1-33 1-13 1-28 1 5 1-45 1 43 1-76 1-6 1 48 1 9 1-62 1 87 1-81 1 50 1 11 1-26 1 20 1 15 1 56 1-19 1-48 1 92 1-58 1-2 1 20 1-81 1 36 1-38 1 89 1-16 1-99 1 53 1 55 1 7 1 50 1-26 1-34 1-10 1 33 1-12 1-16 1-33 1 61 1 21 1-24 1-39 1-20 1 101 1-74 1-73 1 118 1-15 1-140 1 40 1-38 1-5 1 17 1-38 1 159 1-78 1 186 1-150 1 1 1-4 1 48 1-30 1-99 1 59 1 79 1 12 1 9 1-89 1 40 1-34 1 38 1 24 1-44 1 11 1 14 1-44 1 34 1 13 1-46 1 8 1 2 1 114 1-88 1 59 1-24"/>
<path vector-effect="non-scaling-stroke" d="M0 844l1-9 1 7 1-30 1 79 1-28 1-85 1 87 1 7 1-44 1 17 1 12 1-64 1-19 1 78 1-72 1 44 1-28 1 41 1-57 1 92 1-22 1-1 1 2 1-52 1 56 1-31 1 29 1-40 1 91 1-33 1-84 1 90 1-22 1 2 1-59 1 37 1-4 1-49 1 56 1-18 1 70 1-34 1-11 1-56 1-36 1 84 1-9 1 10 1 11 1-30 1-12 1 8 1 25 1 4 1 25 1 21 1-56 1-21 1 19 1 24 1-32 1 1 1-45 1 47 1-67 1 49 1-81 1 59 1-67 1 43 1-6 1-61 1 38 1-26 1-70 1 28 1 59 1 44 1-83 1 18 1-3 1 112 1-44 1-40 1 27 1 31 1-51 1 24 1-23 1 12 1 26 1-59 1 16 1-52 1 98 1 80 1-79 1 32 1 0 1-5 1 15 1-40 1 42 1-2 1-4 1-16 1 22 1-70 1 7 1 54 1 18 1-7 1-6 1-45 1 42 1-85 1 57 1-109 1 77 1-54 1 11 1-65 1 30 1-9 1 35 1-39 1 202 1-128 1 31 1-47 1 61 1-65 1 56 1 25 1 60 1-112 1 11 1 1 1 0 1 12 1-12 1 24 1 10 1-15 1-25 1 6 1-28 1 70 1-3 1-1 1-1 1-32 1-5 1 49 1 74"/>
<path vector-effect="non-scaling-stroke" d="M0 863l1-12 1 8 1 1 1-52 1 62 1-64 1 4 1-13 1 47 1-17 1-28 1 54 1-49 1 33 1-27 1-28 1 97 1-87 1 45 1-14 1 40 1-42 1 59 1-25 1-33 1 33 1 42 1-30 1-5 1-14 1 30 1-59 1 6 1 24 1-23 1-5 1 26 1-24 1 13 1-70 1 71 1-14 1 68 1-35 1-10 1-31 1 64 1-44 1 27 1-49 1 11 1 17 1 30 1-28 1 19 1 6 1-22 1-55 1-16 1 39 1-22 1-12 1 14 1-22 1 17 1-4 1 2 1-67 1 15 1-10 1 35 1-32 1-15 1 10 1-22 1 6 1-14 1 86 1-7 1 33 1-16 1-40 1 1 1-16 1 15 1 30 1-68 1 22 1-4 1 42 1-31 1 33 1-2 1 14 1-19 1 22 1-11 1-9 1 47 1 14 1-23 1 21 1-24 1-28 1-36 1 18 1 22 1-36 1 48 1 21 1 9 1-22 1-28 1 20 1-55 1 52 1-26 1 29 1 0 1-132 1 17 1-4 1 28 1-23 1 34 1 12 1 6 1-33 1 89 1-48 1 29 1-12 1-6 1 6 1 15 1-31 1 65 1-23 1 9 1-21 1 25 1 11 1-8 1-35 1 22 1 29 1 3 1-57 1 10 1 10 1-17 1 19 1-71 1 98 1-16"/>
<path vector-effect="non-scaling-stroke" d="M0 860l1 46 1-19 1-22 1-38 1-6 1-11 1 17 1 8 1-30 1 24 1-20 1 19 1-24 1 5 1 35 1-38 1 70 1-73 1 18 1-8 1 18 1 22 1-14 1 20 1-36 1 40 1 4 1 0 1-5 1-2 1-4 1-55 1 117 1-85 1 10 1-53 1 33 1-15 1-7 1 33 1 31 1-64 1 43 1-20 1-20 1 61 1-22 1 31 1 25 1-55 1-80 1 39 1 23 1 18 1-5 1-28 1 28 1 15 1 20 1-64 1-9 1 25 1 25 1-136 1 40 1 89 1-52 1-26 1 15 1-67 1 56 1-29 1-78 1 31 1-40 1 40 1 42 1-46 1 60 1-77 1 39 1 10 1 55 1-29 1-30 1 45 1-26 1 12 1 49 1-47 1 40 1-71 1 54 1 6 1-109 1 100 1 18 1-4 1 14 1-29 1 42 1-33 1 74 1-90 1 43 1-8 1 5 1-58 1 45 1 3 1 13 1-2 1 19 1-30 1-12 1-38 1 40 1-62 1 0 1-48 1 2 1-30 1 23 1 17 1-38 1 74 1 64 1-35 1-16 1 1 1 64 1-52 1 14 1 39 1-44 1 35 1 14 1-43 1 69 1-69 1-63 1 97 1 4 1 21 1-25 1 49 1-82 1 8 1 40 1 10 1 8 1 1 1-61 1 43 1 20"/>
<path vector-effect="non-scaling-stroke" d="M0 831l1-11 1 31 1-2 1 9 1-1 1-20 1 62 1-50 1-32 1 13 1-4 1-80 1 134 1-86 1 36 1-7 1 0 1-16 1-2 1 41 1-50 1-17 1 105 1-34 1-33 1 7 1 99 1-20 1-21 1 21 1-44 1-10 1-5 1 21 1-64 1 51 1 36 1-32 1-9 1 12 1-88 1 63 1-22 1 56 1-68 1 42 1 25 1-48 1 5 1 30 1-54 1-3 1 47 1 2 1-61 1 65 1-47 1 51 1-28 1-45 1 8 1-13 1 11 1-1 1 8 1-65 1 54 1 7 1-21 1-101 1 46 1-16 1-1 1 1 1-33 1 29 1-41 1 92 1-17 1 7 1 44 1-45 1 12 1 100 1-111 1 38 1-73 1 27 1 37 1 10 1-11 1 54 1-92 1 41 1 43 1 14 1-66 1 38 1 36 1-6 1-106 1 115 1-40 1-37 1 33 1 50 1-7 1-3 1-49 1-19 1 40 1 41 1-45 1-4 1 40 1-96 1 27 1-49 1-23 1 20 1 30 1-47 1 8 1-40 1 48 1 40 1-21 1 36 1 4 1-82 1 119 1-70 1 16 1 8 1-3 1 37 1 26 1-91 1 67 1-49 1 69 1-64 1 52 1-87 1 72 1-16 1 13 1 15 1-4 1-15 1-11 1-10 1 8 1 77 1-4"/>
<path vector-effect="non-scaling-stroke" d="M0 872l1-41 1 29 1 13 1-46 1 24 1 41 1-45 1-10 1 35 1-54 1 13 1-17 1 36 1-10 1-6 1-3 1-37 1 83 1-2 1-39 1 20 1-27 1 52 1-65 1 69 1 4 1-17 1 7 1 18 1-64 1 16 1-45 1 73 1-14 1 13 1-70 1 46 1-22 1-6 1-22 1 33 1-48 1 53 1-31 1-4 1 76 1-61 1-3 1 30 1-7 1-21 1 89 1-67 1 27 1-21 1 3 1-5 1-38 1-5 1 0 1-11 1-85 1 94 1-23 1 18 1-9 1-18 1 11 1-7 1-18 1-65 1 36 1-64 1-11 1 64 1-20 1 41 1-17 1 49 1-47 1 26 1-30 1 157 1-109 1-8 1-21 1 23 1-1 1-59 1 36 1 31 1 1 1-34 1 28 1-26 1 50 1 34 1-9 1-59 1 87 1 78 1-113 1 12 1-18 1 35 1-66 1 2 1 17 1-13 1 15 1 5 1 47 1-5 1-33 1 25 1-32 1-49 1-11 1-27 1-17 1-56 1 21 1 28 1 19 1 30 1-17 1-17 1 21 1 9 1 13 1 30 1 9 1 36 1-27 1 2 1-40 1 38 1-4 1-28 1 49 1 45 1-57 1-46 1 18 1 9 1-50 1 64 1 36 1-37 1 26 1 19 1-5 1-17 1-18 1 70"/>
<path vector-effect="non-scaling-stroke" d="M0 795l1 96 1-81 1-2 1 48 1 14 1 11 1-43 1 66 1-79 1 18 1-37 1-11 1 44 1 16 1-47 1-28 1 20 1 42 1-1 1-107 1 126 1 11 1-10 1 45 1-93 1-14 1 102 1-68 1 40 1 82 1-99 1-17 1 15 1-21 1-18 1 26 1-6 1-23 1 15 1-17 1 22 1 2 1 6 1 19 1-20 1 92 1-67 1 6 1-48 1 46 1-26 1 44 1-55 1-17 1 87 1-31 1-16 1-28 1 26 1-31 1-2 1 48 1-75 1-32 1 1 1-9 1 15 1 2 1-13 1 13 1-49 1-31 1-20 1 18 1-12 1 50 1-30 1 14 1-26 1 37 1 54 1 31 1-52 1-55 1 15 1-28 1 105 1-71 1-31 1 95 1-52 1 6 1 22 1-35 1 30 1-10 1-2 1 61 1 49 1-47 1-43 1 87 1-26 1-16 1-52 1 36 1-17 1 34 1-75 1 67 1 129 1-50 1-119 1 61 1 20 1-70 1-67 1 13 1-15 1 78 1-76 1-61 1 68 1-13 1 10 1-21 1 11 1 60 1-9 1 23 1 10 1 14 1-15 1-32 1 69 1-18 1-53 1-15 1 37 1-6 1 46 1-65 1 8 1-7 1 85 1-40 1-31 1 69 1 33 1-60 1-95 1 48 1 45 1 94 1-141"/>
<path vector-effect="non-scaling-stroke" d="M0 885l1 2 1 6 1-88 1 0 1 37 1 7 1-46 1 41 1-23 1-10 1 24 1 31 1-69 1 54 1-44 1 20 1-1 1 1 1 23 1-7 1-35 1 17 1 6 1 9 1 23 1-25 1 49 1-27 1 26 1-11 1-22 1-28 1 24 1-5 1 27 1-37 1-2 1-31 1 17 1 39 1 0 1-45 1 51 1-41 1 49 1-54 1 12 1-1 1 4 1 34 1-47 1-1 1-1 1 35 1-3 1-64 1 29 1 14 1-16 1-36 1 95 1-72 1-4 1 5 1-10 1 28 1-39 1-20 1 29 1-85 1 42 1-30 1-30 1 34 1-36 1 27 1-26 1 53 1-1 1 17 1 7 1-74 1 79 1-88 1 89 1-18 1 15 1-5 1-75 1 49 1-8 1 20 1-11 1-6 1 43 1 1 1-40 1-8 1 92 1 0 1 20 1-12 1 26 1-27 1 42 1-79 1-24 1 54 1-9 1 19 1 0 1-14 1-10 1 19 1-4 1-61 1 3 1-7 1-18 1-55 1-15 1-10 1 2 1 46 1-3 1-12 1 37 1 23 1-1 1 15 1-1 1-30 1-25 1 62 1 18 1-20 1 23 1 4 1 4 1-37 1 26 1-24 1-4 1 58 1-2 1-32 1 20 1-53 1 64 1-8 1-5 1 34 1-21 1 26 1 36"/>
<path vector-effect="non-scaling-stroke" d="M0 833l1 60 1-35 1-2 1 16 1 9 1-62 1-17 1 40 1-25 1-1 1 14 1-28 1 85 1-80 1 46 1-82 1 36 1-1 1 15 1 10 1 17 1 53 1-55 1 26 1-19 1 15 1 3 1-47 1 42 1-6 1 1 1-13 1-3 1 31 1-63 1 7 1 38 1 9 1 22 1-52 1-22 1 14 1 0 1 2 1 19 1-4 1-2 1 4 1-7 1-23 1-1 1-43 1-6 1 62 1 0 1-8 1-33 1 41 1 6 1 9 1 15 1-51 1-15 1 14 1 16 1-66 1 30 1-36 1 9 1-55 1-6 1-5 1-15 1 66 1-25 1-18 1 60 1-25 1 17 1 13 1-38 1 14 1 8 1-46 1 45 1 44 1 14 1-60 1-50 1 63 1 12 1-16 1-7 1 32 1-39 1 15 1-51 1 60 1 53 1 55 1-49 1 12 1-37 1 0 1 21 1 5 1-15 1-8 1 50 1-19 1 7 1-53 1 17 1 4 1-47 1-13 1-24 1-20 1 2 1 4 1-19 1-18 1-9 1 88 1-130 1 55 1 7 1 34 1 38 1 25 1-1 1-57 1 37 1-21 1 14 1 10 1 3 1-35 1 39 1 18 1 6 1-18 1 4 1-40 1 36 1 0 1 16 1-28 1 51 1-52 1 24 1-22 1 55 1-33 1 112"/>
<path vector-effect="non-scaling-stroke" d="M0 878l1-38 1-26 1 94 1-95 1 64 1 9 1 64 1-158 1 21 1-29 1 92 1-11 1-8 1-47 1-15 1 49 1 29 1-62 1 16 1 6 1 62 1-78 1 23 1 55 1-74 1 40 1-30 1 44 1-14 1-34 1 73 1-60 1 2 1-25 1 25 1 37 1-32 1 13 1-82 1 31 1 47 1-67 1-61 1 120 1-3 1-31 1 48 1 22 1-47 1 26 1-83 1-27 1 54 1 51 1-56 1 24 1 11 1-50 1 67 1-39 1-12 1 1 1-46 1 16 1-26 1 68 1-36 1 6 1-77 1 35 1-6 1-22 1-18 1 8 1-27 1 17 1 37 1-40 1 69 1-36 1 3 1-35 1-26 1 144 1-72 1-39 1 62 1 7 1 70 1-104 1-22 1 223 1-254 1 56 1-12 1 65 1-53 1 24 1 65 1 20 1 3 1-64 1 18 1 16 1-44 1 53 1-37 1 57 1-53 1-27 1 61 1-70 1 90 1-11 1-119 1 88 1-28 1-43 1-44 1 21 1-12 1-30 1 94 1-111 1 53 1-5 1 31 1-12 1 24 1 13 1 24 1-59 1 16 1 20 1 47 1-91 1 33 1 160 1-129 1 4 1-27 1 1 1 50 1-93 1 97 1-32 1 18 1 58 1-42 1-59 1 84 1-80 1 74 1-25 1 42"/>
<path vector-effect="non-scaling-stroke" d="M0 891l1-30 1-20 1-11 1 2 1 31 1-24 1 14 1-21 1-13 1 11 1-3 1-58 1 55 1 31 1-29 1 42 1-46 1 26 1-22 1 45 1 52 1-121 1 33 1 34 1-34 1-7 1 51 1-8 1-63 1 51 1-6 1 45 1-54 1-58 1 32 1 4 1 19 1-29 1 34 1 55 1-72 1-9 1-2 1 25 1-4 1-4 1-20 1-2 1-32 1 30 1 54 1-20 1-48 1 84 1-76 1 8 1 9 1-30 1 47 1-53 1 30 1-30 1 24 1-22 1-30 1-5 1 50 1-78 1 20 1-8 1-7 1-11 1 34 1-50 1 53 1-62 1-14 1 11 1 63 1 22 1 24 1-67 1 7 1 56 1-46 1 3 1-56 1-19 1 7 1 102 1-74 1 59 1-25 1-23 1 102 1-41 1-3 1 1 1-8 1-8 1 73 1-7 1-24 1-9 1-26 1 44 1-9 1-26 1-5 1 6 1 32 1-59 1 95 1-38 1-10 1-25 1-29 1 31 1-72 1-60 1 64 1-55 1 14 1 85 1-41 1 17 1 25 1 11 1-8 1 3 1-38 1 43 1-42 1 18 1-20 1 72 1-22 1-7 1-10 1 51 1 10 1-50 1 12 1-15 1 23 1-36 1 42 1-11 1 26 1-27 1 13 1 28 1-99 1 97 1 26"/>
<path vector-effect="non-scaling-stroke" d="M0 942l1-103 1-5 1-46 1 62 1-24 1 60 1-52 1-45 1 78 1-32 1 13 1-53 1 59 1-66 1 68 1-53 1-19 1 30 1-42 1 35 1 60 1-8 1-31 1 21 1-18 1-5 1 45 1-17 1-52 1 84 1 12 1-9 1 17 1-21 1-55 1-6 1-49 1 81 1-14 1-38 1 70 1-28 1-29 1 14 1 11 1 19 1-79 1 16 1 74 1-39 1 34 1 46 1-80 1-30 1 5 1 31 1 13 1-37 1 7 1 58 1-106 1 12 1 2 1 54 1-92 1 25 1 17 1 52 1-34 1-62 1 16 1-53 1-19 1-4 1-1 1 16 1 6 1-5 1 14 1-13 1 17 1 54 1-21 1 8 1 21 1-40 1-6 1 3 1 2 1-36 1 43 1-3 1 2 1 2 1-42 1 37 1 22 1 31 1 40 1 8 1 15 1-59 1 24 1-63 1 58 1-18 1 17 1-15 1-23 1 24 1 6 1-12 1 55 1-56 1-46 1 29 1-25 1-24 1-44 1 22 1-49 1 39 1 24 1-30 1 24 1-26 1 12 1 37 1 43 1-12 1-23 1 16 1-12 1-7 1 27 1 22 1 48 1-121 1 116 1-37 1-40 1 55 1-33 1 25 1 19 1-26 1 40 1-69 1-7 1 46 1-13 1 1 1 35 1-2 1 34"/>
<path vector-effect="non-scaling-stroke" d="M0 803l1 83 1-18 1-29 1 33 1-88 1 79 1-73 1 71 1 99 1-132 1 11 1 0 1 38 1-40 1 57 1-21 1-53 1-4 1 16 1 7 1-41 1 68 1 8 1-54 1 17 1 7 1 2 1-11 1 60 1-92 1 34 1-8 1 52 1-18 1-19 1-67 1-6 1 123 1-73 1 2 1 1 1-36 1-42 1 81 1 31 1-25 1 47 1 32 1-52 1-11 1 4 1-20 1 44 1-80 1 32 1-32 1 40 1-4 1-3 1-32 1-43 1 21 1-61 1 43 1-10 1 44 1 5 1-26 1 41 1-66 1-32 1-34 1-56 1 28 1 41 1 17 1 30 1-1 1 9 1 28 1-31 1-28 1 17 1-11 1 53 1-56 1 30 1-13 1 7 1-41 1 19 1-19 1 28 1-44 1 109 1-41 1 113 1-68 1-9 1 16 1-92 1 127 1-23 1 13 1-23 1-39 1-8 1 5 1 59 1-42 1-9 1 82 1-45 1-6 1-35 1 28 1-23 1-50 1 9 1-43 1-58 1-11 1 71 1-19 1 53 1 13 1 43 1-41 1 0 1 27 1 3 1-35 1-39 1 144 1-78 1 140 1-98 1 11 1-115 1 85 1-72 1 127 1-102 1 79 1-58 1 26 1-31 1 41 1-32 1 4 1 37 1 18 1 4 1-21 1 47"/>
<path vector-effect="non-scaling-stroke" d="M0 859l1-117 1 136 1-77 1-88 1 158 1-90 1 83 1-62 1-14 1-4 1 64 1-12 1-39 1 27 1-40 1 40 1 49 1-120 1 37 1 46 1 40 1-23 1 4 1 1 1 27 1-59 1 54 1 18 1-29 1-63 1 31 1-44 1 114 1 25 1-154 1 57 1-17 1-17 1 21 1-47 1 91 1-8 1-49 1 14 1 28 1-43 1 48 1-20 1 34 1-45 1 8 1 42 1-70 1 57 1-77 1 45 1-17 1 50 1-35 1-3 1 22 1-31 1 5 1-77 1 6 1 57 1-57 1-11 1 52 1-82 1 47 1-3 1 108 1-189 1 2 1-9 1 34 1 86 1-120 1 39 1-1 1 98 1 25 1-75 1-16 1 38 1-5 1-49 1 78 1-53 1-27 1 42 1 12 1-47 1-19 1 81 1 5 1 18 1-57 1 26 1 74 1-2 1-59 1-15 1 37 1-10 1-21 1 4 1-36 1 72 1-11 1 47 1 7 1-74 1-16 1 12 1-70 1-12 1 19 1-59 1 13 1-54 1 88 1 18 1-52 1-41 1 86 1 10 1-13 1 68 1 62 1-105 1 19 1-10 1 50 1 7 1-53 1 64 1-37 1-27 1-17 1 131 1-141 1 105 1-53 1-145 1 151 1-10 1-31 1 48 1 52 1-94 1 35 1 50 1 57"/>
<path vector-effect="non-scaling-stroke" d="M0 834l1 1 1 28 1-27 1 71 1-31 1-65 1 46 1 3 1-39 1-18 1 59 1-8 1-18 1-31 1-1 1 34 1-6 1-19 1 22 1-4 1-43 1 95 1-11 1 10 1-56 1 41 1 32 1-50 1-13 1-20 1 19 1-10 1 3 1-26 1 25 1-52 1 127 1-69 1-63 1 55 1 46 1-48 1-58 1 94 1-71 1 111 1-75 1-4 1-1 1 40 1 37 1-34 1 12 1-31 1-7 1 12 1-32 1-50 1 57 1-21 1-1 1-1 1-25 1-22 1 8 1 40 1-39 1 13 1-38 1-54 1 57 1-7 1-34 1-44 1 18 1 2 1 65 1-28 1 23 1-8 1 7 1 11 1-8 1-5 1-33 1 70 1 3 1-16 1-8 1 17 1-18 1-20 1 13 1-4 1 35 1 2 1 21 1-51 1 77 1 9 1-23 1 78 1-78 1-7 1-5 1 24 1-22 1-27 1 66 1-41 1 40 1-7 1-21 1-36 1-25 1 11 1 32 1-5 1-109 1 60 1-99 1 4 1 87 1-9 1 9 1-29 1 11 1 42 1 25 1 55 1-114 1 31 1 106 1-71 1 4 1 34 1-15 1-37 1 72 1-27 1-78 1 98 1-47 1 166 1-167 1 24 1 6 1 28 1-76 1 5 1 75 1-3 1-59 1 60 1-28"/>
<path vector-effect="non-scaling-stroke" d="M0 853l1 13 1-23 1-18 1 19 1 3 1-21 1 22 1 2 1 41 1-56 1-23 1 14 1-21 1-19 1 51 1-41 1 24 1 23 1-21 1 45 1-29 1-7 1-19 1 30 1 11 1 11 1 19 1-42 1 17 1-4 1 24 1 8 1-24 1-75 1 38 1 42 1-10 1-16 1-6 1 34 1-38 1-23 1 56 1-51 1 12 1 28 1-30 1-6 1-87 1 100 1 39 1-58 1 18 1-9 1 53 1-11 1-12 1-8 1-26 1 2 1 9 1-15 1 24 1-102 1 52 1-13 1-21 1-77 1 115 1-85 1 16 1-50 1 64 1-69 1 54 1 0 1-7 1-24 1 70 1-67 1 71 1-25 1 9 1 3 1 33 1-26 1-32 1 49 1-99 1 90 1-65 1 20 1 11 1 4 1 22 1-23 1 59 1 27 1 7 1-33 1 30 1-23 1-66 1 64 1 48 1-26 1-37 1 14 1 3 1-1 1-18 1-13 1 9 1 6 1-67 1 55 1-59 1 1 1-13 1 7 1-20 1-50 1 24 1-35 1 76 1 25 1-8 1-66 1 82 1 35 1 30 1-65 1 26 1 33 1-34 1-62 1 56 1 38 1 16 1-61 1 85 1-46 1-33 1 42 1-59 1 53 1 28 1-32 1 13 1-13 1 25 1-18 1 22 1-27 1 7"/>
<path vector-effect="non-scaling-stroke" d="M0 844l1 25 1-13 1-40 1 54 1-55 1-39 1 73 1-55 1 58 1-31 1 3 1 4 1-48 1-9 1 45 1 17 1 21 1-68 1 21 1-22 1 68 1 5 1 71 1-54 1 16 1-56 1-16 1 70 1-50 1-28 1 28 1 29 1-66 1 31 1 6 1-16 1-21 1 33 1-27 1-2 1 82 1-75 1 31 1 8 1 3 1-10 1-11 1 27 1-23 1-2 1-68 1 23 1 30 1 20 1-9 1-6 1-21 1 9 1-27 1 60 1-49 1 5 1-12 1 34 1-41 1 29 1-109 1 24 1 38 1-76 1 2 1 71 1-63 1-87 1 135 1-89 1 82 1-5 1-80 1 102 1-42 1 77 1 42 1-104 1 45 1-19 1 21 1-16 1-117 1 49 1 50 1 15 1-29 1 78 1-67 1 59 1-17 1 8 1 12 1 8 1 68 1-89 1 10 1-6 1 19 1-80 1 71 1-5 1-36 1 25 1 32 1 0 1 5 1-14 1-3 1-95 1 47 1-95 1 56 1-67 1 20 1 7 1 44 1-40 1 33 1-75 1 78 1 21 1 27 1-8 1 4 1-2 1 38 1-2 1-20 1 14 1-17 1 34 1 0 1-14 1-17 1-28 1-16 1 109 1-127 1 43 1 32 1 18 1 9 1-32 1-28 1 30 1 22 1-23 1-16"/>
<path vector-effect="non-scaling-stroke" d="M0 859l1 49 1-66 1 5 1-2 1-33 1 105 1-48 1-29 1-29 1 56 1-63 1-26 1 74 1-17 1-23 1 0 1 51 1-43 1-25 1-21 1 79 1 20 1-7 1-45 1 36 1 43 1-26 1-50 1 30 1 8 1 5 1 59 1-90 1 64 1-160 1 122 1 3 1-5 1-60 1-60 1 131 1-49 1 9 1 38 1-31 1-33 1 31 1-21 1-53 1 57 1 11 1 17 1 32 1 35 1-100 1 33 1-46 1 39 1-6 1-3 1 46 1-60 1-36 1 22 1-70 1 46 1-47 1 18 1-35 1 23 1-68 1 136 1-128 1 34 1-18 1 10 1 13 1 23 1-51 1 11 1 86 1-14 1 46 1-104 1 48 1 6 1-10 1 21 1-31 1-11 1 80 1-62 1-1 1 15 1-48 1 76 1 53 1-43 1-2 1-22 1 83 1-68 1 8 1 48 1-109 1 95 1-62 1 40 1-31 1 60 1-84 1 84 1-20 1-58 1-15 1-3 1 8 1-38 1-46 1-6 1-27 1 14 1 45 1 49 1-53 1 55 1-39 1-52 1 65 1 35 1 25 1 17 1-38 1 8 1 79 1-120 1 18 1 36 1 10 1-16 1-1 1-12 1 0 1 54 1-32 1-37 1-2 1 50 1 49 1-65 1-1 1 43 1-45 1 54 1 2"/>
<path vector-effect="non-scaling-stroke" d="M0 852l1 30 1-4 1-26 1 42 1-98 1 64 1-2 1-12 1-7 1 7 1 8 1-22 1 4 1-22 1 13 1 34 1-40 1-17 1-1 1-69 1 50 1 10 1 70 1-11 1-11 1-1 1 23 1-68 1 127 1-7 1-103 1 39 1 6 1-83 1 97 1 33 1 24 1-134 1 113 1-75 1-11 1 23 1-22 1 37 1-124 1 99 1-39 1 108 1-86 1 7 1-10 1-2 1 20 1 6 1-1 1 46 1-40 1 23 1-53 1-29 1 10 1 4 1-14 1 10 1 50 1 19 1-104 1-77 1 113 1-147 1 118 1-44 1-63 1 19 1-36 1 62 1 28 1-5 1-10 1 81 1-65 1 7 1-6 1 37 1-3 1-39 1 75 1-108 1 45 1-20 1 66 1 8 1 2 1-84 1 7 1 72 1-28 1 11 1 42 1 18 1-7 1-30 1 31 1 46 1-79 1 56 1-59 1 52 1-83 1 103 1-110 1 98 1-92 1 66 1-36 1-91 1 45 1 10 1-69 1 15 1-49 1 34 1 50 1-58 1 78 1-74 1 42 1 27 1 56 1-23 1-9 1 16 1 23 1-43 1-23 1 31 1-21 1 22 1 6 1-24 1-11 1-66 1 63 1 24 1-7 1 42 1-3 1 26 1-117 1 18 1 85 1-22 1 34 1-55 1 59"/>
<path vector-effect="non-scaling-stroke" d="M0 869l1-21 1 25 1-102 1 94 1-21 1-4 1-7 1-51 1 87 1 2 1-64 1-11 1 118 1-98 1 15 1 10 1-22 1 42 1-37 1 24 1-77 1 24 1 36 1 0 1 19 1 0 1 41 1-41 1 52 1-25 1-15 1 21 1-43 1 12 1 15 1-30 1-13 1 3 1 14 1 4 1 42 1-79 1 22 1 8 1 5 1 22 1 6 1-15 1-18 1-61 1 86 1 6 1-31 1 22 1 3 1-25 1-29 1 38 1-12 1-42 1 4 1 9 1-40 1 6 1-44 1 60 1-44 1-6 1-12 1-35 1 35 1 48 1-111 1 46 1-38 1 17 1-17 1 66 1-47 1 22 1 18 1 10 1 20 1-52 1 60 1-30 1-15 1 17 1-8 1-29 1 114 1-46 1-14 1-30 1 28 1-38 1 101 1-14 1-12 1 13 1 38 1 22 1-75 1 30 1-10 1 29 1-9 1-47 1 22 1 3 1-7 1-7 1 41 1-38 1-93 1 11 1 73 1-82 1 22 1 18 1-78 1 10 1 28 1-3 1 13 1-42 1 22 1 50 1 5 1-12 1 87 1-31 1-36 1 43 1 33 1-56 1 46 1-23 1-15 1-72 1 55 1 9 1-26 1 43 1-8 1 16 1-64 1 48 1 19 1-30 1 3 1-11 1 0 1-1 1 66"/>
<path vector-effect="non-scaling-stroke" d="M0 819l1 27 1-1 1 17 1-12 1 7 1-56 1 32 1-13 1 64 1-31 1 25 1-66 1-38 1 63 1-72 1 59 1 9 1 9 1 2 1 57 1-48 1-43 1 47 1-1 1-22 1 66 1-102 1 39 1 25 1 26 1-47 1 38 1-45 1 18 1-10 1 5 1-10 1-45 1 50 1-6 1 2 1-25 1 35 1 2 1-79 1 84 1-42 1 14 1-4 1 8 1-15 1 27 1 46 1-66 1 69 1-46 1 17 1-6 1-12 1-23 1-12 1 48 1-68 1-33 1 24 1 72 1-58 1-31 1-18 1-16 1 7 1-15 1-2 1-125 1 109 1-15 1-55 1 92 1-13 1 3 1-37 1 54 1 14 1 27 1-40 1 82 1-74 1-34 1 40 1-56 1 126 1-143 1 53 1-10 1-7 1 75 1-22 1 38 1 19 1 12 1-15 1 21 1-59 1 31 1 45 1-47 1-15 1 23 1-37 1 41 1-21 1-13 1 8 1 33 1-21 1-90 1 50 1-26 1-30 1 1 1-46 1 20 1-46 1 67 1-22 1 42 1 5 1-36 1 38 1 4 1 63 1-14 1-31 1-13 1 36 1 16 1-26 1-14 1 16 1-1 1-31 1 33 1 61 1-69 1 22 1-10 1-39 1 47 1-4 1-4 1 32 1-8 1 28 1 33 1-36"/>
<path vector-effect="non-scaling-stroke" d="M0 835l1 7 1 42 1-51 1 18 1-17 1 42 1-70 1 24 1-2 1 55 1-72 1-32 1 56 1 1 1-13 1-56 1 129 1-37 1-38 1-43 1 37 1 43 1-7 1 8 1-36 1 25 1 47 1-81 1 44 1-22 1 14 1 17 1-18 1-59 1 43 1 67 1-65 1-10 1 48 1-55 1-5 1 61 1-22 1 15 1-70 1 55 1-33 1-23 1 109 1-12 1-72 1 61 1-16 1-43 1-14 1-10 1 55 1-18 1-14 1-15 1 2 1 25 1-32 1-6 1-14 1 1 1-17 1-23 1 38 1-80 1 26 1 11 1-105 1 57 1 31 1-32 1 89 1-91 1 35 1-18 1 42 1-29 1 34 1 10 1 21 1 13 1-41 1 24 1 9 1-30 1-38 1-43 1 18 1-1 1 96 1-59 1 58 1 30 1 25 1-13 1-9 1-5 1-8 1-16 1 13 1-22 1 69 1-50 1-53 1 82 1 33 1-27 1-39 1-23 1 14 1-34 1-11 1 5 1-40 1-3 1-40 1-24 1 78 1-9 1 33 1-52 1 10 1-1 1-6 1 81 1 30 1-63 1 51 1-29 1 18 1 15 1-27 1 23 1-28 1 18 1 26 1-58 1 14 1-16 1 16 1 16 1-21 1-53 1 24 1 42 1 25 1 7 1 38 1-2 1-18"/>
<path vector-effect="non-scaling-stroke" d="M0 855l1-9 1 1 1-16 1 80 1-50 1-1 1 50 1-88 1 34 1-48 1-16 1 76 1-41 1 6 1 7 1-29 1 0 1 8 1 2 1 7 1-15 1 44 1-5 1-23 1 25 1 9 1-30 1 8 1 42 1 14 1-129 1 141 1-68 1 37 1-41 1-22 1 7 1 18 1-32 1 39 1 6 1-29 1 26 1-41 1 15 1-22 1 0 1 62 1-43 1-18 1 39 1-45 1 42 1 16 1-30 1 74 1-79 1 9 1-22 1-32 1 41 1-10 1-28 1 26 1-78 1 50 1-33 1 39 1-50 1 27 1 23 1-39 1-100 1 69 1-22 1-23 1 54 1-8 1 17 1 72 1-56 1-9 1-2 1-24 1 50 1-59 1 39 1 25 1-34 1-4 1 56 1-18 1-26 1 48 1-57 1 44 1-117 1 95 1 53 1 23 1-33 1 41 1-8 1-37 1 35 1-6 1 7 1-93 1 51 1 29 1 10 1 39 1-36 1-31 1-8 1-45 1 28 1-43 1-57 1 69 1-123 1 17 1 67 1 19 1 61 1-71 1-51 1 75 1-28 1 32 1 27 1-42 1 15 1 69 1-12 1-18 1-12 1 13 1 21 1-38 1-17 1 42 1 23 1-46 1 55 1-41 1 33 1-69 1 26 1-3 1 47 1-56 1 42 1 10 1 27"/>
<path vector-effect="non-scaling-stroke" d="M0 832l1-6 1 43 1-12 1 0 1-13 1 13 1-22 1 44 1-32 1-24 1 3 1 38 1-30 1-3 1 23 1-59 1 17 1 18 1-19 1 73 1-44 1 12 1 15 1 6 1 17 1-9 1-32 1-49 1 39 1 6 1 31 1-83 1-9 1 107 1-97 1 71 1-4 1 3 1-32 1 36 1 5 1-25 1-49 1 35 1 0 1-26 1 37 1-17 1 121 1-71 1 8 1-30 1-15 1-9 1 24 1-14 1-10 1-15 1-12 1-16 1-9 1-5 1 33 1-103 1 58 1-2 1 15 1-50 1 56 1-58 1 53 1-78 1 32 1-26 1-75 1 41 1 46 1 27 1-35 1 60 1-23 1 22 1-35 1 35 1-7 1-40 1 15 1 18 1-5 1 25 1-34 1 34 1 10 1 49 1-92 1-12 1 11 1 51 1-12 1 35 1-6 1-13 1 44 1-86 1 11 1-10 1 35 1 90 1-46 1-56 1 55 1-43 1 27 1-84 1 36 1 1 1-4 1-39 1-3 1-14 1 9 1-42 1 16 1 15 1 8 1 5 1-83 1 74 1 14 1 5 1 74 1-73 1 32 1 26 1-8 1-48 1 21 1 7 1 20 1 8 1 83 1-54 1-7 1-49 1 5 1 49 1-73 1 79 1-10 1-25 1 34 1 20 1-118 1 126 1-24"/>
<path vector-effect="non-scaling-stroke" d="M0 862l1-3 1-2 1-8 1 20 1-26 1-14 1 22 1 0 1-32 1-34 1 48 1 10 1-4 1 6 1 29 1-3 1-86 1 49 1-55 1 31 1 21 1 28 1 18 1-27 1 15 1 26 1-88 1 61 1 11 1-82 1 35 1 27 1 22 1-36 1-11 1-18 1 1 1 44 1-20 1 2 1-1 1 13 1 1 1-5 1 54 1-30 1-20 1-27 1 14 1 19 1-13 1 4 1-1 1 4 1-26 1 35 1-24 1 13 1 5 1-24 1-14 1-54 1-55 1 86 1 13 1-27 1-9 1-25 1 16 1 10 1 5 1-55 1-42 1 59 1-51 1 35 1 0 1 52 1-49 1 6 1-1 1-19 1 39 1-69 1 131 1-48 1-14 1-1 1 91 1-114 1 30 1-32 1 13 1 2 1 1 1 29 1 2 1 21 1 35 1 43 1-97 1 70 1-16 1-30 1-42 1-18 1 72 1-12 1-25 1 32 1-9 1 47 1 3 1-57 1-96 1 56 1 43 1-77 1 5 1 2 1-75 1 47 1 83 1-69 1-37 1 44 1 32 1-8 1 23 1-13 1 23 1 0 1-12 1 2 1-40 1 17 1 47 1-52 1-5 1 54 1-23 1-21 1 30 1 9 1 56 1-62 1 39 1 5 1-51 1 11 1 38 1-29 1 33 1 22 1 38"/>
<path vector-effect="non-scaling-stroke" d="M0 729l1 155 1-35 1 19 1 58 1-96 1-4 1 32 1 6 1-45 1 41 1-27 1 59 1-62 1-18 1-5 1 82 1-56 1 49 1-75 1 53 1-41 1-34 1 41 1 33 1-53 1 77 1-28 1 48 1-43 1 20 1-124 1 94 1-8 1-4 1-3 1 14 1 16 1-24 1 46 1-42 1-54 1 34 1-52 1 95 1-26 1-32 1 8 1 79 1-80 1 74 1-44 1-55 1 53 1-98 1 110 1-6 1-9 1-52 1 5 1 58 1-88 1 35 1-1 1 23 1-76 1 57 1 5 1 1 1-71 1 61 1-46 1-39 1 22 1 10 1-38 1-4 1-18 1-15 1 70 1-61 1 90 1-2 1-8 1-30 1 57 1-3 1-64 1 75 1-29 1-26 1-23 1 86 1-50 1 13 1-11 1-4 1 9 1 6 1 17 1-37 1 133 1-37 1-33 1-27 1 61 1-28 1 2 1-22 1-24 1 57 1-33 1 32 1-5 1-25 1 7 1 57 1-135 1 17 1-7 1-90 1 8 1 59 1-59 1 72 1-29 1-9 1 42 1-4 1 30 1 64 1-127 1 83 1-18 1 68 1-49 1-36 1 9 1 4 1-5 1 21 1-21 1 36 1-6 1-44 1 23 1 14 1-8 1-68 1 108 1-21 1 63 1-74 1 54 1-8 1 7"/>
<path vector-effect="non-scaling-stroke" d="M0 852l1 26 1 52 1-127 1 68 1-22 1 0 1 8 1-118 1 165 1-81 1 30 1-18 1-49 1 122 1-71 1-51 1 80 1-94 1 24 1 56 1-45 1 9 1 65 1 14 1-53 1 56 1 14 1-71 1 22 1 8 1 19 1-64 1-62 1 104 1-79 1 136 1-119 1 50 1-45 1 30 1-21 1 46 1-47 1-27 1 83 1-46 1-7 1 6 1 49 1-56 1-39 1 51 1-4 1 64 1-48 1-92 1 61 1 37 1-27 1-11 1-91 1 129 1-57 1-13 1-41 1 45 1-15 1 7 1 7 1-46 1-22 1-19 1 25 1 2 1-32 1-31 1 61 1-55 1 12 1 44 1 83 1-109 1 33 1-41 1 24 1-27 1 57 1-16 1 9 1 6 1-65 1 46 1 40 1 72 1-125 1-26 1 50 1 52 1 53 1-51 1 27 1 20 1 98 1-147 1 11 1 24 1 23 1-97 1 51 1-9 1 10 1-6 1-26 1 64 1-60 1 10 1-65 1 40 1-55 1 33 1-132 1 113 1-81 1 78 1 32 1-7 1-27 1 33 1 34 1 14 1-27 1 27 1 30 1-28 1-22 1-29 1-7 1-44 1 80 1 20 1 29 1-45 1 22 1-55 1 28 1-11 1 41 1-96 1 76 1 16 1-6 1 14 1-3 1 13 1-24"/>
<path vector-effect="non-scaling-stroke" d="M0 831l1 28 1-6 1-14 1 0 1 32 1-71 1 123 1-34 1-86 1 19 1-33 1-3 1 86 1-60 1-6 1 15 1 15 1-4 1 3 1-1 1 13 1 20 1-89 1 143 1-90 1 25 1-26 1 32 1-16 1 39 1-14 1-32 1 30 1-37 1-39 1 19 1-14 1 34 1-6 1 0 1-59 1 34 1 7 1 16 1 1 1-51 1 15 1 123 1-55 1-23 1 38 1 3 1 2 1-22 1-79 1 54 1 35 1-34 1-12 1-42 1 59 1-41 1-10 1-57 1 60 1-35 1-23 1 105 1-76 1-3 1-16 1-26 1-42 1 23 1 39 1 0 1 16 1 14 1-47 1 25 1-22 1 33 1-4 1-8 1 42 1-30 1-28 1 1 1 38 1-71 1 20 1 32 1-15 1 11 1 35 1 22 1-55 1 60 1 14 1-4 1-40 1 88 1-46 1-6 1 59 1-38 1-69 1-4 1 49 1 28 1-35 1 25 1 3 1-17 1-17 1-31 1 7 1 5 1 15 1-95 1-45 1 74 1 1 1 26 1-61 1 10 1 38 1 18 1-22 1 31 1-46 1 40 1-19 1 68 1-58 1-16 1 28 1-77 1 129 1 11 1-42 1-91 1 104 1-76 1 46 1-17 1 1 1 38 1-10 1 27 1-18 1 30 1-18 1 50 1-38"/>
<path vector-effect="non-scaling-stroke" d="M0 909l1 0 1-42 1 71 1-123 1 13 1 33 1 33 1-78 1-17 1 55 1-37 1 53 1-150 1 125 1-31 1 18 1-121 1 193 1-47 1 16 1-110 1 80 1 70 1-29 1 8 1 11 1-93 1 85 1-48 1-11 1-21 1 45 1 39 1-54 1 15 1 17 1-1 1-95 1 44 1 2 1 22 1-25 1 19 1 14 1-33 1 8 1-5 1 35 1-7 1-47 1 101 1-77 1 63 1-20 1-6 1-5 1-156 1 121 1 25 1-3 1-58 1 82 1-106 1-2 1 5 1 73 1-103 1 0 1-2 1-76 1 96 1-59 1-9 1 10 1 29 1-17 1-12 1 60 1 7 1-60 1 118 1-106 1 9 1-41 1 53 1 46 1-36 1 10 1 39 1 9 1-108 1-33 1 72 1-19 1 95 1-45 1-63 1 85 1-10 1-26 1 58 1 54 1-60 1 3 1-29 1 20 1-20 1 26 1 20 1-49 1 8 1 54 1-112 1 80 1-35 1-82 1-3 1 97 1-124 1 36 1-96 1 54 1 21 1 54 1-32 1-9 1 76 1-11 1-9 1 46 1-18 1-82 1 134 1-88 1 11 1 56 1-40 1 42 1 14 1-62 1-5 1 6 1-46 1 50 1 71 1-75 1 27 1-25 1 65 1-34 1 49 1-18 1 27 1-90 1 84"/>
<path vector-effect="non-scaling-stroke" d="M0 873l1-93 1 95 1 14 1-72 1 47 1 44 1-17 1-99 1 11 1 37 1 21 1-17 1-25 1 54 1-54 1 3 1 18 1-7 1 17 1-33 1 36 1-4 1 26 1-22 1-10 1 16 1 38 1-42 1 26 1-41 1 18 1 60 1-109 1 46 1-28 1-1 1 4 1 17 1-33 1 26 1 71 1-44 1-19 1-11 1 79 1-133 1 40 1 10 1 0 1 3 1 29 1-9 1-20 1 19 1-21 1-33 1 64 1-70 1 45 1 18 1-57 1 17 1-24 1-14 1-21 1 18 1 2 1-49 1 77 1-93 1 78 1-114 1 20 1-8 1-5 1-27 1 86 1 7 1 5 1-15 1-40 1 47 1 16 1 8 1-87 1 74 1 44 1-18 1-26 1-42 1 45 1-48 1 73 1-67 1-4 1 52 1 1 1-47 1 25 1 37 1 42 1-53 1-20 1 46 1 0 1 38 1-18 1-54 1 62 1-59 1 14 1 68 1-20 1 13 1-35 1-30 1-48 1-9 1-21 1 15 1 25 1-83 1 36 1 19 1-2 1-16 1 9 1 40 1 74 1-26 1-3 1-10 1 9 1-9 1-11 1-30 1 71 1-11 1-13 1 19 1 2 1 4 1-77 1 88 1 22 1-43 1 16 1-11 1-40 1 2 1 26 1-25 1 47 1 13 1 0"/>
<path vector-effect="non-scaling-stroke" d="M0 919l1-25 1-6 1-70 1 57 1-21 1-2 1-20 1 2 1-8 1-9 1-13 1 36 1 2 1-38 1 11 1 26 1-4 1 34 1-94 1 38 1 73 1-52 1 16 1-23 1 36 1 43 1-25 1 17 1-46 1-77 1 91 1-22 1 72 1-103 1 52 1-23 1 3 1-34 1 20 1-16 1 16 1-11 1 42 1-18 1 30 1-34 1 2 1 17 1-6 1-33 1 16 1-2 1-32 1 96 1-40 1 26 1-111 1 109 1-72 1 16 1 20 1-23 1-28 1-28 1-5 1-46 1 54 1 8 1-119 1 57 1 142 1-138 1 20 1-38 1 15 1 27 1-18 1-19 1 10 1-16 1 36 1 7 1 21 1-27 1 18 1-59 1 43 1 11 1-11 1 2 1 4 1-4 1-7 1-17 1 53 1 61 1-40 1 25 1-8 1-6 1-7 1 44 1 49 1-139 1 35 1-20 1 26 1 27 1-69 1 67 1-26 1 14 1 6 1 29 1-77 1-9 1 22 1-28 1-30 1-25 1-49 1-64 1 92 1 112 1-111 1 13 1 77 1-9 1 8 1 52 1-4 1-63 1-56 1 150 1-61 1-28 1 67 1-28 1-61 1 75 1-15 1 15 1 10 1-15 1-14 1-35 1 55 1-2 1 54 1-94 1 40 1-28 1 37 1-19 1 55"/>
<path vector-effect="non-scaling-stroke" d="M0 802l1 91 1-41 1-11 1 53 1-1 1-92 1-23 1 89 1-46 1 10 1 12 1 15 1-89 1 45 1-14 1-12 1 30 1 26 1-49 1-15 1-85 1 153 1-19 1 11 1 32 1-33 1-30 1 133 1-60 1-18 1-26 1 8 1 44 1-76 1 2 1 13 1 61 1-84 1 27 1-54 1 69 1-28 1-3 1 16 1-69 1 97 1 25 1-66 1-3 1 46 1-59 1 33 1-29 1-5 1 53 1-36 1 4 1 14 1 6 1-77 1 31 1 58 1-68 1-13 1 18 1 2 1-1 1-66 1 13 1-5 1-35 1 3 1 11 1-37 1 15 1-4 1-2 1-8 1 39 1-1 1 78 1-53 1-6 1 7 1 13 1-22 1 33 1-24 1 5 1 32 1 14 1-49 1 12 1-30 1 4 1 50 1-22 1 11 1 48 1-19 1 59 1-55 1 40 1-102 1 39 1 28 1 0 1 55 1-38 1-39 1 67 1-55 1 51 1-15 1-40 1-48 1 1 1-2 1-18 1-5 1-39 1-5 1 48 1 22 1 51 1-63 1 33 1-63 1 33 1 8 1 25 1 0 1-73 1 55 1 67 1-56 1-16 1 14 1 45 1-41 1 18 1-2 1 20 1-21 1 16 1-13 1 9 1 2 1-30 1 13 1 14 1-10 1-4 1 81 1-81"/>
<path vector-effect="non-scaling-stroke" d="M0 823l1 61 1 30 1-107 1 43 1 0 1-11 1-10 1-24 1-13 1 18 1 16 1 0 1 47 1-42 1 9 1-19 1 22 1-49 1-2 1 51 1-9 1 2 1 30 1-17 1-15 1 31 1 10 1-66 1 26 1 36 1-59 1 19 1-10 1 79 1-66 1-6 1-14 1 4 1 9 1-8 1 20 1 7 1-34 1 28 1 9 1-3 1 64 1-102 1 10 1 29 1 30 1-50 1-27 1 50 1 57 1-48 1 59 1-97 1-25 1-21 1 50 1-5 1-35 1-44 1 0 1 46 1-10 1-23 1 13 1-10 1-31 1-44 1 46 1-16 1-20 1-30 1 46 1 34 1-28 1 72 1-47 1-26 1 69 1-46 1 46 1-41 1-15 1 41 1-11 1-4 1-47 1 11 1 13 1-4 1 21 1 9 1 21 1-3 1 95 1-64 1 39 1-54 1 26 1 1 1 13 1-35 1-60 1 79 1-20 1 21 1-21 1 6 1 14 1-31 1 18 1 22 1-112 1 20 1-15 1 23 1-25 1-79 1 73 1-52 1 44 1 36 1 31 1-69 1 63 1 41 1-72 1 17 1 59 1-43 1-3 1 36 1-51 1 74 1-93 1 72 1 3 1-25 1 18 1 5 1-1 1-23 1-13 1 91 1-107 1 42 1 21 1-1 1-23 1 38 1 26"/>
<path vector-effect="non-scaling-stroke" d="M0 827l1 52 1 28 1-87 1 2 1 75 1-59 1-41 1 35 1-19 1 30 1 16 1-47 1 73 1-26 1-57 1 22 1-4 1 4 1 72 1-33 1-31 1 43 1-25 1-26 1 65 1-1 1 3 1-53 1 20 1 0 1 5 1 49 1-70 1 36 1-13 1 20 1-110 1 32 1 25 1-6 1-17 1 52 1-6 1 15 1-53 1 4 1 86 1-55 1 10 1-18 1 30 1-68 1 86 1-60 1-19 1 18 1-39 1 20 1 13 1 3 1-82 1 100 1 16 1-180 1 71 1 0 1-2 1 43 1-24 1-53 1 20 1-48 1 57 1-80 1 21 1-35 1 31 1 23 1 12 1 116 1-106 1 3 1 38 1-1 1-28 1-17 1 32 1-3 1 12 1 27 1-76 1 85 1-93 1-2 1 28 1 36 1 3 1 26 1 20 1 6 1 20 1-76 1 21 1-54 1 86 1-17 1 55 1-90 1 64 1-2 1 24 1-9 1-44 1-42 1 80 1-40 1-3 1-83 1 16 1-30 1 46 1-104 1 69 1 3 1-41 1 73 1-54 1-5 1 48 1 69 1 13 1-43 1-22 1-13 1 32 1 19 1-105 1 84 1-32 1-10 1 94 1-44 1-15 1-69 1 142 1 85 1-71 1-25 1-12 1-42 1 35 1-28 1 4 1 29 1 19"/>
<path vector-effect="non-scaling-stroke" d="M0 894l1-27 1 4 1-41 1 27 1-5 1 16 1 8 1-79 1-11 1 65 1-22 1 22 1-20 1 12 1-17 1 90 1-85 1 10 1-20 1 16 1-39 1 13 1-33 1 60 1 28 1 7 1-37 1 74 1 1 1-65 1 59 1-26 1 26 1-12 1-45 1-63 1 95 1-54 1-10 1-3 1 51 1-5 1-72 1 8 1 18 1 38 1-11 1 10 1-23 1 9 1 111 1-83 1-2 1-40 1-1 1 21 1-68 1 15 1 38 1 32 1-23 1-56 1-40 1 56 1 2 1-26 1-51 1 83 1-76 1 39 1-131 1 54 1 37 1-45 1-16 1-6 1 99 1-75 1 73 1-59 1 35 1 8 1 16 1-13 1 59 1-59 1 27 1-8 1-23 1 32 1-10 1-9 1 32 1-67 1 104 1-55 1-34 1 49 1-8 1 5 1 27 1 48 1-63 1-1 1 50 1-20 1 10 1-98 1 49 1 48 1-38 1 32 1-34 1 57 1-138 1 60 1-48 1 36 1-35 1 14 1-67 1-22 1-28 1 118 1-9 1 17 1-68 1 23 1 41 1 20 1 19 1-59 1 81 1-1 1-38 1-32 1 71 1 56 1-44 1-103 1 59 1 16 1-25 1 41 1-27 1-9 1 38 1-46 1 56 1-45 1 70 1-9 1 8 1 29 1-57"/>
<path vector-effect="non-scaling-stroke" d="M0 867l1 15 1 2 1-10 1-17 1-34 1 18 1-16 1-16 1-38 1 26 1 43 1-3 1-45 1 6 1-3 1 24 1 11 1-66 1 84 1-9 1-6 1-25 1-15 1 55 1 30 1-33 1 43 1 5 1-25 1-25 1-5 1 23 1-39 1 58 1-45 1-28 1 24 1-24 1 43 1-4 1 15 1-16 1 38 1-75 1 39 1-41 1 40 1-26 1 69 1-84 1 47 1 11 1 10 1-23 1-46 1 66 1-10 1-18 1 24 1-101 1 27 1 50 1-51 1-9 1 23 1-33 1-36 1 24 1-5 1-46 1 14 1-22 1 9 1-21 1-30 1-22 1 58 1 10 1 63 1-42 1 33 1-10 1-7 1 7 1 15 1 17 1-50 1-1 1-10 1 17 1-44 1 56 1 24 1-40 1 41 1 28 1-63 1 70 1 0 1 74 1-62 1 23 1-38 1-12 1 23 1-17 1 5 1 8 1 33 1-17 1 13 1-42 1 26 1-101 1 58 1 13 1-60 1-9 1-6 1-32 1-41 1-8 1 34 1 37 1 52 1-80 1 45 1-47 1 76 1-43 1 51 1-50 1 37 1-26 1 90 1-48 1 34 1-32 1 21 1 11 1 21 1-15 1-16 1-27 1 24 1-6 1-17 1 46 1-33 1-31 1 58 1 0 1 6 1 31 1 16"/>
<path vector-effect="non-scaling-stroke" d="M0 875l1-50 1 21 1 16 1 11 1 12 1-62 1 4 1-42 1 70 1 16 1-47 1 105 1-96 1 10 1-6 1 10 1-18 1-22 1 129 1-157 1 107 1-89 1 19 1 61 1-75 1 16 1-25 1-9 1 58 1 27 1 2 1-12 1-74 1 61 1-33 1 7 1 41 1-72 1 60 1 80 1-125 1 75 1-70 1 7 1 11 1-3 1 23 1-54 1 33 1 7 1 22 1 16 1 9 1-63 1-57 1 82 1 8 1-4 1-21 1 16 1-36 1-62 1 105 1-91 1-18 1 15 1 53 1-53 1-13 1-1 1-34 1 12 1-11 1 23 1-62 1-58 1 90 1-12 1 32 1-16 1 67 1 14 1-55 1-5 1 50 1-37 1 39 1 44 1-77 1-20 1 41 1-21 1 22 1-31 1 40 1 35 1-38 1 3 1 65 1-9 1-36 1-23 1-55 1 108 1-13 1-51 1 25 1 33 1-21 1-16 1 43 1 16 1-53 1 69 1-77 1-61 1 27 1 4 1 4 1-5 1-124 1-19 1 33 1 22 1 22 1-7 1 71 1-25 1 29 1 10 1 21 1-12 1-10 1-20 1 3 1 19 1 34 1-29 1-23 1-35 1 44 1 75 1-29 1-3 1 10 1-57 1 32 1 31 1-78 1 84 1 28 1-62 1-3 1 43 1 13"/>
<path vector-effect="non-scaling-stroke" d="M0 776l1 60 1 18 1-25 1 32 1-4 1-33 1 1 1-68 1 59 1 29 1 41 1-82 1 18 1 29 1-48 1 14 1 8 1 25 1-75 1 1 1 63 1-1 1-34 1 67 1 28 1-36 1-9 1 1 1-18 1 24 1-27 1-2 1-18 1 62 1-50 1 0 1 16 1-39 1 18 1-37 1 45 1 35 1-63 1 20 1 32 1-39 1-13 1 2 1 15 1-13 1 38 1 4 1 11 1-43 1 37 1-63 1 59 1-23 1 13 1 38 1-6 1-24 1-18 1-58 1 63 1-54 1 17 1-26 1-34 1-29 1-20 1 76 1-44 1-41 1 69 1-85 1 89 1-32 1 40 1-70 1 52 1 22 1-35 1 17 1 63 1-87 1 64 1-62 1-21 1 91 1-87 1 66 1-50 1 23 1 31 1 10 1 37 1-147 1 153 1 68 1-106 1 53 1-8 1-67 1 30 1-12 1 23 1 29 1 3 1-48 1-2 1 51 1-38 1-59 1 40 1-36 1-41 1 23 1-13 1-69 1 21 1 10 1-19 1 156 1-81 1 11 1 11 1-49 1 73 1 14 1-21 1-23 1 24 1-54 1 72 1-30 1 11 1 25 1-60 1 63 1-76 1 44 1 31 1-28 1 8 1-43 1 77 1-41 1-22 1 7 1 42 1 11 1 14 1 7 1 22"/>
<path vector-effect="non-scaling-stroke" d="M0 860l1 71 1-166 1 71 1-52 1 37 1-63 1 91 1-14 1 52 1-48 1-15 1-2 1 2 1 15 1-13 1 23 1 1 1-40 1 16 1-42 1 76 1-28 1 47 1-11 1-13 1 18 1-70 1 20 1 6 1-4 1 17 1-2 1 7 1-7 1 0 1-93 1 38 1 53 1-83 1 58 1 43 1 7 1-7 1-1 1 118 1-145 1 39 1-47 1 27 1-34 1 7 1-50 1 107 1 12 1-70 1 21 1-8 1 10 1 65 1-270 1 180 1-107 1 112 1-71 1 28 1 5 1 39 1-26 1-47 1 13 1-38 1 10 1 2 1-79 1 63 1 8 1-15 1 37 1-18 1-59 1 80 1 27 1-32 1-19 1 29 1 45 1-95 1 61 1-45 1 37 1-36 1 45 1-16 1-6 1-36 1 51 1-9 1 99 1-45 1 5 1-11 1-30 1-7 1 76 1 20 1-44 1-20 1-18 1-3 1-41 1 35 1 8 1-2 1 52 1-46 1-26 1 3 1-50 1-43 1 34 1-22 1-22 1 15 1 63 1-62 1 38 1 69 1-143 1 89 1 34 1 39 1-48 1 3 1 67 1-139 1 105 1-25 1-36 1 43 1 24 1-35 1 17 1-50 1 57 1 2 1 36 1-37 1-73 1 86 1 2 1-9 1 30 1 21 1-165 1 198"/>
<path vector-effect="non-scaling-stroke" d="M0 865l1-47 1 31 1-9 1-9 1-47 1 48 1-16 1 69 1-79 1 41 1-19 1 40 1-68 1-15 1 51 1-52 1 15 1 24 1 20 1 47 1-24 1 8 1-63 1 78 1-22 1-50 1 47 1-6 1-58 1 65 1 8 1 36 1-41 1-26 1-1 1 61 1-159 1 125 1-6 1-18 1 13 1 17 1-72 1 27 1-1 1-17 1 22 1 22 1-39 1 2 1 15 1-15 1-4 1 10 1 51 1-29 1 2 1-61 1 47 1-13 1 19 1-4 1-23 1 31 1-71 1 22 1 28 1-73 1-63 1 23 1 53 1-21 1 5 1-60 1-24 1 49 1-16 1 88 1 1 1-68 1 38 1 22 1-44 1-11 1 15 1-38 1-33 1 108 1 7 1-65 1 52 1-8 1-48 1 20 1 38 1-8 1-5 1-16 1 36 1 33 1-7 1 16 1-30 1 5 1-4 1 25 1 0 1-58 1 36 1-15 1-27 1 81 1-7 1-66 1 31 1-44 1-49 1-13 1 14 1 23 1-36 1-22 1-76 1 97 1 22 1 33 1 30 1-78 1 51 1 18 1-5 1 53 1-29 1-5 1 58 1-51 1-11 1-52 1 54 1-43 1 44 1 49 1-59 1 80 1-75 1 15 1-31 1 40 1-1 1-9 1 25 1 63 1-37 1-36 1 39"/>
<path vector-effect="non-scaling-stroke" d="M0 899l1-29 1-2 1-21 1 19 1-40 1 43 1-41 1-23 1 1 1 9 1 51 1-41 1-40 1 79 1-21 1-17 1-25 1 23 1-10 1 49 1 25 1-63 1-46 1-1 1 138 1-52 1-12 1 5 1-55 1 72 1-85 1 68 1-21 1 24 1 18 1-64 1 69 1-86 1 23 1 40 1-64 1 35 1-9 1 3 1 39 1-73 1 78 1-85 1 64 1-18 1 3 1-10 1-25 1 34 1 40 1-35 1-11 1-10 1 17 1 28 1-37 1-68 1 74 1-43 1-20 1-27 1-15 1 34 1 20 1-28 1-64 1 9 1 19 1-13 1 9 1-18 1 29 1 55 1-4 1-30 1-14 1 11 1-77 1 55 1 110 1-77 1 0 1 8 1-52 1 83 1-118 1 48 1 65 1-56 1 39 1-16 1-8 1 17 1 42 1 27 1-34 1 8 1 30 1-53 1 26 1-14 1 9 1-14 1-26 1 43 1 20 1-11 1 21 1-49 1 1 1-50 1 12 1 33 1-61 1-46 1 6 1-18 1 14 1-35 1 104 1-51 1 42 1-19 1 30 1 26 1 39 1-7 1-78 1-14 1 59 1-7 1 61 1-69 1 23 1-5 1-16 1 33 1-94 1 66 1 43 1-48 1 38 1-13 1 42 1-24 1-24 1 29 1-45 1 69 1-30"/>
<path vector-effect="non-scaling-stroke" d="M0 822l1 48 1-49 1 48 1-31 1-7 1-17 1 63 1-56 1 37 1-33 1-17 1 25 1-9 1-14 1 30 1-29 1 68 1-55 1 38 1-34 1 1 1 12 1 21 1-17 1-21 1 18 1-20 1 15 1 27 1-50 1 75 1-54 1 9 1-4 1 9 1 11 1 63 1-90 1 13 1-20 1 1 1-44 1 77 1-31 1 17 1-2 1-8 1 5 1-20 1 47 1-48 1 87 1-97 1 69 1 32 1-48 1-47 1 9 1-38 1 23 1-31 1-6 1 53 1-62 1 14 1-32 1 38 1-53 1-73 1 77 1 3 1 29 1-60 1 13 1-15 1-8 1 60 1-30 1 15 1 17 1-23 1 42 1-16 1-13 1 47 1-93 1 44 1-18 1-6 1-16 1 4 1 70 1 5 1-5 1-22 1-90 1 109 1 7 1 41 1 11 1-68 1 25 1 32 1-36 1 62 1-32 1-23 1 0 1 21 1 26 1-59 1 39 1-27 1 1 1-54 1-2 1 15 1-31 1-8 1-39 1-17 1 22 1-16 1 29 1 22 1-55 1 171 1-101 1 3 1 27 1 18 1 46 1-64 1-24 1 58 1 6 1-20 1-13 1-9 1 0 1 83 1-41 1 22 1-39 1-13 1 9 1-46 1 62 1 15 1-18 1 6 1-43 1 31 1 61 1-30"/>
<path vector-effect="non-scaling-stroke" d="M0 845l1 30 1-47 1 22 1 14 1-6 1-54 1 67 1-54 1 49 1-109 1 73 1 22 1-27 1 27 1 20 1 15 1-75 1 5 1 19 1-53 1 28 1-15 1 41 1 24 1-7 1-25 1 28 1-23 1 25 1-8 1 10 1-13 1 37 1-29 1-2 1 20 1-3 1-22 1-7 1-34 1 38 1-45 1 24 1-20 1 57 1-28 1 16 1-24 1 3 1 19 1-42 1 24 1-35 1 48 1-6 1-20 1 24 1 81 1-136 1 21 1-3 1-20 1-17 1 15 1 36 1 1 1-82 1 18 1 20 1-32 1 25 1-1 1-85 1-67 1 134 1-59 1-4 1 63 1 23 1-32 1 62 1-24 1 1 1 71 1-47 1-32 1 33 1-17 1 59 1-145 1 55 1-32 1 44 1-42 1-16 1 65 1 87 1-76 1 46 1-40 1 59 1-2 1-65 1-11 1 143 1-145 1 23 1-24 1 19 1 3 1 27 1 21 1-30 1-32 1 19 1-17 1-74 1 62 1-14 1-32 1-101 1 75 1 13 1 18 1-22 1 11 1 28 1-108 1 140 1 22 1 26 1-32 1 1 1-42 1 16 1-14 1-26 1 19 1 11 1-8 1 9 1 45 1-35 1-32 1 39 1 23 1-15 1 61 1-58 1-1 1-21 1 14 1 83 1-12 1-11"/>
<path vector-effect="non-scaling-stroke" d="M0 813l1 32 1-14 1 10 1 0 1 37 1-43 1 42 1-5 1-24 1-8 1-38 1 72 1-26 1-21 1-8 1 44 1-12 1-77 1 59 1-22 1 2 1-78 1 53 1 68 1-9 1-53 1 61 1-15 1-8 1-22 1 10 1 26 1-43 1 6 1 94 1-96 1 7 1-20 1 55 1-32 1-10 1 9 1-46 1 31 1 133 1-138 1 16 1 80 1-32 1-22 1 54 1-45 1 24 1-25 1-4 1-46 1 1 1 45 1-28 1-8 1 58 1-107 1 59 1-10 1-7 1-35 1-15 1 24 1-98 1 98 1-62 1 127 1-99 1-10 1-22 1 15 1-14 1 22 1-23 1 39 1 11 1-46 1 59 1-35 1-4 1 41 1 24 1-88 1 78 1-66 1 22 1 16 1-60 1 81 1-85 1 93 1 1 1-19 1 88 1-50 1-8 1 47 1-58 1-8 1 67 1-12 1-37 1 19 1 33 1-10 1 6 1-93 1 155 1-63 1-97 1 20 1-33 1-49 1 42 1-13 1-38 1-8 1 13 1-11 1 31 1-8 1 15 1 71 1-27 1 23 1 43 1-48 1-30 1 53 1-16 1-42 1 151 1-13 1-130 1 62 1-38 1 7 1-33 1 83 1-41 1 52 1-39 1-23 1 8 1 73 1-8 1-30 1-12 1 34 1-72"/>
<path vector-effect="non-scaling-stroke" d="M0 842l1 6 1 33 1-71 1-3 1 31 1 38 1-78 1 37 1 0 1-3 1 1 1 19 1-48 1 11 1 70 1-79 1-10 1 5 1-4 1 57 1-51 1 31 1 39 1-29 1-31 1 53 1-6 1-5 1 2 1-16 1 26 1-49 1 62 1-58 1 76 1-64 1-32 1 20 1-4 1 91 1-72 1-10 1-12 1 69 1-42 1 17 1-27 1 16 1-40 1 11 1-11 1 41 1-11 1-10 1 78 1-58 1 1 1 0 1-27 1 14 1-37 1 40 1 20 1-8 1-44 1-10 1-27 1-51 1 43 1-14 1 32 1-76 1 0 1 17 1-12 1-59 1 56 1 36 1 29 1-60 1 59 1 34 1-57 1 13 1 85 1-103 1 1 1 27 1-41 1 37 1-9 1-59 1 58 1 17 1-36 1 91 1-43 1 29 1-75 1 57 1 4 1-28 1 10 1-23 1 70 1-10 1-7 1 78 1-74 1-37 1 72 1-35 1 12 1-5 1-82 1 36 1 16 1-46 1-21 1 0 1-96 1 91 1 9 1-8 1-53 1 52 1-34 1 56 1 26 1 9 1-1 1 5 1-28 1 5 1 11 1-75 1 77 1-10 1 35 1 16 1-67 1-53 1 103 1-1 1-39 1 28 1-24 1 21 1 9 1 8 1-15 1-19 1 26 1 14 1 25"/>
<path vector-effect="non-scaling-stroke" d="M0 888l1-53 1-1 1 30 1-1 1-5 1-64 1 99 1-19 1-71 1 0 1 19 1-34 1 34 1-9 1-79 1 103 1 6 1-5 1-23 1 28 1-26 1 18 1-18 1 56 1-31 1 30 1-31 1 27 1-14 1-30 1 15 1-20 1 49 1-12 1 0 1-7 1-17 1-6 1 17 1-15 1 6 1-29 1-15 1 34 1 38 1-34 1 43 1-63 1 54 1-51 1 33 1-3 1-13 1 4 1 7 1 51 1-64 1-11 1 37 1-38 1 5 1-5 1-27 1 33 1-34 1 10 1-10 1-99 1 30 1 22 1 151 1-131 1-66 1-50 1 72 1 8 1-1 1 13 1 11 1-3 1 29 1-26 1-10 1-16 1 44 1-15 1 27 1-57 1 30 1 3 1 70 1-63 1-40 1 57 1-9 1 5 1-17 1 21 1 2 1 54 1-13 1 26 1-45 1-2 1 43 1-70 1 19 1-2 1-69 1 103 1-31 1 66 1-95 1 31 1-15 1-18 1-18 1-15 1-9 1-18 1-33 1 30 1 4 1-23 1 33 1 8 1 2 1 29 1-44 1 49 1 45 1-9 1-52 1 57 1-25 1-22 1 0 1 54 1-17 1-27 1 12 1-7 1 7 1 29 1-40 1 16 1 33 1-13 1-22 1 4 1 2 1-3 1 56 1-3 1 8"/>
<path vector-effect="non-scaling-stroke" d="M0 879l1-14 1-10 1 10 1-4 1-48 1-49 1 96 1-2 1-31 1 12 1-78 1 150 1-93 1 13 1-17 1 29 1-16 1 52 1 49 1-71 1-4 1 64 1-58 1-68 1 67 1-65 1 76 1-39 1-13 1 132 1-51 1-37 1 10 1-46 1 69 1-86 1-46 1 102 1-22 1 1 1-37 1 12 1-16 1-80 1 28 1 79 1-14 1 1 1 39 1 21 1-52 1 49 1 23 1-133 1 119 1-38 1-17 1 0 1 26 1-13 1-10 1 33 1-82 1 19 1-23 1 30 1-7 1-13 1 5 1-35 1-34 1-51 1 19 1 8 1-33 1 40 1-33 1 28 1 4 1 38 1-28 1-35 1 61 1 19 1-29 1 46 1-38 1-28 1 82 1 43 1-77 1 39 1 33 1-94 1 6 1 48 1-29 1 64 1-34 1-16 1-29 1 162 1-98 1-29 1 56 1-33 1 21 1-39 1 35 1 10 1-9 1 130 1-147 1 7 1 77 1-100 1-24 1-7 1-37 1 10 1-56 1-16 1 6 1 50 1 6 1-72 1 100 1-8 1 51 1-33 1-5 1-55 1 78 1-29 1 35 1-18 1 13 1 11 1-33 1 19 1 55 1-25 1-98 1 60 1-76 1 111 1-1 1-38 1 50 1-43 1 24 1-67 1 118 1 24 1-28"/>
<path vector-effect="non-scaling-stroke" d="M0 860l1-103 1 139 1-10 1-31 1-18 1 63 1-107 1 42 1-56 1 45 1-18 1 39 1-19 1-54 1 131 1-18 1-66 1 95 1-125 1 36 1-3 1 49 1-3 1 31 1-11 1-22 1-40 1 23 1 32 1-17 1 53 1-103 1 34 1 14 1-55 1-18 1-4 1-69 1 106 1 4 1-12 1 37 1-4 1-12 1 10 1-28 1-66 1 98 1 18 1-13 1-33 1 1 1-26 1 65 1 15 1-6 1-18 1-5 1-11 1-14 1 10 1-59 1 10 1-25 1 60 1-12 1 12 1-42 1 36 1-31 1-73 1 58 1-42 1-22 1-39 1 99 1-103 1 90 1 29 1 10 1-32 1 32 1-64 1 96 1-33 1-26 1 27 1-17 1-50 1 53 1-7 1-66 1 39 1-7 1 0 1 59 1-56 1 95 1 36 1-62 1-2 1 0 1-3 1 16 1-52 1 133 1-110 1 33 1-9 1-10 1-41 1 4 1 65 1 7 1-23 1-61 1-3 1-35 1-16 1-64 1 50 1-25 1 33 1 24 1 13 1-33 1-37 1 63 1 16 1-13 1 4 1 8 1 35 1-53 1 27 1 36 1-21 1-28 1 8 1 41 1-18 1 19 1 15 1-22 1-31 1 42 1-1 1-18 1 12 1-34 1 28 1 21 1 47 1 1 1-11"/>
<path vector-effect="non-scaling-stroke" d="M0 882l1-73 1 45 1-91 1 152 1-76 1-5 1 31 1-59 1 1 1 48 1 6 1-7 1-94 1 131 1-111 1 49 1 5 1-32 1 47 1-7 1-23 1 17 1 75 1-48 1 42 1-52 1 16 1 55 1-41 1-30 1-6 1-13 1 8 1 10 1-38 1 49 1-15 1-38 1 22 1-45 1 20 1 33 1 21 1 4 1 2 1-33 1-31 1 9 1-12 1 44 1-16 1 16 1 34 1-58 1 14 1 33 1 43 1-69 1-50 1 61 1-60 1-36 1-9 1 122 1-42 1-68 1-84 1 64 1-7 1 15 1-3 1 17 1-72 1-3 1-6 1-6 1 25 1 51 1-36 1 10 1-30 1 57 1-1 1-35 1 59 1-3 1-40 1-42 1 61 1 6 1 93 1-126 1 13 1 33 1 4 1 12 1-41 1 5 1 69 1-93 1 112 1-61 1 29 1-7 1-60 1 31 1 152 1-259 1 177 1 22 1-48 1 10 1 24 1-63 1-16 1 21 1-14 1-71 1 1 1 41 1-70 1 15 1-128 1 193 1-50 1 28 1-78 1 116 1-19 1 0 1 33 1-7 1-4 1-41 1 27 1 65 1-34 1-34 1-24 1 37 1 4 1-6 1 27 1 5 1 9 1-60 1 23 1 9 1 37 1-28 1-2 1-10 1 24 1 32 1 2"/>
<path vector-effect="non-scaling-stroke" d="M0 849l1 8 1 54 1-68 1 0 1-12 1 16 1-29 1-31 1 49 1 1 1-30 1-3 1 17 1-32 1 37 1 38 1-19 1 74 1-81 1-82 1 66 1-8 1-40 1 88 1-25 1 69 1 8 1-62 1 42 1-44 1 10 1 31 1-77 1-7 1 33 1 71 1-122 1 95 1-27 1-38 1 93 1-87 1 23 1 42 1 28 1-78 1 3 1-28 1-12 1 75 1-16 1-32 1 29 1-28 1-1 1-24 1-3 1 26 1 13 1 37 1-56 1-34 1 47 1 3 1-39 1-83 1 38 1-59 1-32 1 54 1 23 1-38 1 19 1-6 1-40 1 35 1-18 1 58 1-5 1 9 1-24 1 44 1-30 1 40 1-19 1-43 1 43 1-87 1 228 1-151 1-7 1-30 1 58 1-20 1 7 1-48 1 64 1-9 1 47 1 38 1-97 1 31 1 7 1 29 1-9 1 23 1-29 1 20 1-45 1-9 1-1 1 50 1 29 1-68 1 45 1-88 1-54 1 106 1-104 1-61 1 96 1-38 1 38 1-13 1 39 1-53 1 48 1 40 1-30 1-37 1-4 1-54 1 93 1 73 1-78 1-12 1 43 1 9 1-6 1-9 1 4 1-36 1 24 1 30 1 21 1 1 1-17 1-52 1-21 1 45 1 55 1 7 1-25 1-20 1 7"/>
<path vector-effect="non-scaling-stroke" d="M0 885l1 19 1-76 1 76 1-108 1 51 1 7 1-4 1-7 1-7 1-10 1-13 1 72 1-52 1 9 1 30 1-65 1 14 1-37 1 80 1-20 1-4 1-13 1 30 1-38 1 57 1-18 1 4 1-2 1 11 1 3 1-51 1 20 1 31 1-37 1-4 1 23 1-37 1-9 1 55 1-36 1-5 1 4 1 6 1-10 1 10 1 47 1-43 1 43 1-62 1-1 1 63 1-69 1 27 1-96 1 88 1-13 1-1 1 26 1 0 1-38 1 39 1-51 1-5 1 25 1-79 1 50 1-35 1-9 1 4 1-17 1-12 1 2 1-32 1 21 1 24 1-79 1 85 1-40 1 2 1 38 1 17 1 17 1-29 1 28 1 23 1 24 1-48 1-26 1-2 1-9 1 64 1-16 1-43 1 23 1-45 1 12 1 49 1 46 1-16 1-12 1 66 1-10 1-75 1 15 1 27 1-13 1-34 1 38 1 20 1-63 1 27 1 19 1 4 1 5 1-16 1-44 1-20 1-10 1 25 1-57 1 24 1-45 1 17 1 4 1-63 1 73 1-1 1 34 1-48 1 34 1 50 1-35 1-14 1 27 1 44 1-34 1 27 1-6 1 61 1-54 1-66 1 62 1 1 1 6 1-18 1-18 1 18 1-2 1-40 1 76 1-17 1 14 1-8 1 33 1 7"/>
<path vector-effect="non-scaling-stroke" d="M0 816l1 86 1-39 1 57 1-119 1 22 1 21 1-46 1 14 1-6 1 19 1 22 1-80 1 8 1 64 1-29 1-1 1 53 1-56 1 32 1-14 1-2 1 52 1-26 1-36 1 26 1 10 1 9 1 5 1-9 1-42 1 26 1 53 1-37 1 12 1-61 1 37 1 14 1-161 1 108 1 13 1 33 1 82 1-120 1 63 1-51 1 34 1-68 1 71 1-14 1-18 1 39 1 8 1-73 1 60 1-4 1-46 1 24 1-10 1 0 1-14 1-28 1-36 1 1 1 46 1-8 1-27 1 28 1-63 1 30 1-33 1-23 1 44 1-21 1 130 1-121 1-42 1 47 1-31 1 31 1 16 1 5 1 2 1-17 1-38 1 71 1-22 1-3 1 27 1-29 1 18 1-6 1-55 1 51 1 31 1 15 1-31 1-36 1 73 1-53 1 13 1 65 1-57 1 84 1-47 1-52 1 45 1 1 1-1 1 2 1-15 1 42 1 74 1-115 1 28 1 39 1-123 1-39 1 121 1-105 1-22 1 23 1-70 1 2 1-24 1 20 1 99 1 38 1-74 1 19 1-21 1 7 1 66 1-16 1 26 1-2 1-1 1 6 1 12 1 6 1-23 1 11 1 5 1 25 1-7 1-53 1 28 1-46 1 100 1-55 1 18 1-9 1 3 1-13 1-40 1 103"/>
<path vector-effect="non-scaling-stroke" d="M0 871l1-2 1-20 1 53 1-75 1 13 1 43 1-59 1-3 1 21 1 11 1-30 1 33 1-50 1 30 1 27 1 0 1-1 1-13 1-1 1 27 1-100 1 72 1 15 1-55 1 77 1-16 1-27 1 14 1 13 1-66 1 20 1 23 1 31 1-9 1-43 1 13 1 32 1-75 1 57 1-11 1-17 1 107 1-69 1-51 1 8 1-13 1 23 1 64 1-54 1-27 1 15 1-12 1 28 1-14 1 23 1-16 1 17 1-74 1 43 1-1 1 14 1-5 1-53 1 64 1-36 1-16 1-28 1 38 1-70 1-31 1 70 1-73 1 15 1-75 1 25 1 29 1 29 1 45 1-74 1 43 1-18 1-14 1 80 1 1 1 46 1-8 1-31 1-31 1-46 1 19 1 39 1-11 1-39 1-47 1 106 1-36 1 49 1 24 1 8 1-41 1 55 1-47 1 29 1-41 1 51 1-18 1-3 1 9 1-25 1-1 1-18 1 48 1 29 1-50 1 22 1-75 1-4 1 19 1-9 1-56 1-92 1 21 1 66 1-24 1 46 1 29 1-45 1-1 1 93 1-5 1-26 1 8 1-13 1 64 1-13 1 33 1-86 1 26 1 25 1-26 1 24 1-5 1 42 1-62 1-16 1 24 1-11 1 5 1-9 1-7 1 6 1 23 1 6 1 58 1-23"/>
<path vector-effect="non-scaling-stroke" d="M0 836l1 50 1 4 1 29 1-68 1-2 1-11 1 38 1-72 1 11 1 34 1-16 1-13 1 1 1 14 1 0 1-20 1-43 1 27 1 6 1 5 1 16 1 39 1-5 1 11 1 5 1-23 1-34 1 48 1-33 1 14 1-16 1 42 1-28 1-13 1-16 1 0 1 21 1-30 1-28 1 71 1-45 1 56 1 2 1-21 1 36 1-50 1-32 1 50 1 14 1 3 1-20 1-177 1 148 1 58 1-10 1 7 1-28 1-7 1 7 1-1 1-12 1-17 1-1 1-57 1 66 1-26 1-25 1 11 1-11 1-14 1-12 1-59 1 23 1 42 1-75 1 49 1-1 1-11 1-27 1 68 1-39 1 98 1-142 1 91 1 9 1-42 1 54 1-11 1-66 1 53 1 58 1-70 1 22 1-23 1 1 1 27 1-23 1 22 1 26 1 4 1 52 1-32 1 16 1-45 1 31 1-14 1 27 1-34 1 22 1 49 1-50 1-11 1-4 1-9 1-10 1-5 1-28 1-12 1-35 1-10 1-17 1-23 1 26 1-34 1 77 1-22 1 72 1-49 1 35 1-24 1 42 1 9 1-38 1-33 1 66 1 21 1 9 1-53 1-13 1 57 1-38 1 28 1-15 1-7 1 58 1-7 1 6 1-40 1-19 1-26 1 58 1 3 1-7 1 7 1 35"/>
<path vector-effect="non-scaling-stroke" d="M0 863l1 30 1-57 1 12 1-10 1 17 1-69 1 39 1-63 1 63 1 13 1-24 1 32 1-46 1 30 1-5 1-28 1-6 1 10 1 20 1-14 1 21 1 13 1 39 1-8 1 5 1-96 1 89 1 2 1-43 1 36 1-55 1 20 1-16 1 35 1 20 1-45 1-30 1 21 1 14 1-33 1 48 1-13 1 33 1-95 1 52 1 44 1-44 1 22 1-38 1 30 1 46 1-69 1 90 1-120 1 103 1-38 1-26 1 10 1-19 1 3 1 0 1-13 1 32 1-41 1-32 1 23 1 10 1-13 1-16 1-53 1 31 1-14 1-44 1 44 1-44 1-17 1-22 1 44 1 71 1-17 1-44 1-16 1 6 1 37 1 24 1 16 1-45 1 14 1 7 1 15 1-38 1-24 1 16 1-43 1 107 1-6 1-49 1 47 1 39 1-72 1 98 1-19 1 17 1-29 1 20 1-47 1 80 1-30 1-10 1 2 1-44 1 32 1 6 1 3 1-9 1-59 1 29 1-65 1 8 1 3 1-102 1 30 1 27 1 7 1 2 1 34 1-13 1 48 1 13 1 3 1-19 1 13 1 52 1-5 1-39 1-37 1 13 1 116 1-86 1-54 1 50 1 8 1-42 1 95 1-61 1 18 1 26 1-59 1 9 1-62 1 99 1 10 1-4 1 54 1-33"/>
<path vector-effect="non-scaling-stroke" d="M0 854l1-31 1 74 1-44 1 2 1-4 1-31 1-4 1 42 1-76 1 54 1 18 1-11 1-43 1 50 1-82 1 57 1 9 1-30 1 29 1 24 1-1 1 7 1-59 1 58 1 12 1 39 1-60 1 16 1-24 1 26 1 2 1-68 1 109 1-68 1-17 1-12 1 32 1 19 1-31 1 2 1 66 1-57 1 11 1-26 1-25 1 50 1-48 1 64 1-48 1 19 1-14 1 6 1-20 1 20 1 17 1-31 1-21 1 29 1 37 1-63 1 17 1-33 1-5 1 14 1-44 1 48 1-34 1-25 1-3 1 6 1 11 1 2 1-60 1-40 1 79 1-34 1 3 1 26 1 48 1-19 1-33 1-21 1 62 1-26 1 41 1-30 1-33 1 11 1-23 1 95 1-39 1 44 1-125 1 80 1-25 1 46 1-83 1 89 1-1 1 60 1-135 1 125 1-54 1 65 1-2 1-20 1-33 1-55 1 14 1 50 1 20 1-46 1 44 1 28 1-46 1-49 1-80 1 62 1-100 1 53 1-40 1 16 1 38 1 26 1-41 1 7 1 15 1 74 1-25 1-2 1-44 1 50 1-7 1 29 1-17 1 82 1-63 1-17 1 41 1-68 1 7 1 93 1-50 1 14 1-72 1 45 1 1 1-15 1 0 1 12 1 12 1 31 1-23 1 34 1-83"/>
<path vector-effect="non-scaling-stroke" d="M0 838l1 12 1 98 1-87 1-5 1-25 1-3 1 53 1-13 1-35 1 50 1-64 1 56 1-35 1-12 1-13 1-13 1 19 1 33 1 3 1-58 1 7 1-5 1 38 1-7 1 64 1-37 1-25 1 25 1 15 1-46 1 48 1-28 1-47 1 57 1-24 1-26 1-21 1 81 1-74 1 57 1-29 1 41 1-47 1 43 1-1 1 10 1-10 1 5 1-68 1 7 1-8 1 28 1 13 1-31 1 57 1-5 1-19 1-1 1-12 1-1 1 5 1-37 1-43 1 75 1-34 1-14 1-2 1-6 1 21 1-37 1-50 1-9 1 25 1 0 1-41 1 65 1-22 1 9 1 26 1-60 1 17 1 5 1 54 1-24 1 38 1-56 1 55 1 25 1-6 1-10 1 37 1-82 1-31 1 46 1 21 1 2 1-30 1 44 1-16 1 13 1 28 1 16 1 5 1-88 1 61 1-44 1 22 1 5 1-10 1-56 1 72 1-5 1 28 1-11 1-49 1-37 1 0 1-27 1 10 1 19 1-58 1 1 1 12 1 40 1-26 1-30 1 52 1-6 1 52 1-38 1 24 1 10 1-24 1 13 1 16 1-22 1 62 1-2 1-11 1-24 1 22 1-29 1-6 1 25 1 0 1-54 1 43 1 35 1-38 1-27 1 53 1-6 1 57 1 0 1-28"/>
<path vector-effect="non-scaling-stroke" d="M0 907l1-77 1 22 1-35 1 64 1-35 1-22 1 40 1-11 1-30 1 2 1-39 1 86 1-64 1-5 1 26 1 7 1 67 1-67 1-16 1-16 1 28 1 21 1 21 1-85 1 13 1 70 1-10 1-74 1 58 1-77 1 83 1-10 1-8 1 39 1-72 1 39 1-31 1 27 1-18 1 15 1 6 1 56 1-75 1 6 1-18 1 15 1-23 1 40 1-34 1 16 1-19 1-17 1 106 1-13 1-26 1 5 1-44 1 16 1 21 1-24 1-35 1 10 1 8 1-28 1-22 1 12 1-8 1-12 1 3 1 2 1-35 1 1 1-1 1-41 1 68 1-34 1-26 1 42 1-18 1 57 1-51 1 8 1 12 1-6 1 74 1-61 1 30 1-52 1 16 1 7 1 15 1 2 1-9 1-71 1 56 1 55 1 20 1-2 1-14 1 66 1-33 1-58 1 72 1-66 1-37 1 70 1-14 1 38 1-20 1-43 1 61 1-18 1 33 1-36 1-42 1-49 1-12 1 7 1 25 1-16 1-77 1 41 1 4 1-12 1 34 1-16 1 32 1 29 1-22 1 19 1 2 1 17 1-20 1 11 1 12 1 4 1-24 1 26 1-22 1 2 1 0 1-21 1 49 1-7 1-21 1-19 1 40 1-10 1 11 1 11 1 19 1-48 1 56 1-28 1 11"/>
<path vector-effect="non-scaling-stroke" d="M0 836l1 26 1 19 1-50 1-30 1 23 1 35 1-59 1 15 1 53 1-25 1-56 1 66 1-62 1 27 1-18 1-18 1 7 1 3 1 8 1 51 1-47 1 48 1 63 1-37 1-14 1-6 1 29 1-52 1-26 1 58 1-35 1 20 1-27 1 31 1 20 1-21 1-7 1-10 1-47 1 14 1 17 1 25 1-26 1 15 1 28 1-25 1-3 1-17 1 1 1 34 1-49 1-8 1 30 1 36 1-17 1-163 1 85 1-138 1 179 1 7 1 24 1-51 1 9 1 25 1-16 1-52 1 30 1 2 1-70 1 17 1-9 1-2 1-22 1-15 1 15 1-25 1 22 1-2 1 42 1-49 1 19 1 40 1 53 1-64 1 53 1-85 1 34 1-20 1 80 1-86 1 25 1 55 1-38 1-24 1 21 1 68 1-10 1 55 1-102 1 60 1 12 1 60 1-60 1-65 1 75 1-48 1 22 1-20 1 3 1-46 1 45 1-8 1 34 1-18 1-27 1 18 1 14 1-65 1-49 1-8 1 1 1-23 1-51 1 44 1 43 1 41 1-51 1 78 1-2 1-52 1 87 1-74 1 31 1 9 1-28 1 50 1 9 1-50 1 3 1 10 1-26 1 23 1 33 1-4 1-19 1-31 1 44 1 29 1-19 1-12 1-3 1 8 1-11 1 47 1 87"/>
<path vector-effect="non-scaling-stroke" d="M0 871l1-7 1-84 1 77 1-37 1 80 1-106 1 16 1 44 1-40 1 16 1 45 1-30 1-1 1-17 1 3 1 43 1-31 1 4 1-29 1-33 1 79 1-11 1 83 1-71 1-17 1 41 1-3 1-42 1-18 1 48 1 1 1-58 1 34 1-25 1-32 1 66 1-20 1-8 1 19 1-23 1-16 1 9 1-19 1 67 1-50 1 23 1-27 1-15 1 32 1 35 1-93 1 21 1 17 1 27 1-8 1-50 1 53 1-29 1 16 1 44 1-14 1-42 1 7 1-18 1-39 1 112 1-105 1-16 1-90 1 109 1-22 1-31 1-22 1-6 1 1 1-4 1 53 1 35 1-52 1-9 1 120 1-92 1-5 1 7 1 22 1-56 1 34 1-5 1 37 1 22 1-81 1 50 1 4 1-45 1 8 1 60 1-70 1 74 1 8 1 15 1 11 1 17 1-82 1 10 1 4 1 0 1-25 1 70 1-50 1 44 1-7 1 9 1 10 1-24 1-36 1-15 1 10 1-52 1-42 1 0 1 8 1-49 1 64 1 12 1 16 1-22 1 12 1-3 1 23 1 103 1-88 1 30 1 23 1-65 1 39 1 15 1-14 1 2 1-12 1 7 1 1 1 24 1-51 1 50 1 6 1 0 1-59 1 58 1-10 1 36 1-54 1 67 1-20 1 24 1 18"/>
<path vector-effect="non-scaling-stroke" d="M0 899l1-11 1-57 1-50 1 63 1-29 1 67 1-58 1 44 1-31 1 79 1-122 1-4 1-1 1 64 1-32 1-4 1-15 1 45 1-5 1 36 1-36 1-18 1 14 1 48 1-19 1 36 1-59 1 61 1-42 1-4 1 49 1-111 1 33 1 34 1-56 1-11 1 72 1-40 1-23 1 17 1-39 1 12 1 66 1-23 1 16 1 17 1-61 1 75 1-51 1-37 1 9 1-8 1 37 1-35 1 78 1-104 1 63 1 47 1-43 1-12 1 8 1-49 1 60 1-44 1 23 1-47 1 43 1-63 1 6 1-24 1-78 1 104 1-88 1 66 1-31 1-1 1-25 1 106 1 38 1-95 1-4 1-20 1 12 1 6 1 18 1 14 1-2 1-17 1-22 1 25 1-8 1-24 1 20 1 41 1-77 1 137 1-135 1 74 1 66 1-47 1 0 1 65 1-95 1-2 1 12 1 18 1 9 1 15 1-43 1 62 1-12 1-45 1 31 1 26 1-47 1-7 1 16 1-29 1-90 1 55 1-76 1 41 1-1 1-12 1 26 1 27 1 22 1-37 1 28 1-1 1 97 1-88 1-34 1 41 1 6 1 29 1-56 1 120 1-9 1-79 1-1 1 35 1-92 1 57 1 24 1-81 1 90 1 12 1-5 1-51 1 74 1-58 1 64 1-79 1 63"/>
<path vector-effect="non-scaling-stroke" d="M0 799l1 37 1-14 1-11 1 44 1-20 1 62 1-11 1-16 1-60 1-10 1 29 1-48 1 62 1-11 1-12 1 0 1 12 1-5 1-30 1 122 1-73 1-29 1-9 1 25 1 16 1 11 1-8 1 11 1 16 1-52 1 32 1-7 1-8 1 34 1-22 1 39 1-86 1 60 1-59 1 59 1-60 1-1 1 25 1-15 1 44 1-32 1 7 1-1 1 17 1 12 1-63 1 3 1 61 1 11 1-37 1 19 1-40 1-13 1-11 1 14 1-7 1-3 1-17 1-7 1 38 1 34 1-123 1 50 1-5 1-24 1-23 1 1 1-23 1-32 1 55 1 6 1 48 1-38 1-19 1 41 1-37 1-21 1 66 1-29 1-2 1 50 1-74 1 16 1 13 1 44 1-47 1 53 1-28 1 32 1-102 1 107 1 44 1-134 1 81 1-13 1 53 1-10 1-27 1-28 1 74 1-7 1-19 1-13 1 33 1-75 1 86 1 0 1-79 1 31 1 2 1-3 1-21 1-72 1-19 1-11 1-3 1-10 1 14 1 37 1 36 1-103 1 67 1 6 1 20 1 35 1 15 1-52 1 87 1-20 1-19 1-5 1 1 1-14 1 12 1-10 1 0 1-22 1-36 1 68 1 22 1-43 1 0 1 4 1-32 1 108 1-107 1 98 1 24 1-32 1 103"/>
<path vector-effect="non-scaling-stroke" d="M0 868l1-29 1-36 1 23 1 14 1 9 1-7 1 12 1-64 1 44 1 21 1 16 1-100 1 79 1 3 1 12 1 45 1-81 1 12 1-64 1 76 1 86 1-90 1 7 1-2 1 6 1-21 1 35 1 0 1-14 1-11 1 23 1-13 1-36 1 93 1-142 1 31 1 8 1 23 1-47 1 66 1-5 1-12 1 9 1-16 1 26 1-2 1-12 1-35 1 17 1 23 1-40 1 48 1-23 1-13 1 43 1-59 1 63 1-68 1-36 1 57 1-55 1 40 1-44 1 39 1 12 1-74 1 21 1 39 1-74 1-52 1 93 1-64 1-17 1 10 1-39 1 58 1 25 1-27 1 61 1 11 1-37 1-48 1 47 1-26 1 56 1 6 1-12 1-35 1 20 1 28 1 27 1-81 1 44 1-67 1 86 1 12 1-25 1-33 1 11 1 64 1-10 1 22 1-22 1-14 1-15 1 16 1 22 1-17 1 11 1 14 1-6 1-35 1 50 1 2 1-92 1 14 1-62 1-11 1 30 1 15 1-24 1 14 1-34 1 5 1-18 1 63 1-63 1 64 1-21 1 64 1-22 1 21 1 6 1-17 1 19 1-5 1-27 1 46 1-21 1-39 1 27 1-8 1 32 1-4 1-1 1 6 1 14 1-11 1 4 1-57 1 70 1-1 1 20 1 2 1-46"/>
<path vector-effect="non-scaling-stroke" d="M0 875l1-16 1 68 1-95 1 39 1-73 1 48 1-1 1 23 1 5 1-13 1-1 1 77 1-97 1 8 1-16 1-31 1 34 1-26 1 70 1-36 1 4 1-54 1 65 1-60 1 81 1-42 1 4 1 65 1-33 1-31 1 39 1-23 1 7 1-31 1 8 1-34 1 61 1-14 1-23 1-47 1 39 1-23 1-1 1 105 1-65 1 2 1-10 1 12 1-36 1 20 1 21 1-5 1 27 1-38 1-12 1 32 1-35 1-6 1-34 1 41 1 8 1-42 1 21 1 47 1-56 1-47 1 30 1 9 1-54 1 10 1-35 1 23 1-43 1 23 1-10 1-5 1-20 1 62 1 19 1-63 1-16 1 64 1 11 1 13 1 14 1-43 1 5 1 12 1 2 1 44 1-80 1-18 1 64 1-30 1-11 1 16 1 54 1 30 1-43 1 67 1-57 1 7 1 33 1-36 1-24 1-6 1 25 1 7 1-8 1-29 1 58 1-1 1-12 1-53 1 20 1-3 1-11 1-32 1-42 1 4 1-39 1 46 1-24 1 21 1-4 1 32 1-32 1 32 1 54 1-21 1 21 1 8 1-43 1 31 1 33 1-12 1 30 1-41 1-33 1 36 1-12 1 0 1-1 1 9 1-26 1 1 1-13 1 78 1-40 1 21 1 5 1 73 1-110 1 34 1 18"/>
<path vector-effect="non-scaling-stroke" d="M0 873l1 27 1-63 1-2 1 28 1 0 1-21 1-58 1-2 1 23 1 56 1-23 1-1 1-9 1-60 1 109 1-69 1-17 1 43 1-2 1 13 1-10 1 13 1-79 1 102 1-92 1 96 1 31 1-35 1-17 1-50 1 48 1 59 1-86 1-13 1 30 1-9 1-8 1 0 1-11 1 40 1-17 1 42 1-125 1 49 1 15 1 49 1-32 1 2 1 5 1-15 1 161 1-157 1-51 1 14 1 56 1 35 1-75 1 27 1 3 1-34 1-44 1 26 1-3 1-24 1 84 1-50 1-97 1 3 1 15 1 31 1 19 1-81 1 9 1 36 1-9 1-82 1 79 1 15 1 13 1 30 1-5 1-49 1-3 1 46 1 26 1 45 1-151 1 32 1 67 1-27 1 14 1-43 1 7 1-51 1 84 1 9 1-24 1 21 1 39 1-3 1-29 1 16 1 31 1-41 1 31 1-3 1-8 1-32 1 104 1-37 1-56 1 44 1 55 1-29 1-59 1 12 1-59 1-97 1 99 1-41 1-56 1 1 1 24 1 25 1 30 1 14 1-43 1 0 1 36 1 1 1 72 1 49 1-148 1-9 1 46 1 56 1-39 1 8 1-24 1 6 1 8 1 22 1-7 1 40 1-51 1 5 1 9 1-51 1 88 1-19 1 23 1 44 1-66 1 29 1-35"/>
<path vector-effect="non-scaling-stroke" d="M0 866l1-17 1-23 1 14 1-25 1 34 1 24 1-29 1-42 1 45 1 19 1-15 1 9 1 23 1-46 1 11 1-19 1 10 1 19 1-56 1-10 1 35 1-26 1 128 1-64 1-12 1 4 1 61 1-55 1 3 1-35 1 64 1 17 1-59 1-56 1 37 1 29 1-12 1 8 1-46 1 25 1-42 1 35 1-16 1 131 1-100 1-27 1-10 1 87 1-80 1 51 1-26 1-3 1 19 1-31 1 6 1 12 1-26 1 3 1-30 1 32 1 15 1-81 1 30 1 20 1 1 1-32 1-1 1-37 1 24 1 0 1-25 1-14 1-76 1 8 1 63 1-30 1 31 1 24 1-30 1 90 1-34 1-15 1-5 1-64 1 93 1-21 1-11 1 35 1-103 1 43 1 64 1-73 1 55 1-51 1 23 1-28 1-5 1 92 1-16 1-20 1 74 1-40 1 41 1-78 1 49 1-30 1 11 1-8 1-6 1 68 1-35 1 7 1-54 1 24 1-22 1 27 1-28 1-52 1-33 1 51 1-68 1-28 1 54 1-20 1-11 1 27 1 17 1 16 1 76 1-33 1-38 1 31 1 19 1-56 1 31 1 55 1-23 1 11 1-17 1 2 1-128 1 168 1-58 1 1 1 96 1-80 1-14 1 111 1-104 1 5 1 41 1 8 1 20 1-75 1 120"/>
</g>
<polyline points="61.10,220.25 64.92,222.50 68.74,220.10 72.56,214.60 76.38,223.10 80.20,215.30 84.02,186.00 87.84,214.30 91.66,224.50 95.49,189.00 99.31,176.50 103.13,200.80 106.95,195.90 110.77,199.50 114.59,202.80 118.41,206.50 122.23,184.40 126.05,180.70 129.87,168.60 133.69,174.70 137.51,188.10 141.33,185.30 145.15,217.90 148.97,219.50 152.79,213.90 156.62,226.20 160.44,203.40 164.26,220.50 168.08,198.80 171.90,229.30 175.72,213.90 179.54,210.70 183.36,217.50 187.18,202.40 191.00,213.30 194.82,201.50 198.64,214.20 202.46,192.90 206.28,182.00 210.10,200.10 213.92,206.10 217.74,190.30 221.57,195.20 225.39,231.00 229.21,209.60 233.03,210.40 236.85,188.30 240.67,224.50 244.49,198.60 248.31,191.00 252.13,188.10 255.95,232.30 259.77,228.40 263.59,205.40 267.41,180.70 271.23,203.00 275.05,202.10 278.87,192.70 282.69,212.60 286.52,181.10 290.34,182.80 294.16,153.60 297.98,153.60 301.80,199.40 305.62,185.70 309.44,162.40 313.26,177.70 317.08,150.10 320.90,142.70 324.72,161.60 328.54,115.90 332.36,98.20 336.18,43.20 340.00,144.30 343.82,111.10 347.65,81.70 351.47,48.50 355.29,105.40 359.11,141.10 362.93,106.20 366.75,147.20 370.57,185.70 374.39,172.80 378.21,157.60 382.03,118.30 385.85,98.20 389.67,143.20 393.49,156.00 397.31,192.10 401.13,140.40 404.95,157.60 408.77,113.80 412.60,107.00 416.42,86.50 420.24,96.10 424.06,154.90 427.88,125.00 431.70,182.30 435.52,185.50 439.34,188.40 443.16,172.30 446.98,175.20 450.80,169.10 454.62,230.80 458.44,224.00 462.26,171.30 466.08,139.90 469.90,134.80 473.72,146.70 477.55,152.30 481.37,151.80 485.19,184.10 489.01,210.40 492.83,219.40 496.65,161.10 500.47,202.80 504.29,150.10 508.11,105.20 511.93,11.50 515.75,88.20 519.57,76.10 523.39,128.30 527.21,13.90 531.03,105.70 534.85,41.60 538.68,85.00 542.50,129.50 546.32,130.90 550.14,157.20 553.96,127.80 557.78,111.30 561.60,134.30 565.42,162.30 569.24,178.80 573.06,175.00 576.88,131.30 580.70,142.40 584.52,146.60 588.34,158.20 592.16,143.60 595.98,168.80 599.80,164.00 603.63,170.50 607.45,151.80 611.27,145.80 615.09,149.70 618.91,164.00 622.73,182.70 626.55,130.50 630.37,181.50 634.19,190.50 638.01,175.60 641.83,177.30 645.65,138.50 649.47,190.90 653.29,220.60" fill="none" stroke="#db2a2c" stroke-width="1.1" stroke-linejoin="round"/>
<polyline points="61.10,760.30 64.92,755.30 68.74,749.00 72.56,736.50 76.38,734.10 80.20,737.60 84.02,729.40 87.84,728.00 91.66,718.90 95.49,714.70 99.31,713.30 103.13,715.20 106.95,718.50 110.77,708.10 114.59,710.00 118.41,705.70 122.23,700.50 126.05,702.50 129.87,694.80 133.69,698.20 137.51,702.50 141.33,708.90 145.15,717.10 148.97,722.70 152.79,729.10 156.62,728.40 160.44,736.90 164.26,739.30 168.08,734.10 171.90,737.60 175.72,731.30 179.54,733.10 183.36,728.80 187.18,729.40 191.00,728.00 194.82,720.30 198.64,717.80 202.46,717.50 206.28,714.20 210.10,709.60 213.92,719.20 217.74,717.80 221.57,716.40 225.39,718.50 229.21,722.30 233.03,725.60 236.85,725.60 240.67,721.80 244.49,725.60 248.31,724.60 252.13,729.40 255.95,724.20 259.77,720.30 263.59,720.90 267.41,722.70 271.23,730.30 275.05,723.50 278.87,709.00 282.69,697.40 286.52,692.50 290.34,697.50 294.16,695.40 297.98,684.60 301.80,678.30 305.62,674.40 309.44,669.30 313.26,673.00 317.08,661.30 320.90,648.50 324.72,624.90 328.54,620.20 332.36,612.70 336.18,599.70 340.00,586.20 343.82,573.00 347.65,579.80 351.47,580.10 355.29,595.50 359.11,605.30 362.93,615.20 366.75,625.00 370.57,636.90 374.39,637.20 378.21,639.00 382.03,643.30 385.85,656.30 389.67,646.10 393.49,639.30 397.31,635.80 401.13,636.20 404.95,633.70 408.77,624.90 412.60,623.00 416.42,613.80 420.24,617.80 424.06,623.00 427.88,635.10 431.70,643.60 435.52,663.40 439.34,676.20 443.16,687.80 446.98,700.90 450.80,702.30 454.62,691.00 458.44,679.70 462.26,682.90 466.08,678.30 469.90,673.30 473.72,665.50 477.55,668.80 481.37,672.20 485.19,674.70 489.01,682.90 492.83,688.20 496.65,682.50 500.47,656.30 504.29,635.80 508.11,621.50 511.93,606.20 515.75,583.20 519.57,561.60 523.39,539.90 527.21,542.00 531.03,563.30 534.85,567.10 538.68,583.50 542.50,582.70 546.32,595.90 550.14,603.70 553.96,619.20 557.78,639.80 561.60,650.40 565.42,644.70 569.24,638.80 573.06,645.40 576.88,655.80 580.70,654.10 584.52,656.20 588.34,653.30 592.16,654.80 595.98,656.40 599.80,657.40 603.63,658.40 607.45,658.40 611.27,667.70 615.09,663.50 618.91,663.20 622.73,662.30 626.55,665.20 630.37,675.40 634.19,676.50 638.01,681.00 641.83,682.90 645.65,702.00 649.47,714.70 653.29,724.90" fill="none" stroke="#2020d4" stroke-width="1.2" stroke-linejoin="round"/>
<polyline points="61.10,1024.50 64.92,1019.50 68.74,1013.90 72.56,1002.10 76.38,1000.40 80.20,1003.90 84.02,996.10 87.84,994.00 91.66,985.50 95.49,974.90 99.31,966.70 103.13,962.20 106.95,958.60 110.77,942.30 114.59,937.80 118.41,928.20 122.23,919.40 126.05,971.40 129.87,964.30 133.69,967.70 137.51,971.60 141.33,977.50 145.15,984.80 148.97,990.70 152.79,996.20 156.62,994.60 160.44,1003.20 164.26,1005.10 168.08,1000.50 171.90,1003.80 175.72,997.50 179.54,999.60 183.36,995.30 187.18,996.20 191.00,994.60 194.82,987.40 198.64,985.40 202.46,985.20 206.28,982.10 210.10,977.80 213.92,986.50 217.74,985.20 221.57,984.23 225.39,986.17 229.21,989.67 233.03,992.71 236.85,992.71 240.67,989.21 244.49,992.71 248.31,991.79 252.13,996.21 255.95,991.42 259.77,987.83 263.59,988.38 267.41,990.04 271.23,996.40 275.05,990.20 278.87,979.20 282.69,967.00 286.52,924.30 290.34,902.90 294.16,893.00 297.98,955.20 301.80,948.80 305.62,944.80 309.44,940.80 313.26,944.30 317.08,932.70 320.90,921.50 324.72,899.00 328.54,895.50 332.36,887.00 336.18,874.10 340.00,862.90 343.82,851.70 347.65,858.10 351.47,858.60 355.29,872.00 359.11,881.50 362.93,890.50 366.75,899.60 370.57,911.00 374.39,911.60 378.21,912.40 382.03,910.40 385.85,916.90 389.67,900.30 393.49,888.30 397.31,878.70 401.13,902.40 404.95,891.50 408.77,875.40 412.60,836.90 416.42,803.50 420.24,810.00 424.06,849.00 427.88,856.20 431.70,916.80 435.52,935.60 439.34,947.80 443.16,959.00 446.98,969.60 450.80,970.90 454.62,959.60 458.44,950.30 462.26,953.20 466.08,948.40 469.90,944.40 473.72,937.50 477.55,941.20 481.37,943.90 485.19,946.00 489.01,954.00 492.83,958.40 496.65,952.90 500.47,927.50 504.29,912.30 508.11,897.50 511.93,883.00 515.75,861.00 519.57,843.30 523.39,821.20 527.21,823.80 531.03,842.50 534.85,846.50 538.68,861.00 542.50,860.70 546.32,873.00 550.14,880.30 553.96,896.30 557.78,914.00 561.60,923.60 565.42,918.80 569.24,848.20 573.06,822.50 576.88,840.90 580.70,883.50 584.52,904.30 588.34,845.60 592.16,828.40 595.98,853.20 599.80,929.70 603.63,930.90 607.45,931.40 611.27,939.40 615.09,935.60 618.91,935.30 622.73,934.30 626.55,937.00 630.37,946.20 634.19,947.60 638.01,951.30 641.83,953.50 645.65,969.70 649.47,981.60 653.29,992.10" fill="none" stroke="#f2ab30" stroke-width="1.2" stroke-linejoin="round"/>
<rect x="31.6" y="0.9" width="651.60" height="242.44" fill="none" stroke="#949494" stroke-width="1.1"/>
<line x1="61.10" y1="243.34" x2="61.10" y2="245.64" stroke="#707070" stroke-width="0.8"/><text transform="translate(61.10 252.09) scale(0.8 1)" text-anchor="middle" font-size="7" fill="#333">0</text><line x1="137.51" y1="243.34" x2="137.51" y2="245.64" stroke="#707070" stroke-width="0.8"/><text transform="translate(137.51 252.09) scale(0.8 1)" text-anchor="middle" font-size="7" fill="#333">20</text><line x1="213.92" y1="243.34" x2="213.92" y2="245.64" stroke="#707070" stroke-width="0.8"/><text transform="translate(213.92 252.09) scale(0.8 1)" text-anchor="middle" font-size="7" fill="#333">40</text><line x1="290.34" y1="243.34" x2="290.34" y2="245.64" stroke="#707070" stroke-width="0.8"/><text transform="translate(290.34 252.09) scale(0.8 1)" text-anchor="middle" font-size="7" fill="#333">60</text><line x1="366.75" y1="243.34" x2="366.75" y2="245.64" stroke="#707070" stroke-width="0.8"/><text transform="translate(366.75 252.09) scale(0.8 1)" text-anchor="middle" font-size="7" fill="#333">80</text><line x1="443.16" y1="243.34" x2="443.16" y2="245.64" stroke="#707070" stroke-width="0.8"/><text transform="translate(443.16 252.09) scale(0.8 1)" text-anchor="middle" font-size="7" fill="#333">100</text><line x1="519.57" y1="243.34" x2="519.57" y2="245.64" stroke="#707070" stroke-width="0.8"/><text transform="translate(519.57 252.09) scale(0.8 1)" text-anchor="middle" font-size="7" fill="#333">120</text><line x1="595.98" y1="243.34" x2="595.98" y2="245.64" stroke="#707070" stroke-width="0.8"/><text transform="translate(595.98 252.09) scale(0.8 1)" text-anchor="middle" font-size="7" fill="#333">140</text><line x1="672.40" y1="243.34" x2="672.40" y2="245.64" stroke="#707070" stroke-width="0.8"/><text transform="translate(672.40 252.09) scale(0.8 1)" text-anchor="middle" font-size="7" fill="#333">160</text>
<line x1="29.00" y1="220.71" x2="31.6" y2="220.71" stroke="#707070" stroke-width="0.8"/><text transform="translate(27.45 223.51) scale(0.8 1)" text-anchor="end" font-size="7" fill="#333">50</text><line x1="29.00" y1="192.68" x2="31.6" y2="192.68" stroke="#707070" stroke-width="0.8"/><text transform="translate(27.45 195.48) scale(0.8 1)" text-anchor="end" font-size="7" fill="#333">100</text><line x1="29.00" y1="164.65" x2="31.6" y2="164.65" stroke="#707070" stroke-width="0.8"/><text transform="translate(27.45 167.45) scale(0.8 1)" text-anchor="end" font-size="7" fill="#333">150</text><line x1="29.00" y1="136.62" x2="31.6" y2="136.62" stroke="#707070" stroke-width="0.8"/><text transform="translate(27.45 139.42) scale(0.8 1)" text-anchor="end" font-size="7" fill="#333">200</text><line x1="29.00" y1="108.59" x2="31.6" y2="108.59" stroke="#707070" stroke-width="0.8"/><text transform="translate(27.45 111.39) scale(0.8 1)" text-anchor="end" font-size="7" fill="#333">250</text><line x1="29.00" y1="80.56" x2="31.6" y2="80.56" stroke="#707070" stroke-width="0.8"/><text transform="translate(27.45 83.36) scale(0.8 1)" text-anchor="end" font-size="7" fill="#333">300</text><line x1="29.00" y1="52.53" x2="31.6" y2="52.53" stroke="#707070" stroke-width="0.8"/><text transform="translate(27.45 55.33) scale(0.8 1)" text-anchor="end" font-size="7" fill="#333">350</text><line x1="29.00" y1="24.50" x2="31.6" y2="24.50" stroke="#707070" stroke-width="0.8"/><text transform="translate(27.45 27.30) scale(0.8 1)" text-anchor="end" font-size="7" fill="#333">400</text>
<text transform="translate(12.5 122.72) rotate(-90)" text-anchor="middle" font-size="11.73" fill="#262626">URTI encounters per IGR</text>
<rect x="31.6" y="264.7" width="651.60" height="242.64" fill="none" stroke="#949494" stroke-width="1.1"/>
<line x1="61.10" y1="507.34" x2="61.10" y2="509.64" stroke="#707070" stroke-width="0.8"/><text transform="translate(61.10 516.09) scale(0.8 1)" text-anchor="middle" font-size="7" fill="#333">0</text><line x1="137.51" y1="507.34" x2="137.51" y2="509.64" stroke="#707070" stroke-width="0.8"/><text transform="translate(137.51 516.09) scale(0.8 1)" text-anchor="middle" font-size="7" fill="#333">20</text><line x1="213.92" y1="507.34" x2="213.92" y2="509.64" stroke="#707070" stroke-width="0.8"/><text transform="translate(213.92 516.09) scale(0.8 1)" text-anchor="middle" font-size="7" fill="#333">40</text><line x1="290.34" y1="507.34" x2="290.34" y2="509.64" stroke="#707070" stroke-width="0.8"/><text transform="translate(290.34 516.09) scale(0.8 1)" text-anchor="middle" font-size="7" fill="#333">60</text><line x1="366.75" y1="507.34" x2="366.75" y2="509.64" stroke="#707070" stroke-width="0.8"/><text transform="translate(366.75 516.09) scale(0.8 1)" text-anchor="middle" font-size="7" fill="#333">80</text><line x1="443.16" y1="507.34" x2="443.16" y2="509.64" stroke="#707070" stroke-width="0.8"/><text transform="translate(443.16 516.09) scale(0.8 1)" text-anchor="middle" font-size="7" fill="#333">100</text><line x1="519.57" y1="507.34" x2="519.57" y2="509.64" stroke="#707070" stroke-width="0.8"/><text transform="translate(519.57 516.09) scale(0.8 1)" text-anchor="middle" font-size="7" fill="#333">120</text><line x1="595.98" y1="507.34" x2="595.98" y2="509.64" stroke="#707070" stroke-width="0.8"/><text transform="translate(595.98 516.09) scale(0.8 1)" text-anchor="middle" font-size="7" fill="#333">140</text><line x1="672.40" y1="507.34" x2="672.40" y2="509.64" stroke="#707070" stroke-width="0.8"/><text transform="translate(672.40 516.09) scale(0.8 1)" text-anchor="middle" font-size="7" fill="#333">160</text>
<line x1="29.00" y1="479.75" x2="31.6" y2="479.75" stroke="#707070" stroke-width="0.8"/><text transform="translate(27.45 482.55) scale(0.8 1)" text-anchor="end" font-size="7" fill="#333">–100</text><line x1="29.00" y1="445.40" x2="31.6" y2="445.40" stroke="#707070" stroke-width="0.8"/><text transform="translate(27.45 448.20) scale(0.8 1)" text-anchor="end" font-size="7" fill="#333">0</text><line x1="29.00" y1="411.05" x2="31.6" y2="411.05" stroke="#707070" stroke-width="0.8"/><text transform="translate(27.45 413.85) scale(0.8 1)" text-anchor="end" font-size="7" fill="#333">100</text><line x1="29.00" y1="376.70" x2="31.6" y2="376.70" stroke="#707070" stroke-width="0.8"/><text transform="translate(27.45 379.50) scale(0.8 1)" text-anchor="end" font-size="7" fill="#333">200</text><line x1="29.00" y1="342.35" x2="31.6" y2="342.35" stroke="#707070" stroke-width="0.8"/><text transform="translate(27.45 345.15) scale(0.8 1)" text-anchor="end" font-size="7" fill="#333">300</text><line x1="29.00" y1="308.00" x2="31.6" y2="308.00" stroke="#707070" stroke-width="0.8"/><text transform="translate(27.45 310.80) scale(0.8 1)" text-anchor="end" font-size="7" fill="#333">400</text><line x1="29.00" y1="273.65" x2="31.6" y2="273.65" stroke="#707070" stroke-width="0.8"/><text transform="translate(27.45 276.45) scale(0.8 1)" text-anchor="end" font-size="7" fill="#333">500</text>
<text transform="translate(12.5 386.62) rotate(-90)" text-anchor="middle" font-size="11.73" fill="#262626">URTI encounters per IGR</text>
<rect x="31.6" y="528.85" width="651.60" height="242.49" fill="none" stroke="#949494" stroke-width="1.1"/>
<line x1="61.10" y1="771.34" x2="61.10" y2="773.64" stroke="#707070" stroke-width="0.8"/><text transform="translate(61.10 780.09) scale(0.8 1)" text-anchor="middle" font-size="7" fill="#333">0</text><line x1="137.51" y1="771.34" x2="137.51" y2="773.64" stroke="#707070" stroke-width="0.8"/><text transform="translate(137.51 780.09) scale(0.8 1)" text-anchor="middle" font-size="7" fill="#333">20</text><line x1="213.92" y1="771.34" x2="213.92" y2="773.64" stroke="#707070" stroke-width="0.8"/><text transform="translate(213.92 780.09) scale(0.8 1)" text-anchor="middle" font-size="7" fill="#333">40</text><line x1="290.34" y1="771.34" x2="290.34" y2="773.64" stroke="#707070" stroke-width="0.8"/><text transform="translate(290.34 780.09) scale(0.8 1)" text-anchor="middle" font-size="7" fill="#333">60</text><line x1="366.75" y1="771.34" x2="366.75" y2="773.64" stroke="#707070" stroke-width="0.8"/><text transform="translate(366.75 780.09) scale(0.8 1)" text-anchor="middle" font-size="7" fill="#333">80</text><line x1="443.16" y1="771.34" x2="443.16" y2="773.64" stroke="#707070" stroke-width="0.8"/><text transform="translate(443.16 780.09) scale(0.8 1)" text-anchor="middle" font-size="7" fill="#333">100</text><line x1="519.57" y1="771.34" x2="519.57" y2="773.64" stroke="#707070" stroke-width="0.8"/><text transform="translate(519.57 780.09) scale(0.8 1)" text-anchor="middle" font-size="7" fill="#333">120</text><line x1="595.98" y1="771.34" x2="595.98" y2="773.64" stroke="#707070" stroke-width="0.8"/><text transform="translate(595.98 780.09) scale(0.8 1)" text-anchor="middle" font-size="7" fill="#333">140</text><line x1="672.40" y1="771.34" x2="672.40" y2="773.64" stroke="#707070" stroke-width="0.8"/><text transform="translate(672.40 780.09) scale(0.8 1)" text-anchor="middle" font-size="7" fill="#333">160</text>
<line x1="29.00" y1="742.30" x2="31.6" y2="742.30" stroke="#707070" stroke-width="0.8"/><text transform="translate(27.45 745.10) scale(0.8 1)" text-anchor="end" font-size="7" fill="#333">50</text><line x1="29.00" y1="703.96" x2="31.6" y2="703.96" stroke="#707070" stroke-width="0.8"/><text transform="translate(27.45 706.76) scale(0.8 1)" text-anchor="end" font-size="7" fill="#333">100</text><line x1="29.00" y1="665.62" x2="31.6" y2="665.62" stroke="#707070" stroke-width="0.8"/><text transform="translate(27.45 668.42) scale(0.8 1)" text-anchor="end" font-size="7" fill="#333">150</text><line x1="29.00" y1="627.28" x2="31.6" y2="627.28" stroke="#707070" stroke-width="0.8"/><text transform="translate(27.45 630.08) scale(0.8 1)" text-anchor="end" font-size="7" fill="#333">200</text><line x1="29.00" y1="588.94" x2="31.6" y2="588.94" stroke="#707070" stroke-width="0.8"/><text transform="translate(27.45 591.74) scale(0.8 1)" text-anchor="end" font-size="7" fill="#333">250</text><line x1="29.00" y1="550.60" x2="31.6" y2="550.60" stroke="#707070" stroke-width="0.8"/><text transform="translate(27.45 553.40) scale(0.8 1)" text-anchor="end" font-size="7" fill="#333">300</text>
<text transform="translate(12.5 650.70) rotate(-90)" text-anchor="middle" font-size="11.73" fill="#262626">URTI encounters per IGR</text>
<rect x="31.6" y="792.7" width="651.60" height="242.64" fill="none" stroke="#949494" stroke-width="1.1"/>
<line x1="61.10" y1="1035.34" x2="61.10" y2="1037.64" stroke="#707070" stroke-width="0.8"/><text transform="translate(61.10 1044.09) scale(0.8 1)" text-anchor="middle" font-size="7" fill="#333">0</text><line x1="137.51" y1="1035.34" x2="137.51" y2="1037.64" stroke="#707070" stroke-width="0.8"/><text transform="translate(137.51 1044.09) scale(0.8 1)" text-anchor="middle" font-size="7" fill="#333">20</text><line x1="213.92" y1="1035.34" x2="213.92" y2="1037.64" stroke="#707070" stroke-width="0.8"/><text transform="translate(213.92 1044.09) scale(0.8 1)" text-anchor="middle" font-size="7" fill="#333">40</text><line x1="290.34" y1="1035.34" x2="290.34" y2="1037.64" stroke="#707070" stroke-width="0.8"/><text transform="translate(290.34 1044.09) scale(0.8 1)" text-anchor="middle" font-size="7" fill="#333">60</text><line x1="366.75" y1="1035.34" x2="366.75" y2="1037.64" stroke="#707070" stroke-width="0.8"/><text transform="translate(366.75 1044.09) scale(0.8 1)" text-anchor="middle" font-size="7" fill="#333">80</text><line x1="443.16" y1="1035.34" x2="443.16" y2="1037.64" stroke="#707070" stroke-width="0.8"/><text transform="translate(443.16 1044.09) scale(0.8 1)" text-anchor="middle" font-size="7" fill="#333">100</text><line x1="519.57" y1="1035.34" x2="519.57" y2="1037.64" stroke="#707070" stroke-width="0.8"/><text transform="translate(519.57 1044.09) scale(0.8 1)" text-anchor="middle" font-size="7" fill="#333">120</text><line x1="595.98" y1="1035.34" x2="595.98" y2="1037.64" stroke="#707070" stroke-width="0.8"/><text transform="translate(595.98 1044.09) scale(0.8 1)" text-anchor="middle" font-size="7" fill="#333">140</text><line x1="672.40" y1="1035.34" x2="672.40" y2="1037.64" stroke="#707070" stroke-width="0.8"/><text transform="translate(672.40 1044.09) scale(0.8 1)" text-anchor="middle" font-size="7" fill="#333">160</text>
<line x1="29.00" y1="1008.10" x2="31.6" y2="1008.10" stroke="#707070" stroke-width="0.8"/><text transform="translate(27.45 1010.90) scale(0.8 1)" text-anchor="end" font-size="7" fill="#333">50</text><line x1="29.00" y1="972.77" x2="31.6" y2="972.77" stroke="#707070" stroke-width="0.8"/><text transform="translate(27.45 975.57) scale(0.8 1)" text-anchor="end" font-size="7" fill="#333">100</text><line x1="29.00" y1="937.44" x2="31.6" y2="937.44" stroke="#707070" stroke-width="0.8"/><text transform="translate(27.45 940.24) scale(0.8 1)" text-anchor="end" font-size="7" fill="#333">150</text><line x1="29.00" y1="902.11" x2="31.6" y2="902.11" stroke="#707070" stroke-width="0.8"/><text transform="translate(27.45 904.91) scale(0.8 1)" text-anchor="end" font-size="7" fill="#333">200</text><line x1="29.00" y1="866.78" x2="31.6" y2="866.78" stroke="#707070" stroke-width="0.8"/><text transform="translate(27.45 869.58) scale(0.8 1)" text-anchor="end" font-size="7" fill="#333">250</text><line x1="29.00" y1="831.45" x2="31.6" y2="831.45" stroke="#707070" stroke-width="0.8"/><text transform="translate(27.45 834.25) scale(0.8 1)" text-anchor="end" font-size="7" fill="#333">300</text><line x1="29.00" y1="796.12" x2="31.6" y2="796.12" stroke="#707070" stroke-width="0.8"/><text transform="translate(27.45 798.92) scale(0.8 1)" text-anchor="end" font-size="7" fill="#333">350</text>
<text transform="translate(12.5 914.62) rotate(-90)" text-anchor="middle" font-size="11.73" fill="#262626">URTI encounters per IGR</text>
<rect x="583.4" y="6.4" width="93.50" height="20.10" rx="2" fill="#fff" fill-opacity="0.8" stroke="#dcdcdc" stroke-width="0.8"/>
<line x1="587.3" y1="15.4" x2="611.6" y2="15.4" stroke="#db2a2c" stroke-opacity="1" stroke-width="1.25"/>
<text x="671.9" y="19.70" text-anchor="end" font-size="11.7" fill="#262626">Real Data</text>
<rect x="555.2" y="270.0" width="122.00" height="20.20" rx="2" fill="#fff" fill-opacity="0.8" stroke="#dcdcdc" stroke-width="0.8"/>
<line x1="559.7" y1="279.0" x2="583.8" y2="279.0" stroke="#008000" stroke-opacity="0.2" stroke-width="1.25"/>
<text x="671.9" y="283.30" text-anchor="end" font-size="11.7" fill="#262626">Simulated Data</text>
<rect x="550.6" y="534.5" width="126.60" height="20.10" rx="2" fill="#fff" fill-opacity="0.8" stroke="#dcdcdc" stroke-width="0.8"/>
<line x1="555.2" y1="543.4" x2="579.2" y2="543.4" stroke="#2020d4" stroke-opacity="1" stroke-width="1.25"/>
<text x="671.9" y="547.70" text-anchor="end" font-size="11.7" fill="#262626">Synthetic Series</text>
<rect x="493.5" y="799.0" width="184.00" height="20.00" rx="2" fill="#fff" fill-opacity="0.8" stroke="#dcdcdc" stroke-width="0.8"/>
<line x1="498.6" y1="807.4" x2="521.9" y2="807.4" stroke="#f2ab30" stroke-opacity="1" stroke-width="1.25"/>
<text x="671.9" y="811.70" text-anchor="end" font-size="11.7" fill="#262626">Synthetic Series with Noise</text>
<text x="357.5" y="1057.9" text-anchor="middle" font-size="14.7" fill="#262626">Number of weeks</text>
</svg></body></html>
